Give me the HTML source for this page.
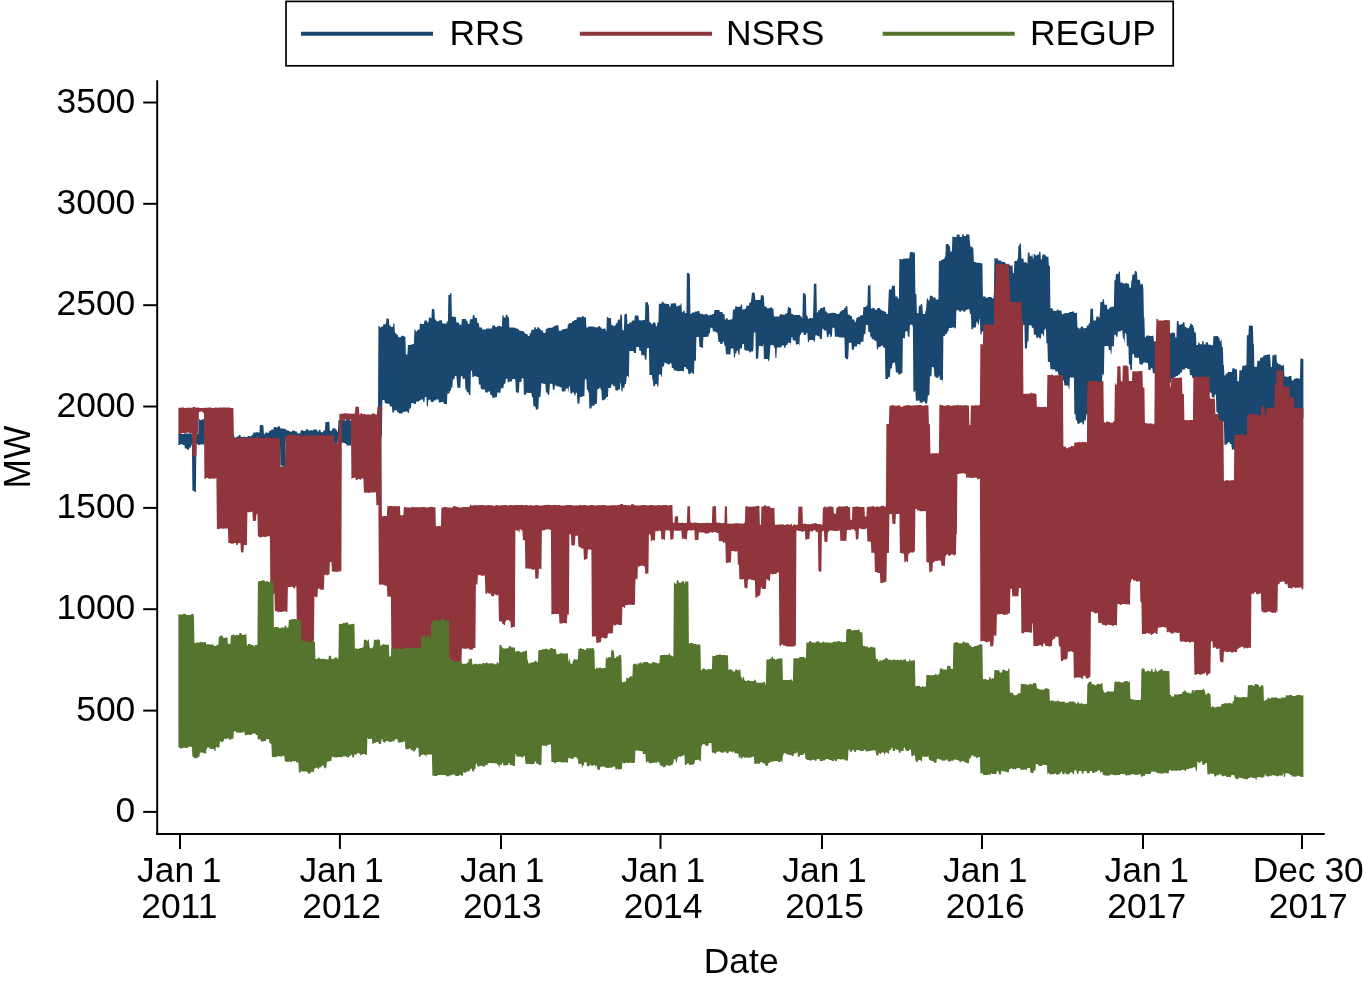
<!DOCTYPE html>
<html><head><meta charset="utf-8"><title>chart</title>
<style>
html,body{margin:0;padding:0;background:#fff;}
body{width:1363px;height:981px;overflow:hidden;}
svg{display:block;will-change:transform;}
text{font-family:"Liberation Sans",sans-serif;fill:#000;}
</style></head><body>
<svg width="1363" height="981" viewBox="0 0 1363 981">
<rect x="0" y="0" width="1363" height="981" fill="#fff"/>

<polygon fill="#1a476f" points="178.4,433.9 178.9,433.9 179.4,433.9 179.9,433.9 180.4,433.9 180.9,433.8 181.4,433.8 181.9,434.1 182.4,434.1 182.9,434.1 183.4,433.9 183.9,433.9 184.4,433.2 184.9,433.2 185.4,433.2 185.9,433.4 186.4,433.4 186.9,433.6 187.4,433.6 187.9,433.6 188.4,433.6 188.9,433.6 189.4,433.4 189.9,433.4 190.4,433.4 190.9,433.4 191.4,433.4 191.9,433.9 192.4,433.9 192.9,433.9 193.4,433.8 193.9,433.8 194.4,433.4 194.9,433.4 195.4,433.4 195.9,433.0 196.4,433.0 196.9,433.0 197.4,434.0 197.9,434.0 198.4,432.7 198.9,419.1 199.4,419.1 199.9,420.0 200.4,420.0 200.9,420.0 201.4,420.0 201.9,419.2 202.4,419.2 202.9,419.2 203.4,419.2 203.9,419.2 204.4,434.7 204.9,434.7 205.4,433.7 205.9,433.7 206.4,433.7 206.9,435.9 207.4,435.9 207.9,433.5 208.4,433.5 208.9,433.5 209.4,433.5 209.9,434.1 210.4,434.1 210.9,434.1 211.4,434.1 211.9,434.1 212.4,435.0 212.9,435.0 213.4,434.7 213.9,434.7 214.4,434.7 214.9,434.7 215.4,434.7 215.9,434.5 216.4,434.5 216.9,434.5 217.4,434.5 217.9,434.5 218.4,434.8 218.9,434.8 219.4,434.8 219.9,434.8 220.4,434.7 220.9,434.7 221.4,434.7 221.9,434.7 222.4,434.7 222.9,433.6 223.4,433.6 223.9,433.6 224.4,433.6 224.9,433.4 225.4,433.4 225.9,433.4 226.4,433.4 226.9,433.4 227.4,433.7 227.9,433.7 228.4,433.7 228.9,433.7 229.4,435.4 229.9,435.4 230.4,435.4 230.9,434.0 231.4,434.0 231.9,434.0 232.4,434.0 232.9,434.7 233.4,434.7 233.9,433.8 234.4,437.4 234.9,437.4 235.4,437.4 235.9,437.4 236.4,437.4 236.9,436.6 237.4,436.6 237.9,436.6 238.4,436.6 238.9,435.1 239.4,435.1 239.9,435.1 240.4,435.1 240.9,436.9 241.4,436.9 241.9,436.9 242.4,436.9 242.9,436.9 243.4,436.8 243.9,436.8 244.4,436.8 244.9,436.8 245.4,437.1 245.9,437.1 246.4,437.1 246.9,437.1 247.4,437.1 247.9,435.9 248.4,435.9 248.9,435.9 249.4,435.9 249.9,436.2 250.4,436.2 250.9,436.2 251.4,436.2 251.9,434.8 252.4,434.8 252.9,434.8 253.4,432.4 253.9,432.4 254.4,432.6 254.9,432.6 255.4,432.6 255.9,432.6 256.4,432.6 256.9,432.1 257.4,432.1 257.9,432.1 258.4,432.7 258.9,432.7 259.4,432.7 259.9,425.0 260.4,425.0 260.9,425.0 261.4,425.0 261.9,425.0 262.4,425.2 262.9,425.2 263.4,425.2 263.9,434.2 264.4,434.2 264.9,434.2 265.4,432.4 265.9,432.4 266.4,432.4 266.9,432.4 267.4,432.7 267.9,432.7 268.4,432.7 268.9,432.7 269.4,430.7 269.9,430.7 270.4,430.7 270.9,430.7 271.4,429.6 271.9,429.6 272.4,429.6 272.9,429.6 273.4,429.6 273.9,427.1 274.4,427.1 274.9,427.1 275.4,427.1 275.9,427.1 276.4,427.4 276.9,427.4 277.4,427.4 277.9,426.5 278.4,426.5 278.9,426.3 279.4,426.3 279.9,426.3 280.4,428.4 280.9,428.4 281.4,428.5 281.9,428.5 282.4,428.5 282.9,428.5 283.4,428.7 283.9,428.7 284.4,428.7 284.9,428.7 285.4,429.2 285.9,429.2 286.4,430.3 286.9,430.3 287.4,430.3 287.9,430.7 288.4,430.7 288.9,430.7 289.4,430.7 289.9,431.7 290.4,431.7 290.9,431.7 291.4,431.7 291.9,431.7 292.4,430.3 292.9,430.3 293.4,430.7 293.9,430.7 294.4,430.7 294.9,430.7 295.4,431.5 295.9,431.5 296.4,431.5 296.9,431.5 297.4,433.4 297.9,433.4 298.4,433.4 298.9,433.2 299.4,433.2 299.9,433.2 300.4,433.2 300.9,430.3 301.4,430.3 301.9,430.3 302.4,430.3 302.9,430.3 303.4,431.0 303.9,431.0 304.4,430.9 304.9,430.9 305.4,430.9 305.9,429.3 306.4,429.3 306.9,429.3 307.4,429.3 307.9,429.3 308.4,430.4 308.9,430.4 309.4,430.4 309.9,430.4 310.4,430.4 310.9,430.1 311.4,430.1 311.9,430.5 312.4,430.5 312.9,430.5 313.4,429.6 313.9,429.6 314.4,429.6 314.9,429.6 315.4,429.6 315.9,429.6 316.4,429.6 316.9,429.6 317.4,431.4 317.9,431.4 318.4,431.4 318.9,429.7 319.4,429.7 319.9,429.7 320.4,429.7 320.9,432.2 321.4,432.2 321.9,432.2 322.4,432.2 322.9,432.2 323.4,430.5 323.9,430.5 324.4,430.5 324.9,430.5 325.4,422.1 325.9,422.1 326.4,422.1 326.9,422.1 327.4,422.1 327.9,421.8 328.4,421.8 328.9,421.8 329.4,422.4 329.9,430.7 330.4,430.7 330.9,430.7 331.4,430.7 331.9,430.7 332.4,428.3 332.9,428.3 333.4,428.3 333.9,428.3 334.4,428.2 334.9,428.2 335.4,428.2 335.9,430.0 336.4,430.0 336.9,430.0 337.4,432.0 337.9,432.0 338.4,420.3 338.9,420.3 339.4,420.3 339.9,420.7 340.4,420.7 340.9,419.4 341.4,419.4 341.9,419.4 342.4,419.6 342.9,419.6 343.4,420.3 343.9,420.3 344.4,420.3 344.9,420.3 345.4,420.6 345.9,420.6 346.4,419.4 346.9,419.4 347.4,419.4 347.9,419.4 348.4,419.4 348.9,419.6 349.4,419.6 349.9,420.6 350.4,420.6 350.9,420.6 351.4,435.0 351.9,435.0 352.4,435.0 352.9,435.0 353.4,435.0 353.9,435.3 354.4,435.3 354.9,435.3 355.4,435.3 355.9,435.3 356.4,434.0 356.9,434.0 357.4,434.0 357.9,433.5 358.4,433.5 358.9,433.5 359.4,433.5 359.9,433.5 360.4,434.9 360.9,434.9 361.4,434.9 361.9,434.9 362.4,434.9 362.9,433.6 363.4,433.6 363.9,433.6 364.4,433.6 364.9,434.8 365.4,434.8 365.9,434.6 366.4,434.6 366.9,434.6 367.4,434.6 367.9,435.4 368.4,435.4 368.9,435.4 369.4,435.4 369.9,434.2 370.4,434.2 370.9,434.2 371.4,434.2 371.9,434.0 372.4,434.0 372.9,434.0 373.4,434.4 373.9,434.4 374.4,434.4 374.9,434.4 375.4,434.4 375.9,434.7 376.4,434.7 376.9,433.9 377.4,433.9 377.9,433.9 378.4,326.1 378.9,326.1 379.4,326.1 379.9,327.6 380.4,327.6 380.9,327.6 381.4,326.4 381.9,326.4 382.4,326.4 382.9,326.4 383.4,324.3 383.9,324.3 384.4,324.3 384.9,324.3 385.4,324.3 385.9,324.3 386.4,318.5 386.9,318.5 387.4,318.5 387.9,318.5 388.4,318.5 388.9,319.5 389.4,325.6 389.9,325.6 390.4,325.6 390.9,326.9 391.4,326.9 391.9,326.9 392.4,326.9 392.9,326.9 393.4,323.6 393.9,323.6 394.4,323.6 394.9,333.3 395.4,333.3 395.9,333.3 396.4,333.3 396.9,335.0 397.4,335.0 397.9,335.0 398.4,337.2 398.9,337.2 399.4,337.2 399.9,337.2 400.4,337.2 400.9,337.2 401.4,335.8 401.9,335.8 402.4,335.8 402.9,335.8 403.4,335.8 403.9,336.5 404.4,336.5 404.9,336.5 405.4,336.5 405.9,354.6 406.4,354.6 406.9,354.6 407.4,354.6 407.9,344.9 408.4,344.9 408.9,344.9 409.4,344.9 409.9,344.8 410.4,344.8 410.9,344.8 411.4,344.8 411.9,344.8 412.4,344.0 412.9,344.0 413.4,344.0 413.9,344.0 414.4,329.8 414.9,329.8 415.4,329.8 415.9,331.4 416.4,331.4 416.9,331.4 417.4,329.7 417.9,329.7 418.4,329.7 418.9,329.7 419.4,329.7 419.9,323.6 420.4,323.6 420.9,323.6 421.4,324.1 421.9,324.1 422.4,324.1 422.9,324.1 423.4,324.1 423.9,324.1 424.4,320.4 424.9,320.4 425.4,320.4 425.9,320.4 426.4,320.4 426.9,320.4 427.4,322.6 427.9,322.6 428.4,322.6 428.9,317.5 429.4,317.5 429.9,317.5 430.4,317.5 430.9,318.6 431.4,318.6 431.9,308.9 432.4,308.9 432.9,308.9 433.4,308.9 433.9,308.9 434.4,310.3 434.9,319.4 435.4,319.4 435.9,319.4 436.4,321.2 436.9,321.2 437.4,321.2 437.9,321.2 438.4,321.2 438.9,321.2 439.4,320.2 439.9,320.2 440.4,320.2 440.9,320.2 441.4,320.2 441.9,320.2 442.4,323.4 442.9,323.4 443.4,323.4 443.9,323.4 444.4,323.4 444.9,323.4 445.4,323.8 445.9,323.8 446.4,323.8 446.9,321.5 447.4,321.5 447.9,321.5 448.4,294.9 448.9,294.9 449.4,294.9 449.9,294.9 450.4,293.1 450.9,293.1 451.4,293.1 451.9,316.6 452.4,316.6 452.9,316.6 453.4,316.6 453.9,316.9 454.4,316.9 454.9,316.9 455.4,316.9 455.9,316.9 456.4,322.6 456.9,322.6 457.4,322.6 457.9,322.6 458.4,322.6 458.9,322.6 459.4,324.7 459.9,324.7 460.4,324.7 460.9,324.7 461.4,324.7 461.9,319.1 462.4,319.1 462.9,319.1 463.4,319.1 463.9,319.1 464.4,319.1 464.9,318.9 465.4,318.9 465.9,318.9 466.4,320.8 466.9,320.8 467.4,320.8 467.9,323.9 468.4,323.9 468.9,323.9 469.4,323.9 469.9,319.3 470.4,319.3 470.9,319.3 471.4,319.3 471.9,319.3 472.4,319.3 472.9,315.1 473.4,315.1 473.9,315.1 474.4,315.1 474.9,318.0 475.4,318.0 475.9,318.0 476.4,318.0 476.9,318.0 477.4,323.1 477.9,323.1 478.4,323.1 478.9,323.1 479.4,327.5 479.9,327.5 480.4,327.5 480.9,327.5 481.4,327.5 481.9,327.5 482.4,329.5 482.9,329.5 483.4,329.5 483.9,329.5 484.4,329.5 484.9,329.5 485.4,329.5 485.9,329.5 486.4,328.4 486.9,328.4 487.4,328.4 487.9,328.4 488.4,328.4 488.9,328.4 489.4,328.5 489.9,328.5 490.4,328.5 490.9,328.5 491.4,328.5 491.9,328.5 492.4,325.5 492.9,325.5 493.4,325.5 493.9,325.5 494.4,325.5 494.9,325.5 495.4,327.0 495.9,327.0 496.4,327.0 496.9,327.0 497.4,326.3 497.9,326.3 498.4,326.3 498.9,325.8 499.4,325.8 499.9,325.8 500.4,326.6 500.9,326.6 501.4,326.6 501.9,326.6 502.4,315.3 502.9,315.3 503.4,315.3 503.9,317.4 504.4,317.4 504.9,317.4 505.4,317.4 505.9,314.7 506.4,314.7 506.9,314.7 507.4,314.7 507.9,317.3 508.4,317.3 508.9,317.3 509.4,327.5 509.9,327.5 510.4,327.5 510.9,327.5 511.4,327.5 511.9,327.5 512.4,327.5 512.9,327.5 513.4,327.5 513.9,327.7 514.4,327.7 514.9,327.7 515.4,327.7 515.9,327.7 516.4,328.7 516.9,328.7 517.4,328.7 517.9,328.7 518.4,328.7 518.9,330.5 519.4,330.5 519.9,330.5 520.4,330.5 520.9,331.1 521.4,331.1 521.9,331.1 522.4,331.1 522.9,331.1 523.4,331.1 523.9,332.4 524.4,332.4 524.9,332.4 525.4,334.1 525.9,334.1 526.4,334.1 526.9,334.1 527.4,334.1 527.9,336.1 528.4,336.1 528.9,336.1 529.4,336.1 529.9,333.1 530.4,333.1 530.9,333.1 531.4,329.8 531.9,329.8 532.4,329.8 532.9,329.8 533.4,329.8 533.9,329.8 534.4,327.0 534.9,327.0 535.4,327.0 535.9,329.0 536.4,329.0 536.9,329.0 537.4,327.3 537.9,327.3 538.4,327.3 538.9,327.3 539.4,328.7 539.9,328.7 540.4,328.7 540.9,330.4 541.4,330.4 541.9,330.4 542.4,330.4 542.9,330.4 543.4,333.0 543.9,333.0 544.4,333.0 544.9,333.0 545.4,333.0 545.9,328.7 546.4,328.7 546.9,328.7 547.4,328.7 547.9,327.8 548.4,327.8 548.9,327.8 549.4,327.8 549.9,327.7 550.4,327.7 550.9,327.7 551.4,327.7 551.9,327.7 552.4,327.7 552.9,326.8 553.4,326.8 553.9,326.8 554.4,325.8 554.9,325.8 555.4,325.8 555.9,325.8 556.4,325.3 556.9,325.3 557.4,325.3 557.9,325.3 558.4,325.3 558.9,330.8 559.4,330.8 559.9,330.8 560.4,330.8 560.9,330.8 561.4,330.8 561.9,329.6 562.4,329.6 562.9,329.6 563.4,329.0 563.9,329.0 564.4,329.0 564.9,329.0 565.4,329.0 565.9,328.4 566.4,328.4 566.9,328.4 567.4,328.4 567.9,324.3 568.4,324.3 568.9,324.3 569.4,323.0 569.9,323.0 570.4,323.0 570.9,323.0 571.4,323.0 571.9,323.0 572.4,320.9 572.9,320.9 573.4,320.9 573.9,320.9 574.4,319.9 574.9,319.9 575.4,319.9 575.9,319.9 576.4,319.9 576.9,317.3 577.4,317.3 577.9,317.3 578.4,317.3 578.9,317.3 579.4,317.3 579.9,317.3 580.4,317.3 580.9,317.3 581.4,317.3 581.9,317.3 582.4,316.1 582.9,316.1 583.4,316.1 583.9,317.3 584.4,317.3 584.9,317.3 585.4,317.3 585.9,317.6 586.4,327.4 586.9,327.4 587.4,327.4 587.9,327.4 588.4,326.5 588.9,326.5 589.4,326.5 589.9,326.6 590.4,326.6 590.9,326.6 591.4,326.6 591.9,326.6 592.4,326.6 592.9,326.8 593.4,326.8 593.9,326.8 594.4,326.8 594.9,326.8 595.4,327.6 595.9,327.6 596.4,327.6 596.9,327.6 597.4,327.1 597.9,327.1 598.4,327.1 598.9,326.1 599.4,326.1 599.9,326.1 600.4,327.5 600.9,327.5 601.4,327.5 601.9,329.0 602.4,329.0 602.9,329.0 603.4,328.6 603.9,328.6 604.4,328.6 604.9,328.6 605.4,328.6 605.9,330.7 606.4,330.7 606.9,317.0 607.4,317.0 607.9,317.0 608.4,318.0 608.9,318.0 609.4,318.0 609.9,318.0 610.4,318.0 610.9,318.0 611.4,325.0 611.9,325.0 612.4,325.0 612.9,325.8 613.4,325.8 613.9,325.8 614.4,325.8 614.9,325.8 615.4,325.8 615.9,323.2 616.4,323.2 616.9,323.2 617.4,323.2 617.9,319.5 618.4,319.5 618.9,319.5 619.4,319.5 619.9,320.4 620.4,314.5 620.9,314.5 621.4,314.5 621.9,315.3 622.4,330.2 622.9,330.2 623.4,330.2 623.9,330.2 624.4,314.2 624.9,314.2 625.4,314.2 625.9,314.2 626.4,313.5 626.9,313.5 627.4,323.9 627.9,323.9 628.4,323.9 628.9,323.9 629.4,322.5 629.9,322.5 630.4,322.5 630.9,322.5 631.4,322.5 631.9,320.6 632.4,320.6 632.9,320.6 633.4,320.6 633.9,320.6 634.4,320.6 634.9,315.5 635.4,315.5 635.9,315.5 636.4,315.5 636.9,315.5 637.4,315.4 637.9,315.4 638.4,315.4 638.9,320.3 639.4,320.3 639.9,320.3 640.4,320.3 640.9,320.3 641.4,320.4 641.9,320.4 642.4,320.4 642.9,320.1 643.4,320.1 643.9,320.1 644.4,320.1 644.9,320.1 645.4,302.2 645.9,302.2 646.4,302.2 646.9,302.2 647.4,302.2 647.9,302.2 648.4,305.2 648.9,305.2 649.4,322.2 649.9,322.2 650.4,322.2 650.9,322.2 651.4,324.3 651.9,324.3 652.4,324.3 652.9,322.4 653.4,322.4 653.9,322.4 654.4,322.4 654.9,322.4 655.4,322.4 655.9,326.3 656.4,326.3 656.9,326.3 657.4,322.3 657.9,322.3 658.4,322.3 658.9,303.8 659.4,303.8 659.9,303.8 660.4,303.8 660.9,303.8 661.4,303.8 661.9,301.8 662.4,301.8 662.9,301.8 663.4,301.8 663.9,303.4 664.4,303.4 664.9,303.4 665.4,303.4 665.9,303.4 666.4,304.1 666.9,304.1 667.4,304.1 667.9,304.1 668.4,304.1 668.9,304.1 669.4,306.5 669.9,306.5 670.4,306.5 670.9,303.5 671.4,303.5 671.9,303.5 672.4,303.5 672.9,303.5 673.4,303.3 673.9,303.3 674.4,303.3 674.9,303.3 675.4,303.3 675.9,303.3 676.4,306.2 676.9,306.2 677.4,306.2 677.9,306.2 678.4,306.2 678.9,305.3 679.4,305.3 679.9,305.3 680.4,305.3 680.9,303.3 681.4,303.3 681.9,312.2 682.4,312.2 682.9,312.2 683.4,310.4 683.9,310.4 684.4,310.4 684.9,313.1 685.4,313.1 685.9,313.1 686.4,313.1 686.9,272.9 687.4,272.9 687.9,272.9 688.4,272.9 688.9,272.9 689.4,274.5 689.9,274.5 690.4,314.0 690.9,314.0 691.4,314.0 691.9,312.4 692.4,312.4 692.9,312.4 693.4,312.4 693.9,312.4 694.4,312.4 694.9,311.6 695.4,311.6 695.9,311.6 696.4,311.6 696.9,311.6 697.4,311.6 697.9,311.0 698.4,311.0 698.9,311.0 699.4,311.0 699.9,313.7 700.4,313.7 700.9,313.7 701.4,313.7 701.9,313.7 702.4,313.7 702.9,314.4 703.4,314.4 703.9,314.4 704.4,314.4 704.9,314.4 705.4,314.4 705.9,314.0 706.4,314.0 706.9,314.0 707.4,314.0 707.9,315.6 708.4,315.6 708.9,315.6 709.4,315.6 709.9,314.7 710.4,314.7 710.9,314.7 711.4,314.7 711.9,314.7 712.4,314.1 712.9,314.1 713.4,314.1 713.9,314.1 714.4,310.0 714.9,310.0 715.4,310.0 715.9,310.0 716.4,310.0 716.9,310.0 717.4,310.1 717.9,310.1 718.4,310.1 718.9,310.1 719.4,310.1 719.9,312.1 720.4,312.1 720.9,312.1 721.4,312.1 721.9,312.1 722.4,312.1 722.9,313.9 723.4,313.9 723.9,313.9 724.4,313.9 724.9,319.5 725.4,319.5 725.9,319.5 726.4,317.9 726.9,317.9 727.4,317.9 727.9,319.7 728.4,319.7 728.9,319.7 729.4,319.7 729.9,319.7 730.4,319.7 730.9,319.2 731.4,319.2 731.9,319.2 732.4,319.2 732.9,309.5 733.4,309.5 733.9,309.5 734.4,309.5 734.9,309.5 735.4,306.1 735.9,306.1 736.4,306.1 736.9,307.0 737.4,307.0 737.9,307.0 738.4,306.8 738.9,306.8 739.4,306.8 739.9,306.8 740.4,306.8 740.9,304.4 741.4,304.4 741.9,304.4 742.4,309.4 742.9,309.4 743.4,309.4 743.9,309.4 744.4,309.4 744.9,308.8 745.4,308.8 745.9,308.8 746.4,305.8 746.9,305.8 747.4,305.8 747.9,305.8 748.4,305.8 748.9,305.8 749.4,302.6 749.9,302.6 750.4,302.6 750.9,302.6 751.4,298.1 751.9,292.7 752.4,292.7 752.9,292.7 753.4,292.4 753.9,292.4 754.4,292.4 754.9,294.7 755.4,300.1 755.9,300.1 756.4,300.1 756.9,300.1 757.4,300.1 757.9,299.9 758.4,299.9 758.9,299.9 759.4,299.9 759.9,299.9 760.4,299.9 760.9,295.3 761.4,295.3 761.9,295.3 762.4,295.3 762.9,295.3 763.4,295.3 763.9,296.9 764.4,306.5 764.9,306.5 765.4,306.5 765.9,306.5 766.4,306.5 766.9,308.3 767.4,308.3 767.9,308.3 768.4,308.3 768.9,308.3 769.4,308.3 769.9,307.4 770.4,307.4 770.9,307.4 771.4,307.4 771.9,307.4 772.4,308.4 772.9,308.4 773.4,308.4 773.9,316.5 774.4,316.5 774.9,316.5 775.4,316.5 775.9,316.5 776.4,316.5 776.9,316.4 777.4,316.4 777.9,316.4 778.4,316.4 778.9,316.4 779.4,316.4 779.9,314.3 780.4,314.3 780.9,314.3 781.4,314.3 781.9,314.3 782.4,314.7 782.9,314.7 783.4,314.7 783.9,314.7 784.4,314.7 784.9,314.7 785.4,313.6 785.9,313.6 786.4,313.6 786.9,313.6 787.4,312.5 787.9,306.8 788.4,306.8 788.9,306.8 789.4,307.9 789.9,307.9 790.4,307.9 790.9,307.9 791.4,314.0 791.9,314.0 792.4,314.0 792.9,314.0 793.4,315.1 793.9,315.1 794.4,315.1 794.9,315.1 795.4,315.1 795.9,315.1 796.4,315.1 796.9,315.1 797.4,315.1 797.9,315.1 798.4,315.1 798.9,315.1 799.4,315.1 799.9,315.1 800.4,316.2 800.9,316.2 801.4,316.2 801.9,318.1 802.4,318.1 802.9,293.1 803.4,293.1 803.9,293.1 804.4,293.1 804.9,294.6 805.4,294.6 805.9,294.6 806.4,315.4 806.9,315.4 807.4,315.4 807.9,318.7 808.4,318.7 808.9,318.7 809.4,318.1 809.9,318.1 810.4,318.1 810.9,318.1 811.4,318.2 811.9,318.2 812.4,318.2 812.9,317.9 813.4,304.5 813.9,283.8 814.4,283.8 814.9,283.8 815.4,283.8 815.9,283.6 816.4,283.6 816.9,312.6 817.4,312.6 817.9,312.6 818.4,310.0 818.9,310.0 819.4,310.0 819.9,310.0 820.4,307.9 820.9,307.9 821.4,307.9 821.9,307.9 822.4,307.9 822.9,307.9 823.4,306.9 823.9,306.9 824.4,306.9 824.9,306.9 825.4,311.5 825.9,311.5 826.4,311.5 826.9,311.5 827.4,313.2 827.9,313.2 828.4,313.2 828.9,313.3 829.4,313.3 829.9,313.3 830.4,313.3 830.9,313.3 831.4,312.7 831.9,312.7 832.4,312.7 832.9,312.7 833.4,312.7 833.9,312.7 834.4,313.0 834.9,313.0 835.4,313.0 835.9,313.0 836.4,313.9 836.9,313.9 837.4,313.9 837.9,313.7 838.4,313.7 838.9,313.7 839.4,313.7 839.9,311.6 840.4,311.6 840.9,311.6 841.4,311.6 841.9,310.0 842.4,310.0 842.9,310.0 843.4,310.0 843.9,310.0 844.4,308.1 844.9,308.1 845.4,308.1 845.9,306.1 846.4,306.1 846.9,306.1 847.4,306.7 847.9,314.7 848.4,314.7 848.9,314.7 849.4,314.7 849.9,314.7 850.4,316.0 850.9,316.0 851.4,316.0 851.9,316.0 852.4,319.5 852.9,319.5 853.4,319.5 853.9,319.5 854.4,319.5 854.9,322.1 855.4,322.1 855.9,322.1 856.4,317.9 856.9,317.9 857.4,317.9 857.9,316.7 858.4,316.7 858.9,316.7 859.4,316.7 859.9,316.7 860.4,315.3 860.9,315.3 861.4,315.3 861.9,315.3 862.4,315.3 862.9,315.3 863.4,307.1 863.9,307.1 864.4,307.1 864.9,307.1 865.4,307.1 865.9,307.1 866.4,305.4 866.9,305.4 867.4,305.4 867.9,285.6 868.4,285.6 868.9,285.6 869.4,285.6 869.9,285.6 870.4,283.5 870.9,308.4 871.4,308.4 871.9,308.4 872.4,308.4 872.9,307.8 873.4,307.8 873.9,307.8 874.4,307.8 874.9,309.8 875.4,309.8 875.9,309.8 876.4,309.8 876.9,309.8 877.4,308.0 877.9,308.0 878.4,308.0 878.9,308.0 879.4,308.0 879.9,308.0 880.4,309.4 880.9,309.4 881.4,309.4 881.9,310.7 882.4,310.7 882.9,310.7 883.4,310.7 883.9,310.7 884.4,311.8 884.9,311.8 885.4,311.8 885.9,311.8 886.4,314.0 886.9,314.0 887.4,314.0 887.9,314.0 888.4,300.6 888.9,289.5 889.4,289.5 889.9,289.5 890.4,289.5 890.9,289.5 891.4,289.5 891.9,285.7 892.4,285.7 892.9,285.7 893.4,285.7 893.9,285.7 894.4,285.7 894.9,285.7 895.4,296.4 895.9,296.4 896.4,296.4 896.9,296.4 897.4,296.4 897.9,298.6 898.4,298.6 898.9,298.6 899.4,258.9 899.9,258.9 900.4,258.9 900.9,258.9 901.4,259.2 901.9,259.2 902.4,259.2 902.9,259.2 903.4,258.4 903.9,258.4 904.4,258.4 904.9,258.4 905.4,258.4 905.9,258.4 906.4,258.4 906.9,258.4 907.4,258.4 907.9,258.4 908.4,258.4 908.9,258.4 909.4,257.7 909.9,251.9 910.4,251.9 910.9,251.9 911.4,251.9 911.9,251.9 912.4,251.9 912.9,252.4 913.4,252.4 913.9,252.4 914.4,252.4 914.9,252.4 915.4,293.9 915.9,293.9 916.4,293.9 916.9,313.3 917.4,313.3 917.9,313.3 918.4,313.3 918.9,305.7 919.4,305.7 919.9,305.7 920.4,305.7 920.9,304.0 921.4,304.0 921.9,304.0 922.4,306.1 922.9,314.1 923.4,314.1 923.9,314.1 924.4,314.1 924.9,314.1 925.4,311.0 925.9,311.0 926.4,305.4 926.9,298.6 927.4,298.6 927.9,298.6 928.4,300.4 928.9,300.4 929.4,300.4 929.9,295.7 930.4,295.7 930.9,295.7 931.4,295.7 931.9,295.7 932.4,295.7 932.9,297.4 933.4,297.4 933.9,297.4 934.4,297.4 934.9,297.4 935.4,297.4 935.9,299.4 936.4,299.4 936.9,299.4 937.4,299.4 937.9,299.4 938.4,299.4 938.9,261.0 939.4,261.0 939.9,261.0 940.4,261.0 940.9,261.0 941.4,259.7 941.9,259.7 942.4,259.7 942.9,259.7 943.4,259.0 943.9,259.0 944.4,259.0 944.9,256.4 945.4,256.4 945.9,244.0 946.4,244.0 946.9,244.0 947.4,244.0 947.9,244.0 948.4,244.0 948.9,245.7 949.4,245.7 949.9,245.7 950.4,251.5 950.9,251.5 951.4,251.5 951.9,251.5 952.4,236.6 952.9,236.6 953.4,236.6 953.9,237.0 954.4,237.0 954.9,237.0 955.4,237.0 955.9,237.0 956.4,237.0 956.9,234.4 957.4,234.4 957.9,234.4 958.4,234.4 958.9,234.4 959.4,234.4 959.9,237.1 960.4,237.1 960.9,237.1 961.4,237.1 961.9,237.1 962.4,234.1 962.9,234.1 963.4,234.1 963.9,236.1 964.4,236.1 964.9,236.1 965.4,236.1 965.9,236.1 966.4,234.2 966.9,234.2 967.4,234.2 967.9,234.2 968.4,234.2 968.9,234.7 969.4,234.7 969.9,242.0 970.4,246.7 970.9,246.7 971.4,246.7 971.9,246.7 972.4,246.7 972.9,248.4 973.4,248.4 973.9,262.1 974.4,262.1 974.9,262.1 975.4,262.1 975.9,262.1 976.4,262.7 976.9,262.7 977.4,262.7 977.9,262.7 978.4,262.7 978.9,262.7 979.4,263.1 979.9,263.1 980.4,263.1 980.9,263.1 981.4,263.5 981.9,263.5 982.4,263.5 982.9,296.4 983.4,296.4 983.9,296.4 984.4,296.4 984.9,296.4 985.4,296.4 985.9,297.8 986.4,297.8 986.9,297.8 987.4,297.8 987.9,297.8 988.4,297.1 988.9,297.1 989.4,297.1 989.9,297.1 990.4,297.1 990.9,297.3 991.4,297.3 991.9,297.3 992.4,298.5 992.9,298.5 993.4,298.5 993.9,292.6 994.4,258.3 994.9,258.3 995.4,258.3 995.9,258.5 996.4,258.5 996.9,258.5 997.4,258.5 997.9,258.5 998.4,260.4 998.9,260.4 999.4,260.4 999.9,260.4 1000.4,260.4 1000.9,260.4 1001.4,261.8 1001.9,261.8 1002.4,261.8 1002.9,261.9 1003.4,261.9 1003.9,261.9 1004.4,261.9 1004.9,261.9 1005.4,263.4 1005.9,263.4 1006.4,263.4 1006.9,264.9 1007.4,264.9 1007.9,264.9 1008.4,264.9 1008.9,264.8 1009.4,264.8 1009.9,264.8 1010.4,265.7 1010.9,265.7 1011.4,265.7 1011.9,265.7 1012.4,264.2 1012.9,273.1 1013.4,273.1 1013.9,273.1 1014.4,261.0 1014.9,261.0 1015.4,261.0 1015.9,261.0 1016.4,261.0 1016.9,261.0 1017.4,259.1 1017.9,259.1 1018.4,245.7 1018.9,245.7 1019.4,245.7 1019.9,243.3 1020.4,243.3 1020.9,243.3 1021.4,258.4 1021.9,258.4 1022.4,258.4 1022.9,258.4 1023.4,258.4 1023.9,262.3 1024.4,262.3 1024.9,262.3 1025.4,262.3 1025.9,262.3 1026.4,262.3 1026.9,263.5 1027.4,263.5 1027.9,252.6 1028.4,252.6 1028.9,252.6 1029.4,252.6 1029.9,256.3 1030.4,256.3 1030.9,256.3 1031.4,256.3 1031.9,254.4 1032.4,254.4 1032.9,258.7 1033.4,258.7 1033.9,254.1 1034.4,254.1 1034.9,254.1 1035.4,255.5 1035.9,255.5 1036.4,255.5 1036.9,255.5 1037.4,254.6 1037.9,254.6 1038.4,254.6 1038.9,254.6 1039.4,251.5 1039.9,251.5 1040.4,251.5 1040.9,259.5 1041.4,259.5 1041.9,259.5 1042.4,254.4 1042.9,254.4 1043.4,254.4 1043.9,254.4 1044.4,254.4 1044.9,255.2 1045.4,255.2 1045.9,255.2 1046.4,256.7 1046.9,256.7 1047.4,256.7 1047.9,256.8 1048.4,256.8 1048.9,265.8 1049.4,265.8 1049.9,265.8 1050.4,308.3 1050.9,308.3 1051.4,308.3 1051.9,308.3 1052.4,308.3 1052.9,310.5 1053.4,310.5 1053.9,310.5 1054.4,310.9 1054.9,310.9 1055.4,310.9 1055.9,310.9 1056.4,310.9 1056.9,309.8 1057.4,309.8 1057.9,309.8 1058.4,309.8 1058.9,310.5 1059.4,310.5 1059.9,310.5 1060.4,310.6 1060.9,310.6 1061.4,310.6 1061.9,314.3 1062.4,314.3 1062.9,314.3 1063.4,314.3 1063.9,313.2 1064.4,313.2 1064.9,313.2 1065.4,313.2 1065.9,313.2 1066.4,313.2 1066.9,312.9 1067.4,312.9 1067.9,312.9 1068.4,312.9 1068.9,312.9 1069.4,311.9 1069.9,311.9 1070.4,311.9 1070.9,311.9 1071.4,311.9 1071.9,311.9 1072.4,311.6 1072.9,311.6 1073.4,311.6 1073.9,311.6 1074.4,313.1 1074.9,313.1 1075.4,313.1 1075.9,313.1 1076.4,313.1 1076.9,311.7 1077.4,327.4 1077.9,327.4 1078.4,327.4 1078.9,328.5 1079.4,328.5 1079.9,328.5 1080.4,328.5 1080.9,326.6 1081.4,326.6 1081.9,326.6 1082.4,326.6 1082.9,326.6 1083.4,328.2 1083.9,328.2 1084.4,328.2 1084.9,328.2 1085.4,328.0 1085.9,328.0 1086.4,328.0 1086.9,325.5 1087.4,325.5 1087.9,325.5 1088.4,325.5 1088.9,323.3 1089.4,323.3 1089.9,323.3 1090.4,308.7 1090.9,308.7 1091.4,308.7 1091.9,308.5 1092.4,308.5 1092.9,308.5 1093.4,320.6 1093.9,320.6 1094.4,320.6 1094.9,320.6 1095.4,320.6 1095.9,320.6 1096.4,316.5 1096.9,316.5 1097.4,316.5 1097.9,316.5 1098.4,316.5 1098.9,318.1 1099.4,318.1 1099.9,312.6 1100.4,302.1 1100.9,302.1 1101.4,302.1 1101.9,302.1 1102.4,302.1 1102.9,299.3 1103.4,299.3 1103.9,299.3 1104.4,304.8 1104.9,304.8 1105.4,304.8 1105.9,304.8 1106.4,304.8 1106.9,304.8 1107.4,309.3 1107.9,309.3 1108.4,309.3 1108.9,309.3 1109.4,307.8 1109.9,307.8 1110.4,307.8 1110.9,306.8 1111.4,306.8 1111.9,306.8 1112.4,306.8 1112.9,306.8 1113.4,306.8 1113.9,306.8 1114.4,280.3 1114.9,280.3 1115.4,280.3 1115.9,274.0 1116.4,274.0 1116.9,274.0 1117.4,274.0 1117.9,274.0 1118.4,274.0 1118.9,271.4 1119.4,271.4 1119.9,271.4 1120.4,282.6 1120.9,282.6 1121.4,282.6 1121.9,282.6 1122.4,282.6 1122.9,283.6 1123.4,283.6 1123.9,283.6 1124.4,283.6 1124.9,283.6 1125.4,283.6 1125.9,283.0 1126.4,283.0 1126.9,283.0 1127.4,283.7 1127.9,283.7 1128.4,283.7 1128.9,283.7 1129.4,287.7 1129.9,287.7 1130.4,287.7 1130.9,287.7 1131.4,280.6 1131.9,280.6 1132.4,274.5 1132.9,274.5 1133.4,274.5 1133.9,274.5 1134.4,274.5 1134.9,271.1 1135.4,271.1 1135.9,271.1 1136.4,271.8 1136.9,271.8 1137.4,279.7 1137.9,279.7 1138.4,279.7 1138.9,279.7 1139.4,279.7 1139.9,279.7 1140.4,284.2 1140.9,284.2 1141.4,284.2 1141.9,284.2 1142.4,284.2 1142.9,284.2 1143.4,289.5 1143.9,317.6 1144.4,317.6 1144.9,337.2 1145.4,337.2 1145.9,337.2 1146.4,335.5 1146.9,335.5 1147.4,335.5 1147.9,335.5 1148.4,335.8 1148.9,335.8 1149.4,335.8 1149.9,335.8 1150.4,336.0 1150.9,336.0 1151.4,336.0 1151.9,336.0 1152.4,335.8 1152.9,335.8 1153.4,335.8 1153.9,341.4 1154.4,341.4 1154.9,341.4 1155.4,341.4 1155.9,341.4 1156.4,341.9 1156.9,341.9 1157.4,341.9 1157.9,341.9 1158.4,342.3 1158.9,342.3 1159.4,342.3 1159.9,342.3 1160.4,342.3 1160.9,342.3 1161.4,342.3 1161.9,337.4 1162.4,337.4 1162.9,337.4 1163.4,337.4 1163.9,337.4 1164.4,337.9 1164.9,337.9 1165.4,337.9 1165.9,337.9 1166.4,337.9 1166.9,337.9 1167.4,335.2 1167.9,335.2 1168.4,335.2 1168.9,335.2 1169.4,333.3 1169.9,333.3 1170.4,333.3 1170.9,333.3 1171.4,333.3 1171.9,332.4 1172.4,332.4 1172.9,332.4 1173.4,332.4 1173.9,332.4 1174.4,332.9 1174.9,332.9 1175.4,337.5 1175.9,337.5 1176.4,337.5 1176.9,320.9 1177.4,320.9 1177.9,320.9 1178.4,320.9 1178.9,324.7 1179.4,324.7 1179.9,324.7 1180.4,324.7 1180.9,324.2 1181.4,324.2 1181.9,324.2 1182.4,324.2 1182.9,322.2 1183.4,322.2 1183.9,322.2 1184.4,322.2 1184.9,326.9 1185.4,326.9 1185.9,326.9 1186.4,326.9 1186.9,328.3 1187.4,328.3 1187.9,328.3 1188.4,328.3 1188.9,328.3 1189.4,326.0 1189.9,326.0 1190.4,323.5 1190.9,323.5 1191.4,323.5 1191.9,324.9 1192.4,324.9 1192.9,324.9 1193.4,327.5 1193.9,327.5 1194.4,332.6 1194.9,332.6 1195.4,332.6 1195.9,332.6 1196.4,345.0 1196.9,345.0 1197.4,345.0 1197.9,345.0 1198.4,342.4 1198.9,342.4 1199.4,342.4 1199.9,344.3 1200.4,344.3 1200.9,344.3 1201.4,344.3 1201.9,344.3 1202.4,340.9 1202.9,340.9 1203.4,340.9 1203.9,344.5 1204.4,344.5 1204.9,344.5 1205.4,344.5 1205.9,342.2 1206.4,342.2 1206.9,342.2 1207.4,342.2 1207.9,342.2 1208.4,344.8 1208.9,344.8 1209.4,344.8 1209.9,344.8 1210.4,344.8 1210.9,344.8 1211.4,345.3 1211.9,345.3 1212.4,345.3 1212.9,345.3 1213.4,336.2 1213.9,336.2 1214.4,336.2 1214.9,336.2 1215.4,336.0 1215.9,336.0 1216.4,336.0 1216.9,336.0 1217.4,336.0 1217.9,336.0 1218.4,337.6 1218.9,337.6 1219.4,337.6 1219.9,341.3 1220.4,341.3 1220.9,341.3 1221.4,338.0 1221.9,347.1 1222.4,347.1 1222.9,347.1 1223.4,364.9 1223.9,364.9 1224.4,375.5 1224.9,375.5 1225.4,375.5 1225.9,373.5 1226.4,373.5 1226.9,373.5 1227.4,373.5 1227.9,371.8 1228.4,371.8 1228.9,371.8 1229.4,371.9 1229.9,371.9 1230.4,371.9 1230.9,371.9 1231.4,371.9 1231.9,371.9 1232.4,368.2 1232.9,368.2 1233.4,368.2 1233.9,368.2 1234.4,368.2 1234.9,369.3 1235.4,369.3 1235.9,369.3 1236.4,369.3 1236.9,369.3 1237.4,381.3 1237.9,381.3 1238.4,381.3 1238.9,381.3 1239.4,370.3 1239.9,370.3 1240.4,370.3 1240.9,370.3 1241.4,370.3 1241.9,370.3 1242.4,365.8 1242.9,365.8 1243.4,365.8 1243.9,365.8 1244.4,365.8 1244.9,365.8 1245.4,365.3 1245.9,365.3 1246.4,365.3 1246.9,335.2 1247.4,335.2 1247.9,335.2 1248.4,335.2 1248.9,325.5 1249.4,325.5 1249.9,325.5 1250.4,325.5 1250.9,325.5 1251.4,325.5 1251.9,326.1 1252.4,326.1 1252.9,326.1 1253.4,344.3 1253.9,344.3 1254.4,366.8 1254.9,366.8 1255.4,366.8 1255.9,366.8 1256.4,366.8 1256.9,366.8 1257.4,360.7 1257.9,360.7 1258.4,360.7 1258.9,360.7 1259.4,360.7 1259.9,360.7 1260.4,357.4 1260.9,357.4 1261.4,357.4 1261.9,357.4 1262.4,357.4 1262.9,357.4 1263.4,355.8 1263.9,355.8 1264.4,355.8 1264.9,355.0 1265.4,355.0 1265.9,355.0 1266.4,355.0 1266.9,355.0 1267.4,354.4 1267.9,354.4 1268.4,354.4 1268.9,354.4 1269.4,354.4 1269.9,354.4 1270.4,359.7 1270.9,366.9 1271.4,366.9 1271.9,366.9 1272.4,355.2 1272.9,355.2 1273.4,355.2 1273.9,355.2 1274.4,355.2 1274.9,354.6 1275.4,354.6 1275.9,354.6 1276.4,354.5 1276.9,362.8 1277.4,362.8 1277.9,362.8 1278.4,364.2 1278.9,364.2 1279.4,364.2 1279.9,364.2 1280.4,364.2 1280.9,365.4 1281.4,365.4 1281.9,365.4 1282.4,365.4 1282.9,365.4 1283.4,365.4 1283.9,364.3 1284.4,376.5 1284.9,376.5 1285.4,376.5 1285.9,376.5 1286.4,376.5 1286.9,376.5 1287.4,377.0 1287.9,377.0 1288.4,377.0 1288.9,376.1 1289.4,376.1 1289.9,376.1 1290.4,376.1 1290.9,376.1 1291.4,376.1 1291.9,380.4 1292.4,380.4 1292.9,380.4 1293.4,380.4 1293.9,378.7 1294.4,378.7 1294.9,378.7 1295.4,378.7 1295.9,378.3 1296.4,378.3 1296.9,378.3 1297.4,378.3 1297.9,378.3 1298.4,378.3 1298.9,378.3 1299.4,379.1 1299.9,379.1 1300.4,358.3 1300.9,358.3 1301.4,358.3 1301.9,359.0 1302.4,359.0 1302.9,359.0 1303.4,359.0 1303.4,418.0 1302.9,418.0 1302.4,415.9 1301.9,415.9 1301.4,415.9 1300.9,419.0 1300.4,419.0 1299.9,419.0 1299.4,418.0 1298.9,418.0 1298.4,418.0 1297.9,418.0 1297.4,418.0 1296.9,418.0 1296.4,416.8 1295.9,416.8 1295.4,416.8 1294.9,416.8 1294.4,416.8 1293.9,422.7 1293.4,422.7 1292.9,422.7 1292.4,422.7 1291.9,422.2 1291.4,422.2 1290.9,422.2 1290.4,422.2 1289.9,423.7 1289.4,423.7 1288.9,423.7 1288.4,418.8 1287.9,418.8 1287.4,418.8 1286.9,418.8 1286.4,420.0 1285.9,420.0 1285.4,420.0 1284.9,420.0 1284.4,420.0 1283.9,420.0 1283.4,427.3 1282.9,427.3 1282.4,427.3 1281.9,425.1 1281.4,425.1 1280.9,425.1 1280.4,425.1 1279.9,425.1 1279.4,429.6 1278.9,429.6 1278.4,429.6 1277.9,423.8 1277.4,423.8 1276.9,423.8 1276.4,423.8 1275.9,423.8 1275.4,431.8 1274.9,431.8 1274.4,431.8 1273.9,431.8 1273.4,431.8 1272.9,428.8 1272.4,428.8 1271.9,428.8 1271.4,428.8 1270.9,431.3 1270.4,431.3 1269.9,431.3 1269.4,431.3 1268.9,431.6 1268.4,431.6 1267.9,431.6 1267.4,432.8 1266.9,432.8 1266.4,432.8 1265.9,432.8 1265.4,436.2 1264.9,436.2 1264.4,436.2 1263.9,436.2 1263.4,435.7 1262.9,435.7 1262.4,435.7 1261.9,435.7 1261.4,435.7 1260.9,437.6 1260.4,437.6 1259.9,437.6 1259.4,437.6 1258.9,437.6 1258.4,436.7 1257.9,436.7 1257.4,436.7 1256.9,439.5 1256.4,439.5 1255.9,439.5 1255.4,440.0 1254.9,440.0 1254.4,440.0 1253.9,440.0 1253.4,440.0 1252.9,439.6 1252.4,439.6 1251.9,439.6 1251.4,439.9 1250.9,439.9 1250.4,439.9 1249.9,439.9 1249.4,439.9 1248.9,439.9 1248.4,440.6 1247.9,440.6 1247.4,440.6 1246.9,442.0 1246.4,442.0 1245.9,442.0 1245.4,442.0 1244.9,442.0 1244.4,442.0 1243.9,449.2 1243.4,449.2 1242.9,449.2 1242.4,449.2 1241.9,449.2 1241.4,449.4 1240.9,449.4 1240.4,449.4 1239.9,449.4 1239.4,449.4 1238.9,449.4 1238.4,452.6 1237.9,452.6 1237.4,452.6 1236.9,452.6 1236.4,452.6 1235.9,452.6 1235.4,449.6 1234.9,449.6 1234.4,449.6 1233.9,449.6 1233.4,449.4 1232.9,449.4 1232.4,449.4 1231.9,449.4 1231.4,444.1 1230.9,444.1 1230.4,444.1 1229.9,444.1 1229.4,442.0 1228.9,442.0 1228.4,442.0 1227.9,443.5 1227.4,443.5 1226.9,443.5 1226.4,444.7 1225.9,444.7 1225.4,444.7 1224.9,444.7 1224.4,444.7 1223.9,421.8 1223.4,421.8 1222.9,421.8 1222.4,421.8 1221.9,421.5 1221.4,421.5 1220.9,421.5 1220.4,421.5 1219.9,422.6 1219.4,422.6 1218.9,422.6 1218.4,422.6 1217.9,413.6 1217.4,412.2 1216.9,412.2 1216.4,412.2 1215.9,394.4 1215.4,394.4 1214.9,394.4 1214.4,397.6 1213.9,397.6 1213.4,397.6 1212.9,397.6 1212.4,397.6 1211.9,397.6 1211.4,392.8 1210.9,392.8 1210.4,392.8 1209.9,392.2 1209.4,392.2 1208.9,392.2 1208.4,392.2 1207.9,392.2 1207.4,392.2 1206.9,390.1 1206.4,390.1 1205.9,390.1 1205.4,390.1 1204.9,387.9 1204.4,387.9 1203.9,387.9 1203.4,388.6 1202.9,388.6 1202.4,388.6 1201.9,385.8 1201.4,385.8 1200.9,385.8 1200.4,385.8 1199.9,385.8 1199.4,385.8 1198.9,384.0 1198.4,384.0 1197.9,384.0 1197.4,379.5 1196.9,379.5 1196.4,379.5 1195.9,379.5 1195.4,379.5 1194.9,379.5 1194.4,378.0 1193.9,378.0 1193.4,378.0 1192.9,378.0 1192.4,378.0 1191.9,375.2 1191.4,375.2 1190.9,375.2 1190.4,375.2 1189.9,375.2 1189.4,369.1 1188.9,369.1 1188.4,369.1 1187.9,369.1 1187.4,369.1 1186.9,368.1 1186.4,368.1 1185.9,368.1 1185.4,368.1 1184.9,369.4 1184.4,369.4 1183.9,369.4 1183.4,369.4 1182.9,369.4 1182.4,369.4 1181.9,372.6 1181.4,372.6 1180.9,372.6 1180.4,372.6 1179.9,374.5 1179.4,374.5 1178.9,374.5 1178.4,374.5 1177.9,376.1 1177.4,376.1 1176.9,376.1 1176.4,376.1 1175.9,376.1 1175.4,377.4 1174.9,377.4 1174.4,377.4 1173.9,377.4 1173.4,377.4 1172.9,379.0 1172.4,379.0 1171.9,379.0 1171.4,379.0 1170.9,382.4 1170.4,382.4 1169.9,382.4 1169.4,380.7 1168.9,380.7 1168.4,380.7 1167.9,380.7 1167.4,377.5 1166.9,377.5 1166.4,377.5 1165.9,377.5 1165.4,380.0 1164.9,380.0 1164.4,380.0 1163.9,380.0 1163.4,380.0 1162.9,378.9 1162.4,378.9 1161.9,378.9 1161.4,376.0 1160.9,376.0 1160.4,376.0 1159.9,376.0 1159.4,376.0 1158.9,375.2 1158.4,375.2 1157.9,375.2 1157.4,375.2 1156.9,373.4 1156.4,373.4 1155.9,373.4 1155.4,373.4 1154.9,373.2 1154.4,373.2 1153.9,373.2 1153.4,373.2 1152.9,373.2 1152.4,368.3 1151.9,368.3 1151.4,368.3 1150.9,368.3 1150.4,369.9 1149.9,369.9 1149.4,369.9 1148.9,369.9 1148.4,369.9 1147.9,363.0 1147.4,363.0 1146.9,363.0 1146.4,363.0 1145.9,362.6 1145.4,362.6 1144.9,362.6 1144.4,362.6 1143.9,362.6 1143.4,362.6 1142.9,364.6 1142.4,364.6 1141.9,364.6 1141.4,364.3 1140.9,364.3 1140.4,364.3 1139.9,364.3 1139.4,364.3 1138.9,357.7 1138.4,357.7 1137.9,357.7 1137.4,357.7 1136.9,357.7 1136.4,357.7 1135.9,357.8 1135.4,357.8 1134.9,357.8 1134.4,357.8 1133.9,354.1 1133.4,354.1 1132.9,354.1 1132.4,354.1 1131.9,369.9 1131.4,369.9 1130.9,369.9 1130.4,369.9 1129.9,364.6 1129.4,364.6 1128.9,364.6 1128.4,346.2 1127.9,346.2 1127.4,346.2 1126.9,346.2 1126.4,335.3 1125.9,333.3 1125.4,333.3 1124.9,333.3 1124.4,345.5 1123.9,338.5 1123.4,338.5 1122.9,338.5 1122.4,330.6 1121.9,330.6 1121.4,330.6 1120.9,330.6 1120.4,331.4 1119.9,331.4 1119.4,331.4 1118.9,331.4 1118.4,331.4 1117.9,331.4 1117.4,337.0 1116.9,337.0 1116.4,337.0 1115.9,334.7 1115.4,334.7 1114.9,334.7 1114.4,334.7 1113.9,346.2 1113.4,346.2 1112.9,346.2 1112.4,346.2 1111.9,346.2 1111.4,354.0 1110.9,354.0 1110.4,350.0 1109.9,350.0 1109.4,350.0 1108.9,350.0 1108.4,345.9 1107.9,345.9 1107.4,345.9 1106.9,345.9 1106.4,345.9 1105.9,346.3 1105.4,346.3 1104.9,346.3 1104.4,346.3 1103.9,376.0 1103.4,374.3 1102.9,374.3 1102.4,374.3 1101.9,382.3 1101.4,382.3 1100.9,382.3 1100.4,382.3 1099.9,382.3 1099.4,382.3 1098.9,389.9 1098.4,389.9 1097.9,389.9 1097.4,389.9 1096.9,389.9 1096.4,389.9 1095.9,400.2 1095.4,400.2 1094.9,400.2 1094.4,400.7 1093.9,400.7 1093.4,400.7 1092.9,400.7 1092.4,405.0 1091.9,405.0 1091.4,405.0 1090.9,405.0 1090.4,405.0 1089.9,411.8 1089.4,411.8 1088.9,411.8 1088.4,411.8 1087.9,414.2 1087.4,414.2 1086.9,414.2 1086.4,414.2 1085.9,420.3 1085.4,420.3 1084.9,420.3 1084.4,420.3 1083.9,424.4 1083.4,424.4 1082.9,424.4 1082.4,422.6 1081.9,422.6 1081.4,422.6 1080.9,422.6 1080.4,422.6 1079.9,422.6 1079.4,423.7 1078.9,423.7 1078.4,423.7 1077.9,423.7 1077.4,423.7 1076.9,420.2 1076.4,420.2 1075.9,420.2 1075.4,414.3 1074.9,414.3 1074.4,414.3 1073.9,377.5 1073.4,377.5 1072.9,377.5 1072.4,377.4 1071.9,377.4 1071.4,377.4 1070.9,377.4 1070.4,377.4 1069.9,377.4 1069.4,389.3 1068.9,389.3 1068.4,385.7 1067.9,385.7 1067.4,385.7 1066.9,385.5 1066.4,385.5 1065.9,385.5 1065.4,385.5 1064.9,385.5 1064.4,385.5 1063.9,380.6 1063.4,380.6 1062.9,380.6 1062.4,378.7 1061.9,378.7 1061.4,378.7 1060.9,378.7 1060.4,375.5 1059.9,375.5 1059.4,375.5 1058.9,375.5 1058.4,375.5 1057.9,371.6 1057.4,371.6 1056.9,371.6 1056.4,371.6 1055.9,371.6 1055.4,371.6 1054.9,369.4 1054.4,369.4 1053.9,369.4 1053.4,369.4 1052.9,369.4 1052.4,369.4 1051.9,369.2 1051.4,369.2 1050.9,369.2 1050.4,369.2 1049.9,362.0 1049.4,362.0 1048.9,362.0 1048.4,362.0 1047.9,362.0 1047.4,343.2 1046.9,343.2 1046.4,343.2 1045.9,327.4 1045.4,329.5 1044.9,329.5 1044.4,329.5 1043.9,336.5 1043.4,336.5 1042.9,333.7 1042.4,333.7 1041.9,333.7 1041.4,333.7 1040.9,338.5 1040.4,338.5 1039.9,338.5 1039.4,338.5 1038.9,336.9 1038.4,336.9 1037.9,336.9 1037.4,338.3 1036.9,338.3 1036.4,338.3 1035.9,334.7 1035.4,334.7 1034.9,334.7 1034.4,334.7 1033.9,334.7 1033.4,327.7 1032.9,327.7 1032.4,327.7 1031.9,327.7 1031.4,325.3 1030.9,325.3 1030.4,325.3 1029.9,325.3 1029.4,325.3 1028.9,325.3 1028.4,341.5 1027.9,341.5 1027.4,341.5 1026.9,348.5 1026.4,348.5 1025.9,348.5 1025.4,348.5 1024.9,348.5 1024.4,324.7 1023.9,324.7 1023.4,324.7 1022.9,327.0 1022.4,327.0 1021.9,327.0 1021.4,327.0 1020.9,325.3 1020.4,325.3 1019.9,325.3 1019.4,324.8 1018.9,324.8 1018.4,324.8 1017.9,324.8 1017.4,324.8 1016.9,326.6 1016.4,326.6 1015.9,326.6 1015.4,326.6 1014.9,326.6 1014.4,326.6 1013.9,326.2 1013.4,326.2 1012.9,326.2 1012.4,326.2 1011.9,329.3 1011.4,329.3 1010.9,329.3 1010.4,329.3 1009.9,330.6 1009.4,330.6 1008.9,330.6 1008.4,329.8 1007.9,329.8 1007.4,329.8 1006.9,329.8 1006.4,329.8 1005.9,329.8 1005.4,331.7 1004.9,331.7 1004.4,331.7 1003.9,331.7 1003.4,334.8 1002.9,334.8 1002.4,334.8 1001.9,334.8 1001.4,334.8 1000.9,334.8 1000.4,332.9 999.9,332.9 999.4,332.9 998.9,332.9 998.4,332.9 997.9,332.9 997.4,333.2 996.9,333.2 996.4,333.2 995.9,333.2 995.4,333.2 994.9,333.2 994.4,329.2 993.9,329.2 993.4,329.2 992.9,329.2 992.4,329.2 991.9,337.6 991.4,337.6 990.9,337.6 990.4,337.6 989.9,337.6 989.4,337.6 988.9,331.5 988.4,331.5 987.9,331.5 987.4,331.5 986.9,336.9 986.4,336.9 985.9,336.9 985.4,334.9 984.9,334.9 984.4,334.9 983.9,334.9 983.4,331.6 982.9,331.6 982.4,331.6 981.9,331.6 981.4,334.5 980.9,334.5 980.4,334.5 979.9,318.9 979.4,318.9 978.9,324.5 978.4,324.5 977.9,324.5 977.4,322.0 976.9,322.0 976.4,322.0 975.9,327.6 975.4,327.6 974.9,327.6 974.4,327.6 973.9,327.6 973.4,327.6 972.9,329.3 972.4,329.3 971.9,329.3 971.4,329.3 970.9,313.9 970.4,313.9 969.9,313.9 969.4,309.2 968.9,309.2 968.4,309.2 967.9,309.2 967.4,309.8 966.9,309.8 966.4,309.8 965.9,309.8 965.4,311.6 964.9,311.6 964.4,311.6 963.9,311.6 963.4,311.6 962.9,311.6 962.4,310.2 961.9,310.2 961.4,310.2 960.9,311.7 960.4,311.7 959.9,311.7 959.4,311.7 958.9,310.2 958.4,310.2 957.9,310.2 957.4,310.2 956.9,310.2 956.4,310.2 955.9,328.4 955.4,328.4 954.9,328.4 954.4,327.4 953.9,327.4 953.4,327.4 952.9,327.4 952.4,327.4 951.9,327.4 951.4,328.1 950.9,328.1 950.4,328.1 949.9,328.1 949.4,328.1 948.9,328.1 948.4,331.4 947.9,331.4 947.4,331.4 946.9,334.0 946.4,334.0 945.9,334.0 945.4,334.0 944.9,335.9 944.4,335.9 943.9,335.9 943.4,335.9 942.9,384.8 942.4,379.7 941.9,379.7 941.4,379.7 940.9,379.7 940.4,379.7 939.9,379.7 939.4,375.6 938.9,375.6 938.4,377.7 937.9,377.7 937.4,377.7 936.9,377.7 936.4,377.7 935.9,377.7 935.4,376.6 934.9,376.6 934.4,376.6 933.9,369.0 933.4,366.9 932.9,366.9 932.4,366.9 931.9,366.9 931.4,376.2 930.9,376.2 930.4,376.2 929.9,376.2 929.4,395.1 928.9,395.4 928.4,395.4 927.9,395.4 927.4,401.6 926.9,403.7 926.4,403.7 925.9,403.7 925.4,403.7 924.9,401.5 924.4,401.5 923.9,401.5 923.4,401.5 922.9,401.5 922.4,402.8 921.9,402.8 921.4,402.8 920.9,402.8 920.4,402.8 919.9,402.8 919.4,400.5 918.9,400.5 918.4,400.5 917.9,400.8 917.4,400.8 916.9,400.8 916.4,400.8 915.9,400.8 915.4,390.4 914.9,390.4 914.4,392.1 913.9,392.1 913.4,392.1 912.9,328.6 912.4,324.8 911.9,324.8 911.4,324.8 910.9,324.8 910.4,324.8 909.9,324.8 909.4,336.8 908.9,336.8 908.4,336.8 907.9,336.8 907.4,331.3 906.9,331.3 906.4,331.3 905.9,331.3 905.4,331.3 904.9,338.5 904.4,338.5 903.9,337.9 903.4,337.9 902.9,337.9 902.4,373.3 901.9,373.3 901.4,373.3 900.9,373.3 900.4,374.6 899.9,374.6 899.4,374.6 898.9,374.6 898.4,374.6 897.9,372.5 897.4,372.5 896.9,372.5 896.4,372.5 895.9,372.5 895.4,365.9 894.9,362.6 894.4,362.6 893.9,362.6 893.4,363.2 892.9,363.2 892.4,363.2 891.9,368.5 891.4,368.5 890.9,368.5 890.4,368.5 889.9,377.0 889.4,377.0 888.9,377.0 888.4,377.0 887.9,378.9 887.4,378.9 886.9,378.9 886.4,378.9 885.9,378.9 885.4,378.9 884.9,347.8 884.4,347.8 883.9,347.8 883.4,347.8 882.9,345.7 882.4,345.7 881.9,345.7 881.4,345.7 880.9,345.7 880.4,347.0 879.9,347.0 879.4,347.0 878.9,347.0 878.4,347.0 877.9,349.4 877.4,349.4 876.9,349.4 876.4,340.8 875.9,340.8 875.4,340.8 874.9,340.8 874.4,340.8 873.9,339.2 873.4,339.2 872.9,339.2 872.4,339.2 871.9,339.2 871.4,336.7 870.9,336.7 870.4,336.7 869.9,331.9 869.4,331.9 868.9,331.9 868.4,331.9 867.9,325.0 867.4,325.0 866.9,325.0 866.4,325.0 865.9,325.0 865.4,334.2 864.9,334.2 864.4,334.2 863.9,334.2 863.4,341.8 862.9,341.8 862.4,341.8 861.9,341.8 861.4,341.8 860.9,341.8 860.4,345.1 859.9,345.1 859.4,344.0 858.9,344.0 858.4,344.0 857.9,344.0 857.4,344.0 856.9,346.5 856.4,346.5 855.9,346.5 855.4,346.5 854.9,346.5 854.4,346.5 853.9,349.7 853.4,349.7 852.9,349.7 852.4,349.7 851.9,349.7 851.4,342.7 850.9,342.7 850.4,342.7 849.9,342.7 849.4,342.7 848.9,342.7 848.4,356.0 847.9,359.3 847.4,359.3 846.9,359.3 846.4,359.3 845.9,358.1 845.4,358.1 844.9,358.1 844.4,337.4 843.9,337.4 843.4,337.4 842.9,337.4 842.4,337.4 841.9,337.4 841.4,337.6 840.9,337.6 840.4,337.6 839.9,337.6 839.4,337.6 838.9,337.6 838.4,336.8 837.9,336.8 837.4,336.8 836.9,336.8 836.4,336.8 835.9,336.8 835.4,336.8 834.9,336.8 834.4,327.7 833.9,327.7 833.4,327.7 832.9,327.7 832.4,327.7 831.9,336.1 831.4,337.1 830.9,337.1 830.4,337.1 829.9,334.1 829.4,334.1 828.9,334.1 828.4,337.0 827.9,337.0 827.4,337.0 826.9,337.0 826.4,330.6 825.9,330.6 825.4,330.6 824.9,330.6 824.4,330.6 823.9,330.6 823.4,328.7 822.9,328.7 822.4,328.7 821.9,339.1 821.4,339.1 820.9,339.1 820.4,339.1 819.9,339.1 819.4,336.3 818.9,336.3 818.4,336.3 817.9,336.3 817.4,336.3 816.9,335.3 816.4,335.3 815.9,335.3 815.4,335.3 814.9,341.4 814.4,341.4 813.9,341.4 813.4,340.0 812.9,340.0 812.4,340.0 811.9,339.9 811.4,339.9 810.9,339.9 810.4,339.9 809.9,339.9 809.4,339.9 808.9,342.0 808.4,342.0 807.9,342.0 807.4,332.9 806.9,332.9 806.4,332.9 805.9,335.1 805.4,335.1 804.9,335.1 804.4,335.1 803.9,335.1 803.4,332.6 802.9,332.6 802.4,332.6 801.9,332.6 801.4,332.6 800.9,334.8 800.4,334.8 799.9,334.8 799.4,346.7 798.9,344.0 798.4,344.0 797.9,344.0 797.4,344.5 796.9,344.5 796.4,344.5 795.9,344.5 795.4,340.6 794.9,340.6 794.4,340.6 793.9,340.6 793.4,340.6 792.9,340.6 792.4,337.2 791.9,337.2 791.4,337.2 790.9,346.2 790.4,342.8 789.9,342.8 789.4,342.8 788.9,342.8 788.4,342.8 787.9,342.8 787.4,345.1 786.9,345.1 786.4,345.1 785.9,345.1 785.4,347.9 784.9,347.9 784.4,347.9 783.9,345.5 783.4,345.5 782.9,345.5 782.4,345.5 781.9,345.5 781.4,347.3 780.9,347.3 780.4,347.3 779.9,347.3 779.4,347.4 778.9,347.4 778.4,347.4 777.9,347.4 777.4,347.4 776.9,347.4 776.4,357.9 775.9,357.9 775.4,357.9 774.9,347.9 774.4,347.9 773.9,345.4 773.4,345.4 772.9,345.4 772.4,345.0 771.9,345.0 771.4,345.0 770.9,345.0 770.4,345.0 769.9,353.6 769.4,359.4 768.9,361.3 768.4,361.3 767.9,359.1 767.4,359.1 766.9,359.1 766.4,359.1 765.9,359.1 765.4,359.1 764.9,359.1 764.4,359.1 763.9,359.1 763.4,343.3 762.9,346.3 762.4,346.3 761.9,346.3 761.4,346.3 760.9,346.3 760.4,345.9 759.9,345.9 759.4,345.9 758.9,345.9 758.4,355.0 757.9,358.8 757.4,358.8 756.9,358.8 756.4,358.8 755.9,358.8 755.4,332.6 754.9,332.6 754.4,332.6 753.9,332.6 753.4,348.8 752.9,351.4 752.4,351.4 751.9,351.4 751.4,351.4 750.9,351.4 750.4,352.4 749.9,352.4 749.4,352.4 748.9,350.8 748.4,350.8 747.9,350.8 747.4,350.8 746.9,350.8 746.4,350.8 745.9,350.2 745.4,350.2 744.9,350.2 744.4,350.2 743.9,343.5 743.4,344.0 742.9,344.0 742.4,344.0 741.9,348.4 741.4,348.4 740.9,348.4 740.4,348.4 739.9,348.4 739.4,354.7 738.9,354.7 738.4,354.7 737.9,350.6 737.4,350.6 736.9,350.6 736.4,353.3 735.9,353.3 735.4,353.3 734.9,357.4 734.4,357.4 733.9,357.4 733.4,348.6 732.9,348.6 732.4,348.6 731.9,348.6 731.4,348.6 730.9,348.6 730.4,354.6 729.9,354.6 729.4,354.6 728.9,354.6 728.4,354.3 727.9,354.3 727.4,354.3 726.9,354.3 726.4,354.3 725.9,354.3 725.4,345.7 724.9,345.7 724.4,345.7 723.9,341.7 723.4,341.7 722.9,341.7 722.4,344.1 721.9,344.1 721.4,344.1 720.9,344.1 720.4,344.1 719.9,342.1 719.4,342.1 718.9,342.1 718.4,342.1 717.9,337.0 717.4,332.5 716.9,332.5 716.4,332.5 715.9,332.5 715.4,331.6 714.9,331.6 714.4,331.6 713.9,331.6 713.4,331.6 712.9,331.6 712.4,327.8 711.9,327.8 711.4,327.8 710.9,327.8 710.4,327.8 709.9,333.6 709.4,333.6 708.9,333.6 708.4,336.8 707.9,336.8 707.4,336.8 706.9,336.8 706.4,336.8 705.9,336.8 705.4,336.9 704.9,336.9 704.4,336.9 703.9,336.9 703.4,336.9 702.9,347.9 702.4,347.9 701.9,347.9 701.4,347.1 700.9,347.1 700.4,347.1 699.9,347.1 699.4,347.1 698.9,337.1 698.4,337.1 697.9,337.1 697.4,337.1 696.9,337.1 696.4,337.1 695.9,360.7 695.4,360.7 694.9,360.7 694.4,360.7 693.9,373.9 693.4,373.9 692.9,373.9 692.4,372.4 691.9,372.4 691.4,372.4 690.9,372.4 690.4,373.9 689.9,373.9 689.4,373.9 688.9,373.9 688.4,373.9 687.9,369.3 687.4,369.3 686.9,369.3 686.4,369.3 685.9,367.0 685.4,367.0 684.9,367.0 684.4,367.0 683.9,371.3 683.4,371.3 682.9,371.3 682.4,371.3 681.9,371.0 681.4,371.0 680.9,371.0 680.4,371.0 679.9,371.0 679.4,371.0 678.9,371.2 678.4,371.2 677.9,371.2 677.4,371.2 676.9,371.2 676.4,370.5 675.9,370.5 675.4,370.5 674.9,370.5 674.4,370.5 673.9,370.5 673.4,367.9 672.9,367.9 672.4,367.9 671.9,367.9 671.4,363.2 670.9,363.2 670.4,363.2 669.9,363.2 669.4,364.6 668.9,364.6 668.4,364.6 667.9,364.6 667.4,363.6 666.9,363.6 666.4,363.6 665.9,362.7 665.4,362.7 664.9,362.7 664.4,362.7 663.9,366.4 663.4,366.4 662.9,366.4 662.4,366.4 661.9,377.0 661.4,377.0 660.9,374.4 660.4,374.4 659.9,374.4 659.4,374.4 658.9,374.4 658.4,386.5 657.9,386.5 657.4,386.5 656.9,384.1 656.4,384.1 655.9,384.1 655.4,384.1 654.9,386.2 654.4,386.2 653.9,386.2 653.4,386.2 652.9,380.6 652.4,380.6 651.9,374.9 651.4,374.9 650.9,374.9 650.4,374.9 649.9,374.9 649.4,374.9 648.9,347.4 648.4,348.3 647.9,348.3 647.4,348.3 646.9,348.3 646.4,359.8 645.9,359.8 645.4,359.8 644.9,359.8 644.4,355.3 643.9,355.3 643.4,355.3 642.9,355.3 642.4,355.2 641.9,355.2 641.4,355.2 640.9,350.8 640.4,350.8 639.9,350.8 639.4,350.8 638.9,347.1 638.4,347.1 637.9,347.1 637.4,347.1 636.9,347.1 636.4,347.1 635.9,353.0 635.4,353.0 634.9,353.0 634.4,353.0 633.9,353.0 633.4,351.0 632.9,351.0 632.4,351.0 631.9,351.0 631.4,350.9 630.9,350.9 630.4,350.9 629.9,350.9 629.4,350.9 628.9,377.4 628.4,377.4 627.9,375.9 627.4,375.9 626.9,375.9 626.4,379.7 625.9,384.0 625.4,384.0 624.9,384.0 624.4,387.7 623.9,387.7 623.4,387.7 622.9,387.7 622.4,391.4 621.9,391.4 621.4,391.4 620.9,382.9 620.4,382.9 619.9,389.6 619.4,389.6 618.9,389.6 618.4,389.6 617.9,390.6 617.4,390.6 616.9,390.6 616.4,390.6 615.9,390.6 615.4,390.6 614.9,384.7 614.4,386.5 613.9,386.5 613.4,386.5 612.9,384.6 612.4,384.6 611.9,384.6 611.4,384.6 610.9,388.1 610.4,388.1 609.9,388.1 609.4,388.1 608.9,388.1 608.4,388.1 607.9,396.9 607.4,396.9 606.9,396.9 606.4,396.9 605.9,398.8 605.4,398.8 604.9,398.8 604.4,400.3 603.9,400.3 603.4,400.3 602.9,400.3 602.4,400.3 601.9,400.3 601.4,390.2 600.9,390.2 600.4,387.7 599.9,387.7 599.4,387.7 598.9,389.1 598.4,389.1 597.9,389.1 597.4,389.1 596.9,404.0 596.4,404.0 595.9,404.0 595.4,404.0 594.9,404.0 594.4,405.8 593.9,405.8 593.4,405.8 592.9,405.8 592.4,405.8 591.9,405.8 591.4,408.5 590.9,408.5 590.4,408.5 589.9,408.5 589.4,408.5 588.9,392.7 588.4,392.7 587.9,390.0 587.4,390.0 586.9,390.0 586.4,379.3 585.9,379.3 585.4,379.3 584.9,379.3 584.4,396.0 583.9,396.0 583.4,396.0 582.9,396.0 582.4,397.0 581.9,397.0 581.4,397.0 580.9,397.0 580.4,397.0 579.9,397.0 579.4,403.4 578.9,403.4 578.4,403.4 577.9,403.4 577.4,403.4 576.9,392.7 576.4,392.7 575.9,392.7 575.4,395.6 574.9,395.6 574.4,395.6 573.9,392.5 573.4,392.5 572.9,392.5 572.4,392.5 571.9,393.4 571.4,393.4 570.9,393.4 570.4,393.4 569.9,386.5 569.4,386.5 568.9,386.5 568.4,393.0 567.9,388.5 567.4,388.5 566.9,388.5 566.4,388.5 565.9,388.5 565.4,391.2 564.9,391.2 564.4,391.2 563.9,391.4 563.4,391.4 562.9,391.4 562.4,391.4 561.9,391.4 561.4,387.3 560.9,387.3 560.4,387.3 559.9,387.3 559.4,386.5 558.9,386.5 558.4,386.5 557.9,386.5 557.4,386.5 556.9,386.5 556.4,385.6 555.9,385.6 555.4,385.6 554.9,385.6 554.4,389.8 553.9,389.8 553.4,389.8 552.9,389.8 552.4,383.8 551.9,383.8 551.4,383.8 550.9,383.8 550.4,383.8 549.9,383.8 549.4,393.4 548.9,395.0 548.4,395.0 547.9,395.0 547.4,392.5 546.9,392.5 546.4,392.5 545.9,392.5 545.4,383.7 544.9,383.9 544.4,383.9 543.9,383.9 543.4,383.9 542.9,383.2 542.4,383.2 541.9,383.2 541.4,383.2 540.9,391.2 540.4,397.0 539.9,397.0 539.4,397.0 538.9,397.0 538.4,407.9 537.9,409.4 537.4,409.4 536.9,409.4 536.4,409.4 535.9,409.4 535.4,406.6 534.9,406.6 534.4,406.6 533.9,406.6 533.4,406.6 532.9,397.2 532.4,397.2 531.9,397.2 531.4,392.9 530.9,392.9 530.4,392.9 529.9,392.9 529.4,392.9 528.9,392.9 528.4,392.8 527.9,392.8 527.4,392.8 526.9,392.8 526.4,392.8 525.9,394.7 525.4,394.7 524.9,394.7 524.4,394.7 523.9,394.7 523.4,378.2 522.9,378.2 522.4,378.2 521.9,378.2 521.4,382.0 520.9,382.0 520.4,382.0 519.9,382.0 519.4,382.0 518.9,394.1 518.4,392.4 517.9,392.4 517.4,392.4 516.9,392.4 516.4,392.4 515.9,392.4 515.4,380.9 514.9,379.1 514.4,379.1 513.9,379.1 513.4,379.1 512.9,379.1 512.4,379.1 511.9,381.4 511.4,381.4 510.9,381.4 510.4,381.4 509.9,381.4 509.4,381.4 508.9,382.4 508.4,382.4 507.9,382.4 507.4,378.7 506.9,378.7 506.4,378.7 505.9,378.7 505.4,383.7 504.9,383.7 504.4,383.7 503.9,383.7 503.4,388.2 502.9,388.2 502.4,388.2 501.9,388.2 501.4,388.2 500.9,388.2 500.4,392.8 499.9,392.8 499.4,392.8 498.9,392.8 498.4,392.6 497.9,392.6 497.4,392.6 496.9,396.9 496.4,396.9 495.9,396.9 495.4,396.9 494.9,397.8 494.4,397.8 493.9,397.8 493.4,397.8 492.9,397.8 492.4,397.8 491.9,395.1 491.4,395.1 490.9,395.1 490.4,395.1 489.9,391.6 489.4,391.6 488.9,391.6 488.4,391.6 487.9,392.4 487.4,392.4 486.9,392.4 486.4,392.4 485.9,392.4 485.4,392.4 484.9,389.5 484.4,389.5 483.9,389.5 483.4,389.5 482.9,389.5 482.4,389.5 481.9,389.0 481.4,389.0 480.9,389.0 480.4,384.6 479.9,384.6 479.4,384.6 478.9,384.6 478.4,376.9 477.9,376.9 477.4,376.9 476.9,376.9 476.4,376.2 475.9,376.2 475.4,376.2 474.9,376.2 474.4,376.2 473.9,376.2 473.4,377.2 472.9,377.2 472.4,377.2 471.9,370.7 471.4,370.7 470.9,370.7 470.4,395.0 469.9,395.0 469.4,395.0 468.9,395.0 468.4,392.3 467.9,392.3 467.4,392.3 466.9,392.3 466.4,389.6 465.9,389.6 465.4,389.6 464.9,378.5 464.4,378.5 463.9,379.0 463.4,379.0 462.9,379.0 462.4,376.2 461.9,376.2 461.4,376.2 460.9,376.2 460.4,387.9 459.9,387.7 459.4,387.7 458.9,387.7 458.4,387.7 457.9,387.7 457.4,387.7 456.9,382.0 456.4,376.1 455.9,376.1 455.4,376.1 454.9,376.1 454.4,379.2 453.9,379.2 453.4,379.2 452.9,379.2 452.4,387.6 451.9,387.6 451.4,387.6 450.9,390.8 450.4,390.8 449.9,390.8 449.4,393.4 448.9,393.4 448.4,393.4 447.9,393.4 447.4,393.4 446.9,404.4 446.4,404.1 445.9,404.1 445.4,404.1 444.9,404.1 444.4,404.1 443.9,404.1 443.4,402.0 442.9,402.0 442.4,402.0 441.9,402.0 441.4,402.0 440.9,402.4 440.4,402.4 439.9,402.4 439.4,402.4 438.9,402.4 438.4,399.4 437.9,399.4 437.4,399.4 436.9,399.4 436.4,399.4 435.9,399.4 435.4,400.6 434.9,400.6 434.4,400.6 433.9,400.6 433.4,402.0 432.9,402.0 432.4,402.0 431.9,402.0 431.4,402.0 430.9,402.0 430.4,399.8 429.9,399.8 429.4,399.8 428.9,399.8 428.4,399.8 427.9,406.5 427.4,406.5 426.9,406.5 426.4,396.9 425.9,396.9 425.4,396.9 424.9,396.9 424.4,401.9 423.9,401.9 423.4,401.9 422.9,399.4 422.4,399.4 421.9,399.4 421.4,399.4 420.9,399.4 420.4,400.5 419.9,400.5 419.4,400.5 418.9,401.6 418.4,401.6 417.9,401.6 417.4,401.6 416.9,401.6 416.4,401.6 415.9,404.1 415.4,404.1 414.9,404.1 414.4,404.1 413.9,404.1 413.4,402.9 412.9,402.9 412.4,402.9 411.9,402.9 411.4,402.9 410.9,408.5 410.4,408.5 409.9,408.5 409.4,408.5 408.9,413.1 408.4,413.1 407.9,413.1 407.4,411.6 406.9,411.6 406.4,411.6 405.9,411.6 405.4,411.6 404.9,411.6 404.4,411.9 403.9,411.9 403.4,411.9 402.9,411.9 402.4,413.6 401.9,413.6 401.4,413.6 400.9,413.6 400.4,413.6 399.9,413.6 399.4,413.6 398.9,413.6 398.4,412.2 397.9,412.2 397.4,412.2 396.9,410.2 396.4,410.2 395.9,410.2 395.4,410.2 394.9,410.2 394.4,410.2 393.9,412.4 393.4,412.4 392.9,412.4 392.4,412.4 391.9,406.6 391.4,406.6 390.9,406.6 390.4,406.6 389.9,406.6 389.4,403.8 388.9,403.8 388.4,403.8 387.9,403.8 387.4,403.8 386.9,403.8 386.4,403.3 385.9,403.3 385.4,403.3 384.9,403.3 384.4,400.0 383.9,400.0 383.4,400.0 382.9,400.0 382.4,400.0 381.9,436.2 381.4,436.2 380.9,441.7 380.4,441.7 379.9,441.7 379.4,441.7 378.9,439.7 378.4,439.7 377.9,440.8 377.4,440.8 376.9,440.0 376.4,440.0 375.9,440.0 375.4,440.0 374.9,441.5 374.4,441.5 373.9,441.5 373.4,441.6 372.9,441.6 372.4,441.6 371.9,441.6 371.4,440.5 370.9,440.5 370.4,441.2 369.9,441.2 369.4,441.2 368.9,442.0 368.4,442.0 367.9,442.0 367.4,442.0 366.9,441.2 366.4,441.2 365.9,441.2 365.4,441.4 364.9,441.4 364.4,441.4 363.9,441.4 363.4,440.2 362.9,440.2 362.4,440.2 361.9,441.3 361.4,441.3 360.9,441.3 360.4,441.4 359.9,441.4 359.4,441.5 358.9,441.5 358.4,441.5 357.9,441.5 357.4,441.1 356.9,441.1 356.4,441.1 355.9,441.1 355.4,441.1 354.9,441.1 354.4,441.1 353.9,441.1 353.4,441.1 352.9,441.1 352.4,440.8 351.9,440.8 351.4,440.8 350.9,445.4 350.4,445.4 349.9,445.4 349.4,445.4 348.9,445.4 348.4,445.4 347.9,445.4 347.4,445.8 346.9,445.8 346.4,444.1 345.9,444.1 345.4,444.1 344.9,442.9 344.4,442.9 343.9,442.9 343.4,442.9 342.9,442.4 342.4,442.4 341.9,442.4 341.4,442.4 340.9,442.4 340.4,441.4 339.9,441.4 339.4,440.6 338.9,440.6 338.4,440.6 337.9,440.6 337.4,443.8 336.9,443.8 336.4,443.8 335.9,443.8 335.4,444.3 334.9,444.3 334.4,444.3 333.9,441.6 333.4,441.7 332.9,441.7 332.4,441.7 331.9,440.8 331.4,440.8 330.9,440.8 330.4,441.2 329.9,441.2 329.4,441.2 328.9,441.2 328.4,441.2 327.9,440.6 327.4,440.6 326.9,440.6 326.4,440.6 325.9,441.2 325.4,441.2 324.9,441.2 324.4,441.0 323.9,441.0 323.4,441.0 322.9,441.0 322.4,441.0 321.9,441.1 321.4,441.1 320.9,440.3 320.4,440.3 319.9,440.3 319.4,440.3 318.9,440.3 318.4,441.4 317.9,441.4 317.4,441.4 316.9,440.1 316.4,440.1 315.9,440.1 315.4,440.1 314.9,440.1 314.4,440.4 313.9,440.4 313.4,440.1 312.9,440.1 312.4,440.1 311.9,441.1 311.4,441.1 310.9,441.1 310.4,439.3 309.9,439.3 309.4,441.5 308.9,441.5 308.4,441.5 307.9,441.1 307.4,441.1 306.9,441.1 306.4,441.1 305.9,440.8 305.4,440.8 304.9,440.8 304.4,440.8 303.9,440.8 303.4,441.6 302.9,441.6 302.4,439.6 301.9,439.6 301.4,440.3 300.9,440.3 300.4,440.3 299.9,440.3 299.4,440.3 298.9,440.3 298.4,440.3 297.9,440.5 297.4,440.5 296.9,441.1 296.4,441.1 295.9,441.1 295.4,441.1 294.9,441.1 294.4,441.1 293.9,441.1 293.4,440.2 292.9,440.2 292.4,441.0 291.9,441.0 291.4,441.0 290.9,441.0 290.4,441.0 289.9,439.9 289.4,439.9 288.9,441.4 288.4,441.4 287.9,441.4 287.4,441.4 286.9,441.4 286.4,441.2 285.9,441.2 285.4,441.2 284.9,466.9 284.4,466.9 283.9,466.9 283.4,466.6 282.9,466.6 282.4,466.6 281.9,465.4 281.4,465.4 280.9,465.4 280.4,465.4 279.9,440.2 279.4,440.2 278.9,440.2 278.4,441.3 277.9,441.3 277.4,441.3 276.9,441.2 276.4,441.2 275.9,441.0 275.4,441.0 274.9,441.0 274.4,441.0 273.9,441.0 273.4,440.4 272.9,440.4 272.4,440.4 271.9,440.4 271.4,440.4 270.9,441.2 270.4,441.2 269.9,441.2 269.4,441.2 268.9,441.3 268.4,441.3 267.9,441.2 267.4,441.2 266.9,441.2 266.4,441.2 265.9,440.8 265.4,440.8 264.9,440.8 264.4,440.8 263.9,440.4 263.4,440.4 262.9,440.4 262.4,441.2 261.9,441.2 261.4,441.2 260.9,441.2 260.4,441.2 259.9,441.0 259.4,441.0 258.9,441.0 258.4,441.0 257.9,441.0 257.4,440.7 256.9,440.7 256.4,440.7 255.9,440.7 255.4,440.7 254.9,440.7 254.4,440.7 253.9,440.7 253.4,441.2 252.9,441.2 252.4,441.2 251.9,441.4 251.4,441.4 250.9,441.4 250.4,441.4 249.9,441.4 249.4,441.0 248.9,441.0 248.4,441.0 247.9,441.6 247.4,441.6 246.9,441.6 246.4,441.6 245.9,441.6 245.4,440.1 244.9,440.1 244.4,440.1 243.9,440.1 243.4,440.1 242.9,441.4 242.4,441.4 241.9,441.4 241.4,440.1 240.9,440.1 240.4,440.1 239.9,440.1 239.4,440.1 238.9,441.3 238.4,441.3 237.9,441.3 237.4,441.3 236.9,441.3 236.4,441.3 235.9,441.3 235.4,441.3 234.9,441.3 234.4,441.6 233.9,441.6 233.4,441.6 232.9,441.6 232.4,440.6 231.9,440.6 231.4,440.6 230.9,440.4 230.4,440.4 229.9,440.4 229.4,440.4 228.9,440.4 228.4,440.5 227.9,440.5 227.4,440.5 226.9,440.5 226.4,440.5 225.9,441.7 225.4,441.7 224.9,441.7 224.4,441.7 223.9,440.6 223.4,440.6 222.9,440.6 222.4,440.6 221.9,440.6 221.4,441.5 220.9,441.5 220.4,440.3 219.9,440.3 219.4,440.3 218.9,440.3 218.4,440.1 217.9,440.1 217.4,440.1 216.9,440.1 216.4,440.1 215.9,440.0 215.4,440.0 214.9,440.0 214.4,440.0 213.9,440.5 213.4,440.5 212.9,440.5 212.4,440.5 211.9,440.5 211.4,440.0 210.9,440.0 210.4,440.0 209.9,440.0 209.4,440.0 208.9,440.7 208.4,440.7 207.9,440.7 207.4,441.2 206.9,441.2 206.4,441.2 205.9,441.2 205.4,441.2 204.9,441.2 204.4,441.2 203.9,445.4 203.4,444.2 202.9,444.2 202.4,444.2 201.9,444.6 201.4,444.6 200.9,444.6 200.4,444.6 199.9,444.6 199.4,444.9 198.9,444.9 198.4,444.9 197.9,444.9 197.4,443.7 196.9,443.7 196.4,443.7 195.9,491.9 195.4,491.9 194.9,491.8 194.4,491.8 193.9,490.8 193.4,490.8 192.9,490.8 192.4,490.8 191.9,444.8 191.4,444.8 190.9,447.5 190.4,447.5 189.9,447.5 189.4,447.5 188.9,449.7 188.4,449.7 187.9,449.7 187.4,449.7 186.9,448.5 186.4,448.5 185.9,448.5 185.4,448.5 184.9,448.5 184.4,445.0 183.9,445.0 183.4,445.0 182.9,445.0 182.4,444.3 181.9,444.3 181.4,444.3 180.9,444.3 180.4,444.3 179.9,445.1 179.4,445.1 178.9,445.1 178.4,445.1"/>
<polygon fill="#90353b" points="178.4,407.7 178.9,407.7 179.4,407.7 179.9,407.7 180.4,407.7 180.9,407.7 181.4,407.5 181.9,407.5 182.4,407.5 182.9,407.5 183.4,407.5 183.9,407.5 184.4,408.0 184.9,408.0 185.4,408.0 185.9,408.0 186.4,407.7 186.9,407.7 187.4,407.7 187.9,407.7 188.4,407.7 188.9,407.4 189.4,407.4 189.9,407.7 190.4,407.7 190.9,407.7 191.4,407.7 191.9,407.7 192.4,407.7 192.9,407.0 193.4,407.0 193.9,407.0 194.4,407.0 194.9,407.0 195.4,407.0 195.9,408.0 196.4,408.0 196.9,407.4 197.4,407.4 197.9,407.5 198.4,407.5 198.9,407.5 199.4,408.1 199.9,408.1 200.4,408.1 200.9,408.1 201.4,408.1 201.9,408.0 202.4,408.0 202.9,408.0 203.4,408.0 203.9,408.0 204.4,407.8 204.9,407.8 205.4,407.8 205.9,407.8 206.4,407.8 206.9,407.8 207.4,407.8 207.9,407.4 208.4,407.4 208.9,407.4 209.4,407.4 209.9,407.6 210.4,407.6 210.9,407.6 211.4,407.6 211.9,407.9 212.4,407.9 212.9,407.9 213.4,407.9 213.9,407.9 214.4,407.9 214.9,407.6 215.4,407.6 215.9,407.6 216.4,407.6 216.9,407.6 217.4,407.9 217.9,407.9 218.4,407.4 218.9,407.4 219.4,407.4 219.9,407.4 220.4,407.6 220.9,407.6 221.4,407.6 221.9,407.6 222.4,407.6 222.9,407.5 223.4,407.5 223.9,407.5 224.4,407.5 224.9,407.5 225.4,407.5 225.9,407.4 226.4,407.4 226.9,407.4 227.4,407.4 227.9,407.6 228.4,407.6 228.9,407.6 229.4,407.6 229.9,407.6 230.4,408.0 230.9,408.0 231.4,408.0 231.9,408.0 232.4,407.9 232.9,407.9 233.4,407.9 233.9,438.3 234.4,438.3 234.9,438.3 235.4,438.3 235.9,438.3 236.4,438.3 236.9,438.0 237.4,438.0 237.9,438.0 238.4,438.0 238.9,438.0 239.4,438.0 239.9,437.6 240.4,437.6 240.9,437.6 241.4,437.6 241.9,437.7 242.4,437.7 242.9,437.7 243.4,437.7 243.9,437.8 244.4,437.8 244.9,437.8 245.4,437.8 245.9,437.8 246.4,437.8 246.9,438.2 247.4,438.2 247.9,438.2 248.4,437.8 248.9,437.8 249.4,437.8 249.9,437.8 250.4,437.8 250.9,437.8 251.4,437.8 251.9,437.8 252.4,437.8 252.9,438.1 253.4,438.1 253.9,438.1 254.4,438.1 254.9,438.1 255.4,438.1 255.9,438.1 256.4,436.6 256.9,436.6 257.4,436.6 257.9,437.7 258.4,437.7 258.9,438.0 259.4,438.0 259.9,438.0 260.4,438.0 260.9,437.7 261.4,437.7 261.9,437.7 262.4,438.1 262.9,438.1 263.4,438.1 263.9,438.1 264.4,438.1 264.9,438.1 265.4,438.1 265.9,438.1 266.4,437.8 266.9,437.8 267.4,437.8 267.9,437.8 268.4,437.6 268.9,437.6 269.4,438.1 269.9,438.1 270.4,437.8 270.9,437.8 271.4,437.8 271.9,437.8 272.4,437.8 272.9,437.9 273.4,437.9 273.9,437.9 274.4,438.0 274.9,438.0 275.4,438.0 275.9,438.2 276.4,438.2 276.9,438.2 277.4,438.2 277.9,438.2 278.4,438.2 278.9,438.2 279.4,438.2 279.9,438.2 280.4,466.4 280.9,466.4 281.4,466.4 281.9,466.4 282.4,466.4 282.9,466.4 283.4,466.4 283.9,466.4 284.4,466.4 284.9,466.4 285.4,435.6 285.9,435.4 286.4,435.4 286.9,435.4 287.4,435.4 287.9,435.4 288.4,434.2 288.9,434.2 289.4,434.2 289.9,434.2 290.4,435.1 290.9,435.1 291.4,435.1 291.9,435.1 292.4,435.2 292.9,435.2 293.4,435.2 293.9,435.2 294.4,434.9 294.9,434.9 295.4,435.1 295.9,435.1 296.4,435.0 296.9,435.0 297.4,435.0 297.9,435.0 298.4,435.0 298.9,435.4 299.4,435.4 299.9,435.4 300.4,435.5 300.9,435.5 301.4,435.5 301.9,436.2 302.4,436.2 302.9,436.2 303.4,435.5 303.9,435.5 304.4,435.5 304.9,435.5 305.4,435.5 305.9,435.5 306.4,435.4 306.9,435.4 307.4,435.4 307.9,435.4 308.4,435.4 308.9,435.4 309.4,435.6 309.9,435.6 310.4,435.6 310.9,435.6 311.4,435.6 311.9,435.6 312.4,435.5 312.9,435.5 313.4,435.5 313.9,435.5 314.4,435.5 314.9,435.5 315.4,435.5 315.9,435.2 316.4,435.2 316.9,435.2 317.4,435.2 317.9,435.6 318.4,435.6 318.9,435.2 319.4,435.2 319.9,435.2 320.4,435.2 320.9,435.0 321.4,435.0 321.9,435.0 322.4,435.0 322.9,435.0 323.4,435.0 323.9,435.0 324.4,435.0 324.9,435.0 325.4,435.6 325.9,435.6 326.4,435.6 326.9,435.6 327.4,435.6 327.9,435.6 328.4,435.4 328.9,435.4 329.4,435.6 329.9,435.6 330.4,435.6 330.9,435.6 331.4,435.5 331.9,435.5 332.4,435.5 332.9,435.5 333.4,435.5 333.9,435.5 334.4,443.8 334.9,443.8 335.4,443.8 335.9,443.7 336.4,443.7 336.9,443.8 337.4,443.8 337.9,435.4 338.4,435.4 338.9,435.4 339.4,414.1 339.9,413.7 340.4,413.7 340.9,413.7 341.4,414.1 341.9,414.1 342.4,413.6 342.9,413.6 343.4,413.6 343.9,413.6 344.4,413.3 344.9,413.3 345.4,413.3 345.9,413.3 346.4,413.3 346.9,413.6 347.4,413.6 347.9,413.6 348.4,413.6 348.9,413.6 349.4,413.8 349.9,413.8 350.4,413.8 350.9,413.6 351.4,413.6 351.9,413.8 352.4,413.8 352.9,413.8 353.4,413.8 353.9,413.5 354.4,413.5 354.9,413.5 355.4,406.8 355.9,406.8 356.4,406.8 356.9,406.8 357.4,406.8 357.9,406.8 358.4,406.8 358.9,406.8 359.4,414.5 359.9,414.5 360.4,414.5 360.9,413.0 361.4,413.0 361.9,413.0 362.4,414.3 362.9,414.3 363.4,414.1 363.9,414.1 364.4,414.1 364.9,414.1 365.4,414.5 365.9,414.5 366.4,414.5 366.9,414.5 367.4,414.5 367.9,414.2 368.4,414.2 368.9,414.6 369.4,414.6 369.9,414.6 370.4,414.7 370.9,414.7 371.4,414.1 371.9,414.1 372.4,413.6 372.9,413.6 373.4,413.6 373.9,413.6 374.4,413.6 374.9,413.6 375.4,414.5 375.9,414.5 376.4,414.5 376.9,414.5 377.4,406.8 377.9,406.8 378.4,406.8 378.9,406.8 379.4,406.3 379.9,406.3 380.4,406.3 380.9,406.3 381.4,406.3 381.9,516.2 382.4,516.2 382.9,516.2 383.4,516.2 383.9,516.1 384.4,516.1 384.9,516.1 385.4,516.1 385.9,516.1 386.4,516.1 386.9,515.7 387.4,505.7 387.9,506.3 388.4,506.3 388.9,506.0 389.4,506.0 389.9,506.0 390.4,506.0 390.9,506.0 391.4,506.0 391.9,506.0 392.4,506.0 392.9,506.5 393.4,506.5 393.9,506.1 394.4,506.1 394.9,506.1 395.4,506.2 395.9,506.2 396.4,506.3 396.9,506.3 397.4,506.3 397.9,506.3 398.4,506.3 398.9,506.3 399.4,506.0 399.9,506.0 400.4,515.2 400.9,515.2 401.4,515.2 401.9,515.2 402.4,515.2 402.9,515.2 403.4,514.6 403.9,506.9 404.4,506.9 404.9,506.9 405.4,507.2 405.9,507.2 406.4,507.2 406.9,507.5 407.4,507.5 407.9,507.5 408.4,507.5 408.9,507.5 409.4,507.5 409.9,507.5 410.4,507.5 410.9,507.5 411.4,507.5 411.9,506.8 412.4,506.8 412.9,506.8 413.4,507.2 413.9,507.2 414.4,507.3 414.9,507.3 415.4,507.3 415.9,507.2 416.4,507.2 416.9,507.2 417.4,507.2 417.9,507.2 418.4,507.2 418.9,507.2 419.4,507.2 419.9,507.2 420.4,507.3 420.9,507.3 421.4,507.3 421.9,507.1 422.4,507.1 422.9,507.1 423.4,507.1 423.9,506.8 424.4,506.8 424.9,507.3 425.4,507.3 425.9,507.5 426.4,507.5 426.9,507.5 427.4,507.5 427.9,507.5 428.4,507.5 428.9,507.0 429.4,507.0 429.9,507.0 430.4,507.0 430.9,507.0 431.4,506.8 431.9,506.8 432.4,506.8 432.9,507.3 433.4,507.3 433.9,507.3 434.4,507.3 434.9,507.3 435.4,507.0 435.9,526.2 436.4,526.2 436.9,526.2 437.4,526.2 437.9,526.2 438.4,526.1 438.9,526.1 439.4,526.1 439.9,526.1 440.4,526.1 440.9,526.7 441.4,507.6 441.9,507.6 442.4,507.6 442.9,507.6 443.4,507.6 443.9,506.9 444.4,506.9 444.9,506.9 445.4,506.8 445.9,506.8 446.4,507.3 446.9,507.3 447.4,507.3 447.9,507.5 448.4,507.5 448.9,507.5 449.4,507.5 449.9,507.5 450.4,507.5 450.9,507.6 451.4,507.6 451.9,507.6 452.4,507.6 452.9,507.6 453.4,506.0 453.9,506.0 454.4,506.0 454.9,506.0 455.4,506.0 455.9,506.8 456.4,506.8 456.9,506.8 457.4,506.8 457.9,506.8 458.4,507.4 458.9,507.4 459.4,507.4 459.9,507.4 460.4,507.4 460.9,507.4 461.4,507.3 461.9,507.3 462.4,507.3 462.9,507.3 463.4,507.1 463.9,507.1 464.4,507.1 464.9,507.1 465.4,507.1 465.9,507.1 466.4,507.1 466.9,507.1 467.4,507.1 467.9,507.1 468.4,507.1 468.9,506.5 469.4,506.5 469.9,506.5 470.4,504.5 470.9,504.5 471.4,505.5 471.9,505.5 472.4,505.5 472.9,505.5 473.4,505.5 473.9,505.5 474.4,505.1 474.9,505.1 475.4,505.1 475.9,505.1 476.4,505.2 476.9,505.2 477.4,505.2 477.9,505.3 478.4,505.3 478.9,505.3 479.4,505.1 479.9,505.1 480.4,505.1 480.9,505.1 481.4,505.1 481.9,505.1 482.4,505.1 482.9,505.1 483.4,505.1 483.9,505.1 484.4,505.6 484.9,505.6 485.4,505.6 485.9,505.6 486.4,505.6 486.9,505.6 487.4,505.1 487.9,505.1 488.4,505.1 488.9,505.1 489.4,505.1 489.9,505.1 490.4,505.5 490.9,505.5 491.4,505.3 491.9,505.3 492.4,505.3 492.9,505.3 493.4,506.3 493.9,506.3 494.4,505.5 494.9,505.5 495.4,505.5 495.9,505.5 496.4,504.9 496.9,504.9 497.4,504.9 497.9,505.6 498.4,505.6 498.9,505.6 499.4,505.6 499.9,505.6 500.4,505.2 500.9,505.2 501.4,505.2 501.9,505.2 502.4,505.2 502.9,505.2 503.4,505.1 503.9,505.1 504.4,505.1 504.9,505.0 505.4,505.0 505.9,505.0 506.4,505.0 506.9,505.4 507.4,505.4 507.9,505.4 508.4,505.4 508.9,505.4 509.4,505.1 509.9,505.1 510.4,505.1 510.9,505.1 511.4,505.2 511.9,505.2 512.4,505.2 512.9,505.2 513.4,505.2 513.9,505.2 514.4,505.2 514.9,505.1 515.4,505.1 515.9,505.1 516.4,505.1 516.9,505.1 517.4,505.1 517.9,505.0 518.4,505.0 518.9,505.0 519.4,505.0 519.9,505.1 520.4,505.1 520.9,505.1 521.4,505.0 521.9,505.0 522.4,505.0 522.9,505.0 523.4,505.0 523.9,505.4 524.4,505.4 524.9,504.9 525.4,504.9 525.9,504.9 526.4,504.9 526.9,504.9 527.4,504.9 527.9,505.4 528.4,505.4 528.9,505.4 529.4,505.4 529.9,504.9 530.4,504.9 530.9,505.3 531.4,505.3 531.9,505.3 532.4,505.4 532.9,505.4 533.4,505.4 533.9,505.4 534.4,505.4 534.9,505.4 535.4,505.0 535.9,505.0 536.4,505.0 536.9,505.0 537.4,505.0 537.9,505.0 538.4,505.5 538.9,505.5 539.4,505.5 539.9,505.5 540.4,505.5 540.9,505.5 541.4,505.5 541.9,505.5 542.4,505.5 542.9,505.5 543.4,505.5 543.9,504.9 544.4,504.9 544.9,504.9 545.4,504.9 545.9,504.9 546.4,504.9 546.9,505.0 547.4,505.0 547.9,504.5 548.4,504.5 548.9,505.1 549.4,505.1 549.9,505.1 550.4,505.1 550.9,505.3 551.4,505.3 551.9,505.3 552.4,505.0 552.9,505.0 553.4,505.0 553.9,505.0 554.4,505.0 554.9,505.0 555.4,505.0 555.9,505.0 556.4,505.0 556.9,505.2 557.4,505.2 557.9,505.2 558.4,504.9 558.9,504.9 559.4,504.9 559.9,504.9 560.4,505.5 560.9,505.5 561.4,505.5 561.9,505.5 562.4,505.5 562.9,505.5 563.4,505.6 563.9,505.6 564.4,505.6 564.9,505.6 565.4,505.6 565.9,505.0 566.4,505.0 566.9,505.0 567.4,505.0 567.9,505.0 568.4,505.0 568.9,505.0 569.4,505.0 569.9,504.9 570.4,504.9 570.9,504.9 571.4,504.9 571.9,504.9 572.4,505.4 572.9,505.4 573.4,505.6 573.9,505.6 574.4,505.6 574.9,505.6 575.4,505.6 575.9,505.6 576.4,505.6 576.9,505.6 577.4,505.6 577.9,505.6 578.4,505.6 578.9,504.9 579.4,504.9 579.9,504.9 580.4,504.9 580.9,504.9 581.4,505.2 581.9,505.2 582.4,505.2 582.9,505.2 583.4,505.1 583.9,505.1 584.4,505.1 584.9,505.1 585.4,505.1 585.9,505.1 586.4,505.4 586.9,505.4 587.4,505.4 587.9,505.4 588.4,505.4 588.9,505.4 589.4,505.2 589.9,505.2 590.4,505.2 590.9,505.1 591.4,505.1 591.9,505.1 592.4,505.0 592.9,505.0 593.4,505.0 593.9,505.5 594.4,505.5 594.9,505.5 595.4,505.5 595.9,505.5 596.4,505.5 596.9,505.2 597.4,505.2 597.9,505.2 598.4,505.2 598.9,505.2 599.4,505.3 599.9,505.3 600.4,505.3 600.9,505.3 601.4,505.3 601.9,505.1 602.4,505.1 602.9,505.1 603.4,505.1 603.9,505.0 604.4,505.0 604.9,505.2 605.4,505.2 605.9,505.2 606.4,505.4 606.9,505.4 607.4,505.4 607.9,505.5 608.4,505.5 608.9,505.5 609.4,505.5 609.9,505.5 610.4,505.2 610.9,505.2 611.4,505.2 611.9,505.2 612.4,505.2 612.9,505.2 613.4,505.3 613.9,505.3 614.4,505.3 614.9,505.3 615.4,505.3 615.9,505.2 616.4,505.2 616.9,505.2 617.4,505.2 617.9,505.2 618.4,505.1 618.9,505.1 619.4,505.1 619.9,505.1 620.4,503.9 620.9,503.9 621.4,503.9 621.9,503.9 622.4,503.9 622.9,503.9 623.4,505.0 623.9,505.0 624.4,505.0 624.9,505.0 625.4,505.0 625.9,504.9 626.4,504.9 626.9,504.9 627.4,505.3 627.9,505.3 628.4,505.2 628.9,505.2 629.4,505.2 629.9,505.2 630.4,505.5 630.9,505.5 631.4,504.0 631.9,504.0 632.4,504.0 632.9,504.0 633.4,504.0 633.9,505.2 634.4,505.2 634.9,505.2 635.4,505.2 635.9,505.2 636.4,505.5 636.9,505.5 637.4,505.5 637.9,505.5 638.4,505.5 638.9,505.5 639.4,505.5 639.9,505.5 640.4,505.3 640.9,505.3 641.4,505.3 641.9,505.0 642.4,505.0 642.9,505.0 643.4,505.0 643.9,505.0 644.4,505.0 644.9,505.0 645.4,505.0 645.9,505.0 646.4,505.0 646.9,505.6 647.4,505.6 647.9,505.6 648.4,505.6 648.9,505.6 649.4,505.0 649.9,505.0 650.4,505.0 650.9,505.0 651.4,505.0 651.9,505.0 652.4,505.3 652.9,505.3 653.4,505.3 653.9,505.3 654.4,505.3 654.9,505.6 655.4,505.6 655.9,505.5 656.4,505.5 656.9,505.3 657.4,505.3 657.9,505.3 658.4,504.9 658.9,504.9 659.4,504.9 659.9,504.9 660.4,505.5 660.9,505.5 661.4,505.2 661.9,505.2 662.4,505.2 662.9,505.1 663.4,505.1 663.9,505.1 664.4,505.1 664.9,505.1 665.4,505.1 665.9,505.1 666.4,505.1 666.9,505.1 667.4,505.4 667.9,505.4 668.4,505.4 668.9,505.4 669.4,505.4 669.9,505.1 670.4,505.1 670.9,504.9 671.4,504.9 671.9,504.9 672.4,504.9 672.9,522.8 673.4,522.8 673.9,522.8 674.4,522.8 674.9,516.6 675.4,516.6 675.9,516.6 676.4,516.1 676.9,516.1 677.4,516.2 677.9,516.2 678.4,522.9 678.9,522.9 679.4,522.7 679.9,522.7 680.4,522.7 680.9,522.7 681.4,522.7 681.9,522.7 682.4,522.7 682.9,522.7 683.4,522.7 683.9,523.0 684.4,523.0 684.9,523.0 685.4,523.0 685.9,523.0 686.4,523.0 686.9,522.7 687.4,506.2 687.9,506.2 688.4,506.2 688.9,506.2 689.4,506.2 689.9,506.1 690.4,522.6 690.9,522.6 691.4,522.6 691.9,523.1 692.4,523.1 692.9,523.1 693.4,522.7 693.9,522.7 694.4,522.5 694.9,522.5 695.4,522.5 695.9,522.5 696.4,522.8 696.9,522.8 697.4,522.8 697.9,523.1 698.4,523.1 698.9,523.1 699.4,523.1 699.9,523.1 700.4,523.1 700.9,523.2 701.4,523.2 701.9,523.0 702.4,523.0 702.9,523.0 703.4,523.0 703.9,523.0 704.4,523.0 704.9,523.0 705.4,523.0 705.9,523.0 706.4,522.8 706.9,522.8 707.4,522.8 707.9,522.8 708.4,522.8 708.9,522.9 709.4,522.9 709.9,523.0 710.4,523.0 710.9,523.0 711.4,523.0 711.9,523.0 712.4,506.4 712.9,506.4 713.4,506.4 713.9,506.4 714.4,506.1 714.9,506.1 715.4,506.1 715.9,506.0 716.4,522.5 716.9,522.5 717.4,522.5 717.9,522.8 718.4,522.8 718.9,522.8 719.4,522.8 719.9,522.8 720.4,522.8 720.9,523.2 721.4,523.2 721.9,523.2 722.4,522.9 722.9,522.9 723.4,522.9 723.9,522.9 724.4,522.8 724.9,506.2 725.4,506.2 725.9,506.2 726.4,506.6 726.9,506.6 727.4,523.8 727.9,523.8 728.4,523.8 728.9,523.4 729.4,523.4 729.9,523.4 730.4,523.4 730.9,523.8 731.4,523.8 731.9,523.8 732.4,523.8 732.9,523.5 733.4,523.5 733.9,523.5 734.4,523.5 734.9,523.2 735.4,523.2 735.9,523.2 736.4,523.2 736.9,523.2 737.4,523.2 737.9,523.2 738.4,523.2 738.9,523.2 739.4,523.4 739.9,523.4 740.4,523.4 740.9,523.4 741.4,523.4 741.9,523.6 742.4,523.6 742.9,523.6 743.4,523.6 743.9,523.6 744.4,522.5 744.9,522.5 745.4,506.3 745.9,506.3 746.4,506.3 746.9,506.3 747.4,506.3 747.9,506.7 748.4,506.7 748.9,506.7 749.4,506.7 749.9,506.7 750.4,506.7 750.9,506.7 751.4,506.7 751.9,506.7 752.4,506.7 752.9,506.4 753.4,506.4 753.9,506.4 754.4,506.4 754.9,506.5 755.4,506.5 755.9,506.0 756.4,506.0 756.9,506.0 757.4,506.0 757.9,506.0 758.4,505.8 758.9,505.8 759.4,505.8 759.9,524.6 760.4,524.6 760.9,525.4 761.4,506.6 761.9,506.6 762.4,506.6 762.9,506.6 763.4,506.6 763.9,506.6 764.4,504.9 764.9,504.9 765.4,504.9 765.9,506.3 766.4,506.3 766.9,506.3 767.4,506.3 767.9,506.2 768.4,506.2 768.9,506.2 769.4,506.2 769.9,506.2 770.4,508.1 770.9,508.1 771.4,508.1 771.9,508.1 772.4,508.1 772.9,508.1 773.4,508.1 773.9,507.7 774.4,507.7 774.9,524.7 775.4,524.7 775.9,524.7 776.4,524.7 776.9,524.7 777.4,524.7 777.9,524.7 778.4,524.6 778.9,524.6 779.4,524.4 779.9,524.4 780.4,524.4 780.9,524.4 781.4,524.4 781.9,524.4 782.4,524.3 782.9,524.3 783.4,524.3 783.9,525.0 784.4,525.0 784.9,525.0 785.4,525.0 785.9,525.0 786.4,524.2 786.9,524.2 787.4,524.2 787.9,524.2 788.4,524.2 788.9,524.2 789.4,524.9 789.9,524.9 790.4,524.9 790.9,523.7 791.4,523.7 791.9,523.7 792.4,525.9 792.9,525.9 793.4,524.5 793.9,524.5 794.4,524.5 794.9,524.5 795.4,524.5 795.9,525.1 796.4,525.1 796.9,525.1 797.4,524.6 797.9,524.6 798.4,506.5 798.9,506.5 799.4,506.5 799.9,506.8 800.4,506.8 800.9,506.8 801.4,506.5 801.9,506.5 802.4,506.5 802.9,523.7 803.4,523.7 803.9,523.9 804.4,523.9 804.9,523.6 805.4,523.6 805.9,523.8 806.4,523.8 806.9,524.2 807.4,524.2 807.9,524.2 808.4,524.2 808.9,524.2 809.4,524.2 809.9,524.3 810.4,524.3 810.9,524.3 811.4,524.3 811.9,523.6 812.4,523.6 812.9,523.6 813.4,523.6 813.9,523.6 814.4,523.6 814.9,523.1 815.4,523.1 815.9,523.1 816.4,523.1 816.9,524.1 817.4,524.1 817.9,524.1 818.4,524.1 818.9,524.1 819.4,524.1 819.9,524.3 820.4,524.3 820.9,524.3 821.4,524.7 821.9,524.7 822.4,524.7 822.9,507.5 823.4,507.5 823.9,507.5 824.4,506.6 824.9,506.6 825.4,506.6 825.9,506.6 826.4,507.7 826.9,507.7 827.4,506.8 827.9,506.8 828.4,506.6 828.9,506.6 829.4,506.6 829.9,506.6 830.4,506.4 830.9,506.4 831.4,506.4 831.9,506.4 832.4,507.0 832.9,507.0 833.4,507.0 833.9,513.6 834.4,513.6 834.9,513.6 835.4,513.6 835.9,514.6 836.4,507.4 836.9,507.4 837.4,507.4 837.9,507.4 838.4,506.3 838.9,506.3 839.4,506.3 839.9,506.3 840.4,506.5 840.9,506.5 841.4,506.5 841.9,506.5 842.4,506.4 842.9,506.4 843.4,506.4 843.9,506.4 844.4,506.4 844.9,506.3 845.4,506.3 845.9,506.3 846.4,506.3 846.9,505.9 847.4,505.9 847.9,505.9 848.4,507.2 848.9,507.2 849.4,507.2 849.9,505.9 850.4,519.8 850.9,519.8 851.4,519.8 851.9,520.2 852.4,507.0 852.9,506.7 853.4,506.7 853.9,506.7 854.4,506.7 854.9,506.7 855.4,506.7 855.9,506.5 856.4,506.5 856.9,506.5 857.4,506.5 857.9,506.5 858.4,506.7 858.9,506.7 859.4,507.1 859.9,507.1 860.4,507.1 860.9,507.1 861.4,507.1 861.9,506.9 862.4,506.9 862.9,506.9 863.4,506.9 863.9,506.9 864.4,506.5 864.9,516.4 865.4,516.4 865.9,516.4 866.4,516.4 866.9,506.5 867.4,506.9 867.9,506.9 868.4,506.9 868.9,506.9 869.4,506.6 869.9,506.6 870.4,506.6 870.9,506.6 871.4,506.6 871.9,506.6 872.4,506.6 872.9,506.1 873.4,506.1 873.9,506.1 874.4,506.9 874.9,506.9 875.4,506.9 875.9,506.9 876.4,506.6 876.9,506.6 877.4,506.6 877.9,506.6 878.4,506.6 878.9,507.0 879.4,507.0 879.9,506.6 880.4,506.6 880.9,506.6 881.4,505.7 881.9,505.7 882.4,505.7 882.9,505.7 883.4,505.7 883.9,506.6 884.4,506.6 884.9,506.6 885.4,506.6 885.9,506.7 886.4,424.1 886.9,424.1 887.4,424.1 887.9,424.1 888.4,424.1 888.9,424.1 889.4,405.7 889.9,405.7 890.4,405.7 890.9,405.7 891.4,405.7 891.9,405.1 892.4,405.1 892.9,405.1 893.4,405.1 893.9,405.7 894.4,405.7 894.9,405.7 895.4,405.7 895.9,405.7 896.4,405.7 896.9,405.8 897.4,405.8 897.9,405.3 898.4,405.3 898.9,405.3 899.4,405.3 899.9,405.3 900.4,406.7 900.9,406.7 901.4,406.7 901.9,406.7 902.4,406.7 902.9,406.7 903.4,405.7 903.9,405.7 904.4,405.7 904.9,405.7 905.4,405.7 905.9,405.2 906.4,405.2 906.9,405.2 907.4,405.2 907.9,405.2 908.4,405.0 908.9,405.0 909.4,405.0 909.9,405.8 910.4,405.8 910.9,405.4 911.4,405.4 911.9,405.4 912.4,405.5 912.9,405.5 913.4,405.5 913.9,405.5 914.4,405.5 914.9,405.3 915.4,405.3 915.9,405.3 916.4,405.3 916.9,405.3 917.4,405.3 917.9,405.2 918.4,405.2 918.9,405.0 919.4,405.0 919.9,405.0 920.4,405.0 920.9,405.1 921.4,405.1 921.9,405.7 922.4,405.7 922.9,405.7 923.4,405.7 923.9,405.7 924.4,405.2 924.9,405.2 925.4,405.2 925.9,405.2 926.4,405.2 926.9,405.2 927.4,405.2 927.9,405.2 928.4,405.2 928.9,423.9 929.4,424.3 929.9,424.3 930.4,453.6 930.9,453.6 931.4,453.6 931.9,453.6 932.4,453.2 932.9,453.2 933.4,453.2 933.9,453.2 934.4,453.3 934.9,453.3 935.4,453.3 935.9,453.3 936.4,453.3 936.9,453.3 937.4,453.3 937.9,453.3 938.4,453.3 938.9,453.3 939.4,404.8 939.9,404.8 940.4,404.8 940.9,404.8 941.4,405.2 941.9,405.2 942.4,405.1 942.9,405.1 943.4,405.8 943.9,405.8 944.4,405.8 944.9,405.8 945.4,405.8 945.9,405.8 946.4,405.2 946.9,405.2 947.4,405.2 947.9,405.1 948.4,405.1 948.9,405.1 949.4,405.7 949.9,405.7 950.4,405.8 950.9,405.8 951.4,405.8 951.9,405.8 952.4,405.6 952.9,405.6 953.4,405.6 953.9,405.6 954.4,405.6 954.9,405.3 955.4,405.3 955.9,405.3 956.4,405.3 956.9,405.3 957.4,405.3 957.9,404.5 958.4,404.5 958.9,405.6 959.4,405.6 959.9,405.3 960.4,405.3 960.9,405.3 961.4,405.3 961.9,405.3 962.4,405.5 962.9,405.5 963.4,405.5 963.9,405.3 964.4,405.3 964.9,405.3 965.4,405.3 965.9,405.3 966.4,405.3 966.9,405.3 967.4,405.5 967.9,405.5 968.4,405.5 968.9,405.5 969.4,425.4 969.9,425.0 970.4,425.0 970.9,405.2 971.4,405.5 971.9,405.5 972.4,405.5 972.9,405.5 973.4,405.5 973.9,405.6 974.4,405.6 974.9,405.2 975.4,405.2 975.9,405.2 976.4,405.2 976.9,405.2 977.4,405.4 977.9,405.4 978.4,405.4 978.9,405.0 979.4,405.0 979.9,405.1 980.4,344.1 980.9,344.1 981.4,344.1 981.9,344.5 982.4,344.5 982.9,344.5 983.4,324.7 983.9,324.7 984.4,324.7 984.9,324.7 985.4,325.0 985.9,325.0 986.4,324.3 986.9,324.3 987.4,324.3 987.9,324.3 988.4,324.6 988.9,324.6 989.4,324.6 989.9,324.6 990.4,324.6 990.9,324.6 991.4,324.9 991.9,324.9 992.4,324.9 992.9,324.9 993.4,324.9 993.9,324.5 994.4,284.9 994.9,284.9 995.4,284.6 995.9,263.7 996.4,263.7 996.9,264.1 997.4,264.1 997.9,264.0 998.4,264.0 998.9,264.0 999.4,263.7 999.9,263.7 1000.4,263.7 1000.9,263.7 1001.4,263.7 1001.9,263.7 1002.4,264.3 1002.9,264.3 1003.4,264.3 1003.9,264.3 1004.4,264.3 1004.9,264.4 1005.4,264.4 1005.9,264.4 1006.4,264.4 1006.9,264.4 1007.4,264.0 1007.9,264.0 1008.4,263.7 1008.9,263.7 1009.4,285.8 1009.9,285.8 1010.4,301.8 1010.9,301.8 1011.4,302.1 1011.9,302.1 1012.4,302.1 1012.9,302.0 1013.4,302.0 1013.9,302.0 1014.4,302.0 1014.9,302.0 1015.4,302.0 1015.9,302.3 1016.4,302.3 1016.9,302.3 1017.4,302.3 1017.9,302.3 1018.4,301.9 1018.9,301.9 1019.4,301.9 1019.9,301.9 1020.4,302.2 1020.9,302.2 1021.4,302.2 1021.9,321.6 1022.4,321.6 1022.9,321.6 1023.4,393.8 1023.9,393.8 1024.4,393.7 1024.9,393.7 1025.4,393.7 1025.9,393.7 1026.4,393.7 1026.9,393.7 1027.4,393.7 1027.9,393.7 1028.4,393.7 1028.9,393.7 1029.4,393.4 1029.9,393.4 1030.4,393.4 1030.9,392.4 1031.4,392.4 1031.9,393.3 1032.4,393.3 1032.9,393.3 1033.4,393.3 1033.9,393.3 1034.4,393.7 1034.9,393.7 1035.4,393.7 1035.9,393.7 1036.4,393.7 1036.9,407.4 1037.4,406.8 1037.9,406.8 1038.4,406.8 1038.9,406.8 1039.4,407.1 1039.9,407.1 1040.4,407.1 1040.9,407.1 1041.4,407.1 1041.9,407.0 1042.4,407.0 1042.9,407.0 1043.4,407.0 1043.9,407.0 1044.4,406.8 1044.9,406.8 1045.4,406.8 1045.9,407.3 1046.4,407.3 1046.9,407.0 1047.4,375.1 1047.9,375.1 1048.4,375.1 1048.9,375.1 1049.4,375.1 1049.9,375.1 1050.4,375.1 1050.9,375.1 1051.4,375.1 1051.9,374.4 1052.4,374.4 1052.9,374.4 1053.4,375.4 1053.9,375.4 1054.4,375.4 1054.9,375.4 1055.4,375.3 1055.9,375.3 1056.4,375.3 1056.9,375.3 1057.4,375.3 1057.9,375.3 1058.4,375.4 1058.9,375.4 1059.4,374.9 1059.9,374.9 1060.4,374.9 1060.9,374.9 1061.4,374.9 1061.9,374.9 1062.4,375.0 1062.9,375.0 1063.4,446.6 1063.9,446.6 1064.4,446.6 1064.9,446.6 1065.4,446.7 1065.9,446.7 1066.4,448.2 1066.9,448.2 1067.4,448.2 1067.9,448.2 1068.4,447.3 1068.9,447.3 1069.4,447.3 1069.9,447.3 1070.4,447.3 1070.9,446.1 1071.4,446.1 1071.9,446.1 1072.4,446.1 1072.9,446.1 1073.4,446.1 1073.9,447.3 1074.4,442.4 1074.9,442.5 1075.4,442.5 1075.9,442.4 1076.4,442.4 1076.9,442.4 1077.4,442.4 1077.9,442.0 1078.4,442.0 1078.9,442.0 1079.4,442.0 1079.9,442.3 1080.4,442.3 1080.9,442.3 1081.4,442.3 1081.9,441.9 1082.4,441.9 1082.9,441.9 1083.4,441.9 1083.9,442.0 1084.4,442.0 1084.9,442.0 1085.4,442.0 1085.9,442.0 1086.4,442.5 1086.9,442.5 1087.4,381.3 1087.9,381.3 1088.4,381.3 1088.9,380.9 1089.4,380.9 1089.9,380.9 1090.4,380.9 1090.9,380.9 1091.4,380.9 1091.9,380.7 1092.4,380.7 1092.9,380.7 1093.4,380.7 1093.9,380.7 1094.4,380.7 1094.9,380.9 1095.4,380.9 1095.9,380.9 1096.4,380.9 1096.9,381.2 1097.4,381.2 1097.9,381.2 1098.4,381.9 1098.9,381.9 1099.4,381.9 1099.9,381.9 1100.4,381.9 1100.9,381.0 1101.4,381.0 1101.9,381.0 1102.4,381.3 1102.9,381.3 1103.4,380.6 1103.9,422.0 1104.4,422.0 1104.9,422.8 1105.4,422.8 1105.9,422.8 1106.4,421.4 1106.9,421.4 1107.4,421.4 1107.9,421.4 1108.4,422.0 1108.9,422.0 1109.4,422.0 1109.9,422.0 1110.4,422.8 1110.9,422.8 1111.4,422.8 1111.9,422.8 1112.4,422.8 1112.9,422.8 1113.4,421.2 1113.9,421.2 1114.4,421.2 1114.9,383.1 1115.4,383.1 1115.9,384.7 1116.4,384.7 1116.9,384.7 1117.4,366.2 1117.9,366.2 1118.4,366.2 1118.9,366.2 1119.4,366.2 1119.9,366.2 1120.4,366.2 1120.9,381.2 1121.4,381.2 1121.9,381.2 1122.4,381.2 1122.9,365.6 1123.4,365.6 1123.9,365.6 1124.4,365.6 1124.9,365.6 1125.4,365.6 1125.9,365.6 1126.4,365.6 1126.9,365.6 1127.4,366.3 1127.9,366.3 1128.4,366.0 1128.9,381.0 1129.4,381.0 1129.9,381.0 1130.4,381.0 1130.9,381.0 1131.4,381.0 1131.9,381.0 1132.4,371.0 1132.9,371.0 1133.4,371.2 1133.9,371.2 1134.4,371.2 1134.9,371.4 1135.4,371.4 1135.9,371.4 1136.4,371.4 1136.9,371.3 1137.4,371.3 1137.9,371.3 1138.4,371.3 1138.9,371.1 1139.4,371.1 1139.9,371.1 1140.4,371.1 1140.9,371.0 1141.4,371.0 1141.9,370.9 1142.4,370.9 1142.9,387.4 1143.4,387.4 1143.9,387.5 1144.4,387.5 1144.9,423.1 1145.4,423.1 1145.9,423.1 1146.4,423.1 1146.9,423.4 1147.4,423.4 1147.9,423.4 1148.4,423.4 1148.9,423.4 1149.4,423.4 1149.9,423.4 1150.4,423.4 1150.9,423.4 1151.4,423.4 1151.9,423.4 1152.4,423.4 1152.9,424.4 1153.4,424.4 1153.9,423.4 1154.4,423.4 1154.9,341.5 1155.4,341.5 1155.9,341.5 1156.4,319.1 1156.9,319.1 1157.4,319.1 1157.9,319.1 1158.4,320.6 1158.9,320.6 1159.4,320.6 1159.9,320.6 1160.4,320.6 1160.9,320.6 1161.4,320.5 1161.9,320.5 1162.4,320.5 1162.9,320.5 1163.4,320.5 1163.9,320.5 1164.4,320.1 1164.9,320.1 1165.4,320.1 1165.9,320.1 1166.4,320.1 1166.9,320.1 1167.4,320.2 1167.9,320.2 1168.4,320.2 1168.9,320.2 1169.4,320.2 1169.9,320.1 1170.4,387.3 1170.9,387.3 1171.4,377.4 1171.9,377.8 1172.4,377.8 1172.9,377.3 1173.4,377.3 1173.9,378.1 1174.4,378.1 1174.9,378.1 1175.4,378.1 1175.9,377.7 1176.4,377.7 1176.9,377.7 1177.4,377.7 1177.9,378.0 1178.4,378.0 1178.9,377.6 1179.4,377.6 1179.9,377.6 1180.4,377.6 1180.9,377.6 1181.4,377.6 1181.9,377.5 1182.4,394.0 1182.9,394.0 1183.4,394.0 1183.9,393.9 1184.4,419.8 1184.9,420.3 1185.4,420.3 1185.9,420.0 1186.4,420.0 1186.9,420.3 1187.4,420.3 1187.9,420.2 1188.4,420.2 1188.9,419.9 1189.4,419.9 1189.9,419.9 1190.4,419.9 1190.9,419.9 1191.4,419.9 1191.9,419.9 1192.4,419.9 1192.9,420.4 1193.4,376.8 1193.9,376.8 1194.4,376.8 1194.9,376.4 1195.4,376.4 1195.9,376.4 1196.4,376.4 1196.9,376.4 1197.4,376.9 1197.9,376.9 1198.4,376.9 1198.9,376.9 1199.4,376.7 1199.9,376.7 1200.4,376.7 1200.9,376.7 1201.4,376.7 1201.9,376.6 1202.4,376.6 1202.9,376.6 1203.4,376.7 1203.9,376.7 1204.4,376.7 1204.9,376.8 1205.4,376.8 1205.9,376.9 1206.4,376.9 1206.9,376.9 1207.4,376.9 1207.9,376.9 1208.4,376.9 1208.9,376.2 1209.4,376.2 1209.9,398.3 1210.4,398.3 1210.9,398.7 1211.4,398.7 1211.9,398.7 1212.4,398.7 1212.9,398.7 1213.4,398.6 1213.9,398.6 1214.4,398.6 1214.9,398.6 1215.4,414.0 1215.9,414.0 1216.4,414.1 1216.9,414.1 1217.4,414.1 1217.9,414.1 1218.4,414.1 1218.9,414.4 1219.4,421.0 1219.9,421.0 1220.4,421.0 1220.9,420.3 1221.4,420.3 1221.9,420.3 1222.4,421.3 1222.9,421.3 1223.4,421.3 1223.9,481.0 1224.4,481.0 1224.9,481.0 1225.4,480.2 1225.9,480.2 1226.4,480.3 1226.9,480.3 1227.4,480.3 1227.9,480.3 1228.4,480.3 1228.9,480.4 1229.4,480.4 1229.9,480.4 1230.4,480.4 1230.9,480.2 1231.4,480.2 1231.9,480.2 1232.4,480.2 1232.9,480.2 1233.4,480.2 1233.9,480.3 1234.4,434.9 1234.9,434.9 1235.4,434.7 1235.9,434.7 1236.4,434.7 1236.9,434.7 1237.4,434.7 1237.9,434.7 1238.4,434.8 1238.9,434.8 1239.4,434.8 1239.9,434.8 1240.4,434.8 1240.9,434.8 1241.4,433.5 1241.9,433.5 1242.4,433.5 1242.9,433.5 1243.4,433.5 1243.9,435.0 1244.4,435.0 1244.9,435.0 1245.4,435.0 1245.9,435.0 1246.4,435.0 1246.9,435.0 1247.4,414.6 1247.9,414.6 1248.4,414.6 1248.9,414.6 1249.4,414.6 1249.9,414.1 1250.4,414.1 1250.9,414.1 1251.4,414.1 1251.9,414.1 1252.4,414.5 1252.9,414.5 1253.4,414.5 1253.9,414.5 1254.4,414.3 1254.9,414.3 1255.4,414.3 1255.9,414.2 1256.4,414.2 1256.9,414.8 1257.4,414.8 1257.9,414.8 1258.4,415.8 1258.9,415.8 1259.4,415.8 1259.9,415.8 1260.4,415.8 1260.9,414.8 1261.4,406.6 1261.9,406.6 1262.4,406.0 1262.9,406.0 1263.4,406.3 1263.9,406.3 1264.4,406.5 1264.9,415.3 1265.4,415.3 1265.9,415.3 1266.4,407.6 1266.9,407.7 1267.4,407.7 1267.9,407.7 1268.4,407.7 1268.9,407.7 1269.4,407.7 1269.9,407.7 1270.4,407.7 1270.9,407.7 1271.4,407.7 1271.9,407.7 1272.4,407.7 1272.9,407.2 1273.4,407.2 1273.9,407.2 1274.4,407.8 1274.9,383.5 1275.4,383.5 1275.9,383.5 1276.4,383.5 1276.9,370.8 1277.4,370.1 1277.9,370.1 1278.4,370.1 1278.9,370.1 1279.4,370.1 1279.9,370.2 1280.4,370.2 1280.9,370.6 1281.4,370.6 1281.9,370.6 1282.4,370.4 1282.9,370.4 1283.4,386.5 1283.9,386.5 1284.4,386.5 1284.9,386.5 1285.4,386.2 1285.9,386.2 1286.4,386.2 1286.9,386.2 1287.4,386.2 1287.9,386.8 1288.4,386.8 1288.9,386.8 1289.4,386.8 1289.9,397.9 1290.4,397.2 1290.9,397.2 1291.4,397.2 1291.9,397.6 1292.4,397.6 1292.9,397.6 1293.4,397.6 1293.9,397.6 1294.4,407.9 1294.9,407.7 1295.4,407.7 1295.9,408.2 1296.4,408.2 1296.9,408.2 1297.4,407.5 1297.9,407.5 1298.4,407.5 1298.9,407.5 1299.4,407.5 1299.9,408.6 1300.4,408.6 1300.9,408.6 1301.4,408.6 1301.9,408.6 1302.4,407.7 1302.9,407.7 1303.4,407.7 1303.4,588.1 1302.9,589.4 1302.4,589.4 1301.9,589.4 1301.4,587.2 1300.9,587.2 1300.4,587.2 1299.9,587.7 1299.4,587.7 1298.9,587.7 1298.4,587.7 1297.9,587.7 1297.4,587.4 1296.9,587.4 1296.4,587.9 1295.9,587.9 1295.4,587.9 1294.9,587.9 1294.4,587.0 1293.9,587.0 1293.4,587.0 1292.9,587.0 1292.4,588.5 1291.9,588.5 1291.4,588.5 1290.9,588.5 1290.4,587.9 1289.9,587.9 1289.4,587.9 1288.9,587.9 1288.4,588.1 1287.9,588.1 1287.4,583.0 1286.9,584.2 1286.4,584.2 1285.9,584.2 1285.4,584.2 1284.9,584.2 1284.4,581.6 1283.9,581.6 1283.4,581.6 1282.9,581.6 1282.4,581.6 1281.9,581.6 1281.4,582.1 1280.9,582.1 1280.4,582.1 1279.9,582.1 1279.4,584.3 1278.9,584.3 1278.4,584.3 1277.9,584.3 1277.4,613.6 1276.9,611.2 1276.4,611.2 1275.9,612.7 1275.4,612.7 1274.9,612.7 1274.4,612.7 1273.9,612.7 1273.4,612.7 1272.9,612.7 1272.4,612.7 1271.9,612.7 1271.4,612.7 1270.9,611.9 1270.4,611.9 1269.9,611.5 1269.4,611.5 1268.9,611.5 1268.4,611.5 1267.9,612.0 1267.4,612.0 1266.9,612.0 1266.4,612.4 1265.9,612.4 1265.4,612.4 1264.9,612.5 1264.4,612.5 1263.9,612.5 1263.4,612.5 1262.9,611.6 1262.4,611.6 1261.9,611.6 1261.4,611.6 1260.9,593.3 1260.4,593.3 1259.9,593.8 1259.4,593.8 1258.9,593.8 1258.4,594.3 1257.9,594.3 1257.4,594.3 1256.9,594.3 1256.4,594.3 1255.9,592.3 1255.4,592.3 1254.9,592.3 1254.4,592.3 1253.9,594.1 1253.4,594.1 1252.9,593.8 1252.4,593.8 1251.9,593.8 1251.4,593.8 1250.9,648.5 1250.4,647.7 1249.9,647.7 1249.4,647.7 1248.9,647.7 1248.4,647.7 1247.9,647.7 1247.4,648.6 1246.9,648.6 1246.4,647.7 1245.9,647.7 1245.4,647.7 1244.9,647.7 1244.4,648.9 1243.9,648.9 1243.4,646.8 1242.9,646.8 1242.4,646.8 1241.9,646.8 1241.4,646.8 1240.9,646.8 1240.4,647.7 1239.9,647.7 1239.4,647.7 1238.9,647.7 1238.4,649.0 1237.9,649.0 1237.4,649.0 1236.9,652.3 1236.4,652.1 1235.9,652.1 1235.4,652.1 1234.9,652.1 1234.4,651.6 1233.9,651.6 1233.4,652.4 1232.9,652.4 1232.4,652.4 1231.9,652.4 1231.4,652.4 1230.9,652.4 1230.4,651.6 1229.9,651.6 1229.4,651.6 1228.9,651.9 1228.4,651.9 1227.9,651.9 1227.4,651.9 1226.9,651.9 1226.4,651.9 1225.9,651.4 1225.4,651.4 1224.9,651.4 1224.4,651.4 1223.9,652.0 1223.4,662.3 1222.9,662.3 1222.4,662.3 1221.9,662.3 1221.4,662.3 1220.9,662.3 1220.4,661.2 1219.9,661.2 1219.4,648.1 1218.9,648.1 1218.4,648.9 1217.9,648.9 1217.4,648.9 1216.9,648.9 1216.4,648.9 1215.9,647.6 1215.4,647.6 1214.9,647.6 1214.4,647.5 1213.9,647.5 1213.4,648.1 1212.9,648.1 1212.4,641.2 1211.9,641.2 1211.4,641.4 1210.9,641.4 1210.4,673.4 1209.9,673.4 1209.4,673.4 1208.9,673.4 1208.4,674.6 1207.9,674.6 1207.4,675.8 1206.9,675.8 1206.4,675.8 1205.9,672.6 1205.4,672.6 1204.9,673.5 1204.4,673.5 1203.9,673.5 1203.4,673.5 1202.9,674.2 1202.4,674.2 1201.9,674.2 1201.4,674.2 1200.9,674.7 1200.4,674.7 1199.9,674.7 1199.4,674.7 1198.9,673.9 1198.4,673.9 1197.9,673.9 1197.4,673.9 1196.9,673.9 1196.4,674.7 1195.9,674.7 1195.4,674.7 1194.9,674.7 1194.4,674.7 1193.9,642.0 1193.4,642.0 1192.9,641.7 1192.4,641.7 1191.9,641.7 1191.4,641.7 1190.9,642.5 1190.4,642.5 1189.9,642.5 1189.4,642.5 1188.9,642.5 1188.4,641.6 1187.9,641.6 1187.4,641.6 1186.9,642.1 1186.4,642.1 1185.9,642.0 1185.4,642.0 1184.9,642.0 1184.4,641.5 1183.9,641.5 1183.4,641.5 1182.9,641.5 1182.4,641.5 1181.9,641.5 1181.4,641.4 1180.9,641.4 1180.4,641.4 1179.9,641.4 1179.4,631.9 1178.9,632.9 1178.4,632.9 1177.9,632.9 1177.4,632.9 1176.9,632.9 1176.4,632.4 1175.9,632.4 1175.4,632.4 1174.9,632.4 1174.4,632.4 1173.9,632.4 1173.4,633.5 1172.9,633.5 1172.4,633.5 1171.9,633.5 1171.4,633.5 1170.9,633.5 1170.4,632.5 1169.9,632.5 1169.4,632.5 1168.9,631.6 1168.4,631.6 1167.9,632.2 1167.4,632.2 1166.9,632.2 1166.4,627.5 1165.9,627.5 1165.4,627.5 1164.9,627.5 1164.4,627.5 1163.9,627.1 1163.4,627.1 1162.9,627.1 1162.4,627.1 1161.9,626.9 1161.4,626.9 1160.9,627.4 1160.4,627.4 1159.9,627.4 1159.4,627.4 1158.9,627.4 1158.4,627.4 1157.9,628.0 1157.4,634.1 1156.9,634.1 1156.4,633.9 1155.9,633.9 1155.4,632.8 1154.9,632.8 1154.4,632.8 1153.9,632.8 1153.4,634.0 1152.9,634.0 1152.4,634.0 1151.9,635.1 1151.4,635.1 1150.9,635.1 1150.4,633.5 1149.9,633.5 1149.4,633.5 1148.9,633.5 1148.4,633.5 1147.9,632.9 1147.4,632.9 1146.9,632.9 1146.4,632.9 1145.9,634.1 1145.4,634.1 1144.9,634.1 1144.4,634.1 1143.9,634.1 1143.4,634.1 1142.9,634.1 1142.4,634.1 1141.9,633.8 1141.4,602.3 1140.9,602.3 1140.4,602.3 1139.9,581.4 1139.4,581.4 1138.9,580.9 1138.4,580.9 1137.9,581.8 1137.4,581.8 1136.9,581.8 1136.4,581.8 1135.9,580.4 1135.4,580.4 1134.9,580.4 1134.4,580.7 1133.9,580.7 1133.4,580.7 1132.9,579.0 1132.4,579.0 1131.9,579.0 1131.4,580.1 1130.9,582.5 1130.4,582.5 1129.9,604.9 1129.4,604.9 1128.9,604.2 1128.4,604.2 1127.9,604.2 1127.4,604.2 1126.9,604.2 1126.4,604.2 1125.9,604.2 1125.4,604.2 1124.9,604.2 1124.4,604.0 1123.9,604.0 1123.4,604.0 1122.9,604.0 1122.4,604.0 1121.9,604.0 1121.4,605.1 1120.9,605.1 1120.4,605.1 1119.9,605.1 1119.4,603.9 1118.9,603.9 1118.4,603.9 1117.9,603.9 1117.4,603.9 1116.9,625.7 1116.4,625.7 1115.9,625.0 1115.4,625.0 1114.9,625.0 1114.4,625.0 1113.9,625.8 1113.4,625.8 1112.9,625.8 1112.4,625.8 1111.9,625.8 1111.4,624.9 1110.9,624.9 1110.4,624.9 1109.9,624.9 1109.4,624.7 1108.9,624.7 1108.4,624.7 1107.9,624.7 1107.4,624.7 1106.9,624.7 1106.4,625.9 1105.9,625.9 1105.4,625.9 1104.9,624.9 1104.4,624.9 1103.9,624.9 1103.4,624.8 1102.9,624.8 1102.4,624.8 1101.9,624.8 1101.4,622.6 1100.9,622.6 1100.4,623.0 1099.9,623.0 1099.4,623.0 1098.9,623.0 1098.4,623.2 1097.9,612.8 1097.4,612.8 1096.9,612.8 1096.4,613.4 1095.9,613.4 1095.4,613.4 1094.9,612.9 1094.4,612.9 1093.9,612.9 1093.4,611.8 1092.9,611.8 1092.4,611.8 1091.9,611.8 1091.4,611.8 1090.9,611.8 1090.4,677.2 1089.9,677.2 1089.4,677.2 1088.9,677.2 1088.4,678.4 1087.9,678.4 1087.4,678.4 1086.9,678.4 1086.4,678.4 1085.9,678.4 1085.4,675.8 1084.9,675.8 1084.4,675.8 1083.9,675.8 1083.4,675.8 1082.9,678.7 1082.4,678.7 1081.9,678.7 1081.4,678.7 1080.9,677.4 1080.4,677.4 1079.9,677.4 1079.4,677.4 1078.9,677.4 1078.4,677.4 1077.9,677.5 1077.4,677.5 1076.9,677.4 1076.4,677.4 1075.9,677.4 1075.4,677.4 1074.9,677.4 1074.4,678.5 1073.9,678.5 1073.4,652.0 1072.9,652.0 1072.4,652.0 1071.9,651.2 1071.4,651.2 1070.9,651.2 1070.4,651.2 1069.9,651.7 1069.4,651.7 1068.9,651.7 1068.4,651.7 1067.9,651.7 1067.4,658.5 1066.9,658.5 1066.4,659.6 1065.9,659.6 1065.4,659.6 1064.9,659.6 1064.4,659.6 1063.9,659.6 1063.4,659.6 1062.9,661.0 1062.4,661.0 1061.9,661.0 1061.4,661.0 1060.9,661.0 1060.4,646.7 1059.9,646.2 1059.4,646.2 1058.9,646.2 1058.4,637.1 1057.9,637.1 1057.4,637.1 1056.9,636.7 1056.4,636.7 1055.9,636.7 1055.4,636.7 1054.9,638.9 1054.4,638.9 1053.9,638.9 1053.4,638.9 1052.9,639.9 1052.4,639.9 1051.9,646.0 1051.4,646.0 1050.9,646.0 1050.4,646.4 1049.9,646.4 1049.4,646.4 1048.9,646.4 1048.4,646.4 1047.9,645.9 1047.4,645.9 1046.9,645.9 1046.4,645.9 1045.9,645.9 1045.4,645.9 1044.9,643.4 1044.4,643.4 1043.9,643.4 1043.4,643.4 1042.9,646.6 1042.4,646.6 1041.9,646.6 1041.4,646.6 1040.9,645.1 1040.4,645.1 1039.9,645.3 1039.4,645.3 1038.9,645.3 1038.4,646.1 1037.9,646.1 1037.4,646.1 1036.9,646.1 1036.4,646.0 1035.9,646.0 1035.4,645.9 1034.9,645.9 1034.4,645.9 1033.9,645.9 1033.4,645.9 1032.9,623.2 1032.4,623.2 1031.9,632.7 1031.4,632.7 1030.9,632.7 1030.4,632.4 1029.9,632.4 1029.4,632.4 1028.9,632.4 1028.4,631.8 1027.9,631.8 1027.4,632.2 1026.9,632.2 1026.4,632.2 1025.9,632.2 1025.4,632.2 1024.9,632.0 1024.4,632.0 1023.9,633.2 1023.4,633.2 1022.9,633.2 1022.4,633.2 1021.9,633.2 1021.4,633.2 1020.9,588.4 1020.4,588.1 1019.9,588.1 1019.4,588.1 1018.9,588.1 1018.4,596.2 1017.9,596.2 1017.4,596.2 1016.9,596.2 1016.4,596.2 1015.9,596.2 1015.4,596.2 1014.9,596.2 1014.4,596.2 1013.9,596.2 1013.4,596.2 1012.9,596.7 1012.4,596.7 1011.9,589.0 1011.4,589.0 1010.9,589.0 1010.4,588.2 1009.9,613.5 1009.4,613.5 1008.9,613.5 1008.4,613.5 1007.9,613.5 1007.4,614.8 1006.9,614.8 1006.4,614.8 1005.9,614.8 1005.4,614.8 1004.9,614.8 1004.4,614.9 1003.9,614.9 1003.4,614.9 1002.9,614.1 1002.4,614.1 1001.9,614.1 1001.4,614.1 1000.9,614.1 1000.4,614.1 999.9,614.3 999.4,614.3 998.9,614.3 998.4,614.3 997.9,614.3 997.4,614.3 996.9,614.9 996.4,635.8 995.9,635.8 995.4,635.8 994.9,635.8 994.4,635.8 993.9,634.6 993.4,645.6 992.9,645.6 992.4,646.4 991.9,646.4 991.4,646.4 990.9,646.4 990.4,646.4 989.9,641.6 989.4,641.6 988.9,641.6 988.4,641.6 987.9,642.3 987.4,642.3 986.9,642.3 986.4,642.3 985.9,641.8 985.4,641.8 984.9,641.8 984.4,640.9 983.9,640.9 983.4,640.9 982.9,640.9 982.4,640.9 981.9,640.9 981.4,641.4 980.9,641.4 980.4,641.4 979.9,477.8 979.4,478.9 978.9,478.9 978.4,478.9 977.9,479.7 977.4,479.7 976.9,477.7 976.4,477.7 975.9,477.7 975.4,477.5 974.9,477.5 974.4,477.7 973.9,477.7 973.4,478.1 972.9,478.1 972.4,478.1 971.9,478.1 971.4,478.1 970.9,477.8 970.4,477.8 969.9,477.8 969.4,477.8 968.9,477.8 968.4,477.6 967.9,477.6 967.4,477.6 966.9,477.6 966.4,478.8 965.9,473.9 965.4,473.9 964.9,473.9 964.4,473.3 963.9,473.3 963.4,473.3 962.9,473.3 962.4,473.3 961.9,473.4 961.4,473.4 960.9,473.4 960.4,473.4 959.9,473.4 959.4,473.4 958.9,474.0 958.4,474.0 957.9,474.0 957.4,474.0 956.9,533.9 956.4,533.9 955.9,554.8 955.4,554.8 954.9,554.8 954.4,555.7 953.9,555.7 953.4,554.6 952.9,554.6 952.4,554.6 951.9,554.6 951.4,554.6 950.9,554.6 950.4,555.8 949.9,555.8 949.4,555.8 948.9,555.8 948.4,555.8 947.9,554.4 947.4,554.4 946.9,554.4 946.4,554.4 945.9,555.9 945.4,555.9 944.9,566.0 944.4,566.0 943.9,565.8 943.4,565.8 942.9,565.9 942.4,565.9 941.9,565.6 941.4,565.6 940.9,561.8 940.4,560.6 939.9,560.6 939.4,560.6 938.9,560.6 938.4,560.6 937.9,560.6 937.4,561.1 936.9,561.1 936.4,561.1 935.9,561.1 935.4,561.1 934.9,561.1 934.4,562.2 933.9,562.2 933.4,562.3 932.9,562.3 932.4,571.6 931.9,571.4 931.4,571.4 930.9,571.4 930.4,572.6 929.9,572.6 929.4,572.6 928.9,563.3 928.4,562.3 927.9,562.3 927.4,562.3 926.9,562.3 926.4,562.3 925.9,511.2 925.4,511.0 924.9,511.0 924.4,511.0 923.9,511.3 923.4,511.3 922.9,511.3 922.4,511.3 921.9,511.3 921.4,511.2 920.9,511.2 920.4,511.2 919.9,511.2 919.4,510.6 918.9,510.6 918.4,510.6 917.9,510.6 917.4,510.6 916.9,509.0 916.4,509.0 915.9,509.0 915.4,509.0 914.9,551.3 914.4,551.3 913.9,552.6 913.4,552.6 912.9,552.6 912.4,552.6 911.9,552.6 911.4,552.6 910.9,552.6 910.4,552.6 909.9,552.6 909.4,553.7 908.9,553.7 908.4,553.7 907.9,562.5 907.4,562.5 906.9,561.1 906.4,561.1 905.9,561.1 905.4,562.5 904.9,562.5 904.4,562.2 903.9,553.4 903.4,553.4 902.9,553.4 902.4,553.4 901.9,553.4 901.4,553.0 900.9,553.0 900.4,553.0 899.9,553.0 899.4,513.3 898.9,514.0 898.4,514.0 897.9,514.0 897.4,514.0 896.9,514.0 896.4,514.0 895.9,514.1 895.4,524.0 894.9,524.0 894.4,524.0 893.9,523.8 893.4,523.8 892.9,523.8 892.4,523.8 891.9,515.0 891.4,514.0 890.9,514.0 890.4,514.0 889.9,514.0 889.4,514.5 888.9,553.1 888.4,553.1 887.9,553.1 887.4,553.1 886.9,553.1 886.4,581.5 885.9,581.5 885.4,582.2 884.9,582.2 884.4,582.2 883.9,582.3 883.4,582.3 882.9,582.9 882.4,582.9 881.9,582.9 881.4,582.9 880.9,582.9 880.4,582.9 879.9,573.0 879.4,573.0 878.9,573.0 878.4,573.0 877.9,573.0 877.4,573.0 876.9,571.9 876.4,571.9 875.9,571.9 875.4,571.9 874.9,572.2 874.4,552.8 873.9,552.8 873.4,552.7 872.9,552.7 872.4,552.7 871.9,553.0 871.4,553.0 870.9,541.9 870.4,541.9 869.9,541.5 869.4,541.5 868.9,541.5 868.4,541.5 867.9,541.5 867.4,541.5 866.9,528.1 866.4,528.1 865.9,529.1 865.4,529.1 864.9,529.1 864.4,529.1 863.9,529.2 863.4,529.2 862.9,529.2 862.4,529.2 861.9,528.9 861.4,528.9 860.9,528.9 860.4,528.6 859.9,528.6 859.4,528.6 858.9,528.6 858.4,538.5 857.9,539.2 857.4,539.2 856.9,539.5 856.4,539.5 855.9,539.5 855.4,530.7 854.9,530.7 854.4,530.7 853.9,529.1 853.4,529.1 852.9,529.6 852.4,529.6 851.9,529.6 851.4,529.2 850.9,529.2 850.4,530.4 849.9,530.4 849.4,529.8 848.9,529.8 848.4,529.9 847.9,529.9 847.4,529.9 846.9,529.9 846.4,540.9 845.9,540.8 845.4,540.8 844.9,540.8 844.4,540.8 843.9,540.8 843.4,540.8 842.9,540.8 842.4,540.8 841.9,540.8 841.4,541.0 840.9,541.0 840.4,541.0 839.9,530.4 839.4,530.4 838.9,530.4 838.4,530.4 837.9,531.0 837.4,531.0 836.9,531.0 836.4,531.0 835.9,531.0 835.4,530.9 834.9,530.9 834.4,530.9 833.9,530.8 833.4,530.8 832.9,530.8 832.4,530.8 831.9,530.6 831.4,530.6 830.9,530.6 830.4,530.6 829.9,530.6 829.4,530.6 828.9,531.7 828.4,531.7 827.9,531.7 827.4,542.1 826.9,542.1 826.4,541.9 825.9,541.9 825.4,541.9 824.9,541.4 824.4,541.4 823.9,530.8 823.4,530.8 822.9,530.8 822.4,531.7 821.9,531.7 821.4,571.4 820.9,571.4 820.4,571.8 819.9,571.8 819.4,571.8 818.9,570.8 818.4,570.8 817.9,532.0 817.4,532.0 816.9,532.0 816.4,532.0 815.9,532.0 815.4,530.2 814.9,530.2 814.4,530.2 813.9,530.2 813.4,530.2 812.9,531.6 812.4,531.6 811.9,531.6 811.4,531.6 810.9,531.6 810.4,531.0 809.9,531.0 809.4,539.1 808.9,539.1 808.4,539.1 807.9,539.1 807.4,539.1 806.9,539.1 806.4,540.0 805.9,540.0 805.4,540.0 804.9,531.1 804.4,531.1 803.9,531.1 803.4,531.7 802.9,531.7 802.4,531.7 801.9,531.7 801.4,531.7 800.9,531.0 800.4,531.0 799.9,531.0 799.4,531.0 798.9,531.0 798.4,531.0 797.9,530.4 797.4,530.4 796.9,530.4 796.4,530.4 795.9,645.6 795.4,645.6 794.9,645.6 794.4,646.6 793.9,646.6 793.4,646.6 792.9,646.6 792.4,646.6 791.9,646.5 791.4,646.5 790.9,646.5 790.4,646.4 789.9,646.4 789.4,646.4 788.9,646.4 788.4,646.4 787.9,646.4 787.4,646.4 786.9,646.4 786.4,646.4 785.9,645.7 785.4,645.7 784.9,645.7 784.4,645.7 783.9,645.7 783.4,645.7 782.9,644.4 782.4,644.4 781.9,644.4 781.4,644.4 780.9,646.3 780.4,646.3 779.9,646.3 779.4,644.7 778.9,572.5 778.4,572.5 777.9,572.5 777.4,572.5 776.9,572.5 776.4,574.0 775.9,574.0 775.4,574.0 774.9,574.0 774.4,574.1 773.9,574.1 773.4,574.1 772.9,574.4 772.4,574.4 771.9,574.4 771.4,573.5 770.9,573.5 770.4,574.7 769.9,580.9 769.4,580.9 768.9,580.9 768.4,579.8 767.9,579.8 767.4,579.8 766.9,579.3 766.4,579.3 765.9,588.2 765.4,589.0 764.9,589.0 764.4,589.0 763.9,589.1 763.4,589.1 762.9,589.1 762.4,589.1 761.9,589.1 761.4,586.8 760.9,586.8 760.4,594.5 759.9,594.5 759.4,596.0 758.9,596.0 758.4,596.0 757.9,596.0 757.4,597.4 756.9,597.4 756.4,597.4 755.9,597.4 755.4,597.4 754.9,580.4 754.4,580.4 753.9,580.4 753.4,580.1 752.9,580.1 752.4,580.1 751.9,580.1 751.4,580.1 750.9,579.2 750.4,579.2 749.9,579.2 749.4,579.2 748.9,579.2 748.4,579.7 747.9,579.7 747.4,588.5 746.9,588.5 746.4,588.5 745.9,587.7 745.4,587.7 744.9,587.7 744.4,587.7 743.9,578.3 743.4,579.4 742.9,579.4 742.4,579.4 741.9,579.3 741.4,579.3 740.9,579.3 740.4,579.3 739.9,579.3 739.4,579.3 738.9,564.7 738.4,564.7 737.9,564.7 737.4,551.0 736.9,551.4 736.4,551.4 735.9,551.4 735.4,551.4 734.9,551.4 734.4,551.4 733.9,550.9 733.4,550.9 732.9,550.9 732.4,550.9 731.9,550.9 731.4,550.9 730.9,562.6 730.4,562.6 729.9,562.6 729.4,562.6 728.9,562.5 728.4,562.5 727.9,562.5 727.4,563.0 726.9,563.0 726.4,563.0 725.9,563.0 725.4,543.2 724.9,542.6 724.4,542.6 723.9,542.6 723.4,543.6 722.9,541.4 722.4,541.4 721.9,541.2 721.4,541.2 720.9,541.2 720.4,541.2 719.9,541.2 719.4,541.2 718.9,540.8 718.4,533.1 717.9,533.1 717.4,533.1 716.9,533.1 716.4,533.1 715.9,532.1 715.4,532.1 714.9,532.1 714.4,532.1 713.9,532.1 713.4,532.1 712.9,532.7 712.4,532.7 711.9,532.7 711.4,532.2 710.9,532.2 710.4,532.2 709.9,532.4 709.4,532.4 708.9,533.4 708.4,533.4 707.9,533.4 707.4,533.4 706.9,533.4 706.4,533.4 705.9,533.4 705.4,533.4 704.9,533.4 704.4,532.7 703.9,532.7 703.4,532.7 702.9,532.3 702.4,532.3 701.9,532.3 701.4,532.6 700.9,532.6 700.4,532.6 699.9,532.6 699.4,532.3 698.9,532.3 698.4,540.1 697.9,540.1 697.4,540.1 696.9,540.1 696.4,540.1 695.9,540.1 695.4,540.2 694.9,540.2 694.4,530.3 693.9,530.3 693.4,530.3 692.9,530.3 692.4,530.6 691.9,530.6 691.4,530.6 690.9,530.6 690.4,530.6 689.9,530.3 689.4,530.3 688.9,530.3 688.4,530.3 687.9,531.2 687.4,531.2 686.9,539.3 686.4,539.3 685.9,539.3 685.4,539.3 684.9,538.7 684.4,538.7 683.9,538.7 683.4,538.7 682.9,538.7 682.4,538.7 681.9,538.7 681.4,530.6 680.9,530.6 680.4,530.6 679.9,531.1 679.4,531.1 678.9,530.4 678.4,530.4 677.9,530.4 677.4,530.9 676.9,530.9 676.4,530.8 675.9,530.8 675.4,530.4 674.9,530.4 674.4,530.4 673.9,530.4 673.4,539.2 672.9,539.2 672.4,539.3 671.9,539.3 671.4,539.3 670.9,539.9 670.4,539.9 669.9,530.8 669.4,530.8 668.9,530.8 668.4,530.3 667.9,530.3 667.4,530.3 666.9,530.3 666.4,530.3 665.9,530.3 665.4,531.3 664.9,540.1 664.4,540.1 663.9,539.2 663.4,539.2 662.9,539.2 662.4,539.2 661.9,539.2 661.4,540.1 660.9,531.3 660.4,531.3 659.9,531.3 659.4,530.3 658.9,530.3 658.4,531.3 657.9,531.3 657.4,531.3 656.9,531.3 656.4,531.3 655.9,531.3 655.4,531.1 654.9,541.0 654.4,540.2 653.9,540.2 653.4,540.2 652.9,540.2 652.4,540.2 651.9,540.2 651.4,541.2 650.9,541.2 650.4,534.6 649.9,534.6 649.4,534.0 648.9,534.0 648.4,573.6 647.9,573.6 647.4,573.6 646.9,573.6 646.4,574.1 645.9,574.1 645.4,574.1 644.9,566.4 644.4,566.4 643.9,566.4 643.4,565.8 642.9,565.8 642.4,565.8 641.9,565.7 641.4,565.7 640.9,565.7 640.4,565.7 639.9,566.4 639.4,566.4 638.9,566.4 638.4,566.4 637.9,566.4 637.4,580.7 636.9,578.8 636.4,578.8 635.9,578.8 635.4,580.2 634.9,604.4 634.4,604.4 633.9,605.0 633.4,605.0 632.9,605.0 632.4,605.0 631.9,604.7 631.4,604.7 630.9,604.8 630.4,604.8 629.9,604.8 629.4,604.8 628.9,604.8 628.4,604.8 627.9,605.1 627.4,605.1 626.9,605.0 626.4,605.0 625.9,605.0 625.4,605.0 624.9,608.3 624.4,608.3 623.9,607.1 623.4,607.1 622.9,607.1 622.4,607.1 621.9,624.7 621.4,624.7 620.9,624.9 620.4,624.9 619.9,624.9 619.4,624.9 618.9,624.9 618.4,624.5 617.9,624.5 617.4,624.5 616.9,624.5 616.4,624.5 615.9,625.3 615.4,625.3 614.9,625.3 614.4,625.3 613.9,625.3 613.4,624.5 612.9,633.3 612.4,633.3 611.9,633.3 611.4,633.5 610.9,633.5 610.4,633.5 609.9,633.5 609.4,633.6 608.9,633.6 608.4,633.6 607.9,633.6 607.4,638.0 606.9,638.0 606.4,638.0 605.9,638.6 605.4,638.6 604.9,638.4 604.4,638.4 603.9,638.4 603.4,637.6 602.9,637.6 602.4,637.6 601.9,637.9 601.4,637.9 600.9,642.3 600.4,642.3 599.9,642.3 599.4,642.3 598.9,642.8 598.4,642.8 597.9,642.8 597.4,643.1 596.9,643.1 596.4,643.1 595.9,636.5 595.4,636.5 594.9,636.5 594.4,636.5 593.9,636.5 593.4,636.5 592.9,636.5 592.4,636.5 591.9,636.9 591.4,549.8 590.9,549.8 590.4,549.8 589.9,549.6 589.4,549.6 588.9,549.6 588.4,549.6 587.9,549.6 587.4,559.1 586.9,559.1 586.4,559.1 585.9,559.1 585.4,559.8 584.9,559.8 584.4,559.8 583.9,559.8 583.4,548.6 582.9,548.6 582.4,548.6 581.9,548.6 581.4,548.6 580.9,548.6 580.4,547.1 579.9,547.1 579.4,547.1 578.9,546.6 578.4,546.6 577.9,535.6 577.4,535.7 576.9,535.7 576.4,535.7 575.9,535.7 575.4,536.2 574.9,545.0 574.4,545.0 573.9,545.6 573.4,545.6 572.9,545.6 572.4,545.6 571.9,545.6 571.4,545.2 570.9,534.2 570.4,534.2 569.9,534.2 569.4,534.2 568.9,614.6 568.4,614.6 567.9,614.6 567.4,614.6 566.9,623.3 566.4,623.3 565.9,623.3 565.4,623.3 564.9,623.3 564.4,623.1 563.9,623.1 563.4,623.1 562.9,623.1 562.4,623.4 561.9,623.4 561.4,623.4 560.9,623.4 560.4,623.4 559.9,623.4 559.4,622.8 558.9,613.9 558.4,613.9 557.9,613.9 557.4,613.9 556.9,613.9 556.4,614.1 555.9,614.1 555.4,614.1 554.9,613.9 554.4,613.9 553.9,613.9 553.4,613.9 552.9,613.9 552.4,614.5 551.9,614.5 551.4,614.4 550.9,530.1 550.4,530.1 549.9,530.1 549.4,529.2 548.9,529.2 548.4,529.2 547.9,529.2 547.4,529.2 546.9,529.6 546.4,529.6 545.9,529.5 545.4,529.5 544.9,530.3 544.4,530.3 543.9,530.3 543.4,530.6 542.9,530.6 542.4,530.6 541.9,530.6 541.4,569.8 540.9,568.8 540.4,568.8 539.9,568.8 539.4,568.8 538.9,568.8 538.4,578.3 537.9,578.6 537.4,578.6 536.9,578.6 536.4,578.7 535.9,578.7 535.4,578.7 534.9,569.2 534.4,569.2 533.9,569.7 533.4,569.7 532.9,569.7 532.4,569.7 531.9,569.7 531.4,568.8 530.9,568.8 530.4,568.8 529.9,568.8 529.4,568.8 528.9,568.8 528.4,568.6 527.9,568.6 527.4,568.6 526.9,568.6 526.4,568.6 525.9,568.8 525.4,568.8 524.9,540.2 524.4,540.2 523.9,540.2 523.4,540.2 522.9,540.1 522.4,530.2 521.9,530.2 521.4,530.2 520.9,530.2 520.4,528.9 519.9,528.9 519.4,532.6 518.9,532.6 518.4,530.5 517.9,530.5 517.4,530.5 516.9,530.5 516.4,530.5 515.9,530.2 515.4,530.2 514.9,627.1 514.4,627.1 513.9,627.1 513.4,627.1 512.9,627.2 512.4,627.2 511.9,627.2 511.4,627.9 510.9,627.9 510.4,621.3 509.9,621.3 509.4,621.3 508.9,620.1 508.4,620.1 507.9,620.1 507.4,620.1 506.9,620.1 506.4,620.1 505.9,621.6 505.4,621.6 504.9,624.9 504.4,624.9 503.9,624.9 503.4,623.9 502.9,623.9 502.4,623.9 501.9,621.4 501.4,621.4 500.9,621.4 500.4,621.4 499.9,621.4 499.4,621.4 498.9,620.1 498.4,594.7 497.9,594.7 497.4,595.2 496.9,595.2 496.4,595.2 495.9,595.2 495.4,594.3 494.9,594.3 494.4,594.3 493.9,596.3 493.4,596.3 492.9,596.3 492.4,596.3 491.9,596.0 491.4,596.0 490.9,593.8 490.4,593.8 489.9,593.8 489.4,593.4 488.9,593.4 488.4,593.4 487.9,592.5 487.4,592.5 486.9,593.9 486.4,593.9 485.9,593.9 485.4,593.0 484.9,575.4 484.4,575.4 483.9,575.4 483.4,575.4 482.9,575.8 482.4,575.8 481.9,575.8 481.4,575.8 480.9,575.8 480.4,575.0 479.9,575.0 479.4,575.0 478.9,575.0 478.4,575.0 477.9,575.6 477.4,584.4 476.9,584.4 476.4,584.4 475.9,584.4 475.4,648.3 474.9,648.1 474.4,648.1 473.9,648.1 473.4,648.1 472.9,649.4 472.4,649.4 471.9,649.7 471.4,649.7 470.9,649.7 470.4,649.7 469.9,649.5 469.4,649.5 468.9,648.6 468.4,648.6 467.9,648.6 467.4,648.6 466.9,648.8 466.4,648.8 465.9,648.8 465.4,648.8 464.9,648.8 464.4,648.8 463.9,648.8 463.4,648.5 462.9,648.5 462.4,648.5 461.9,648.5 461.4,663.8 460.9,663.8 460.4,663.8 459.9,663.8 459.4,663.8 458.9,663.8 458.4,663.6 457.9,663.6 457.4,663.6 456.9,663.6 456.4,664.2 455.9,664.2 455.4,663.3 454.9,663.3 454.4,663.3 453.9,663.4 453.4,663.4 452.9,663.4 452.4,663.4 451.9,663.4 451.4,663.7 450.9,663.7 450.4,663.7 449.9,663.7 449.4,663.7 448.9,651.1 448.4,651.1 447.9,651.1 447.4,651.1 446.9,651.1 446.4,653.8 445.9,653.8 445.4,653.8 444.9,653.8 444.4,652.2 443.9,652.2 443.4,652.2 442.9,651.3 442.4,651.3 441.9,652.3 441.4,652.3 440.9,652.3 440.4,652.3 439.9,651.9 439.4,651.9 438.9,652.7 438.4,652.7 437.9,652.7 437.4,652.7 436.9,652.2 436.4,652.2 435.9,652.2 435.4,652.2 434.9,652.2 434.4,651.3 433.9,651.3 433.4,651.3 432.9,651.3 432.4,651.3 431.9,651.3 431.4,651.7 430.9,651.7 430.4,651.7 429.9,651.7 429.4,651.7 428.9,651.7 428.4,651.7 427.9,651.7 427.4,651.7 426.9,653.5 426.4,653.5 425.9,653.5 425.4,653.5 424.9,652.5 424.4,652.5 423.9,652.5 423.4,652.5 422.9,651.6 422.4,651.6 421.9,651.6 421.4,651.6 420.9,651.2 420.4,651.2 419.9,651.2 419.4,651.2 418.9,652.4 418.4,652.4 417.9,652.4 417.4,652.4 416.9,652.4 416.4,652.4 415.9,651.5 415.4,651.5 414.9,651.5 414.4,652.7 413.9,652.7 413.4,652.7 412.9,652.7 412.4,652.7 411.9,652.7 411.4,652.5 410.9,652.5 410.4,652.5 409.9,652.5 409.4,652.5 408.9,652.5 408.4,652.1 407.9,652.1 407.4,650.6 406.9,650.6 406.4,650.6 405.9,650.6 405.4,650.6 404.9,653.8 404.4,653.8 403.9,652.6 403.4,652.6 402.9,652.0 402.4,652.0 401.9,650.4 401.4,650.4 400.9,650.4 400.4,650.4 399.9,650.4 399.4,650.1 398.9,650.1 398.4,650.1 397.9,650.1 397.4,650.1 396.9,651.5 396.4,651.5 395.9,651.5 395.4,651.5 394.9,652.3 394.4,652.3 393.9,652.3 393.4,652.3 392.9,652.4 392.4,652.4 391.9,652.4 391.4,652.4 390.9,596.9 390.4,596.9 389.9,596.6 389.4,596.6 388.9,596.6 388.4,596.6 387.9,596.6 387.4,597.0 386.9,585.9 386.4,585.9 385.9,585.9 385.4,585.7 384.9,585.7 384.4,584.7 383.9,584.7 383.4,584.7 382.9,584.7 382.4,584.7 381.9,584.6 381.4,584.6 380.9,584.6 380.4,584.6 379.9,584.7 379.4,584.7 378.9,584.7 378.4,504.9 377.9,504.9 377.4,504.9 376.9,505.6 376.4,505.6 375.9,492.3 375.4,492.3 374.9,492.3 374.4,492.3 373.9,492.5 373.4,492.5 372.9,492.5 372.4,492.5 371.9,492.4 371.4,492.4 370.9,492.4 370.4,492.4 369.9,492.4 369.4,492.9 368.9,492.9 368.4,492.9 367.9,492.4 367.4,492.4 366.9,492.8 366.4,492.8 365.9,492.8 365.4,492.8 364.9,492.8 364.4,492.8 363.9,491.7 363.4,478.5 362.9,478.5 362.4,478.5 361.9,478.5 361.4,478.5 360.9,479.8 360.4,479.8 359.9,479.8 359.4,479.1 358.9,479.1 358.4,479.1 357.9,479.1 357.4,479.9 356.9,479.9 356.4,479.9 355.9,479.9 355.4,477.7 354.9,477.7 354.4,477.7 353.9,477.7 353.4,477.7 352.9,477.7 352.4,478.7 351.9,478.7 351.4,478.7 350.9,419.4 350.4,419.4 349.9,419.4 349.4,420.3 348.9,420.3 348.4,420.3 347.9,420.3 347.4,420.3 346.9,420.3 346.4,419.5 345.9,419.5 345.4,419.4 344.9,419.4 344.4,421.5 343.9,421.5 343.4,421.5 342.9,419.4 342.4,419.4 341.9,419.4 341.4,571.2 340.9,571.2 340.4,571.2 339.9,571.6 339.4,571.6 338.9,571.6 338.4,571.6 337.9,571.6 337.4,572.1 336.9,572.1 336.4,572.1 335.9,572.1 335.4,571.8 334.9,571.8 334.4,571.8 333.9,571.8 333.4,571.4 332.9,571.4 332.4,571.4 331.9,571.4 331.4,561.9 330.9,561.9 330.4,562.2 329.9,562.2 329.4,574.8 328.9,574.8 328.4,574.8 327.9,574.8 327.4,575.5 326.9,575.5 326.4,574.7 325.9,574.7 325.4,574.7 324.9,574.7 324.4,574.7 323.9,589.8 323.4,589.8 322.9,589.8 322.4,589.8 321.9,589.8 321.4,589.8 320.9,589.7 320.4,589.7 319.9,588.8 319.4,588.8 318.9,588.8 318.4,588.8 317.9,588.8 317.4,597.8 316.9,597.8 316.4,596.8 315.9,596.8 315.4,596.8 314.9,596.8 314.4,596.8 313.9,643.7 313.4,643.7 312.9,643.7 312.4,643.7 311.9,643.7 311.4,643.7 310.9,644.5 310.4,644.5 309.9,644.5 309.4,644.5 308.9,644.5 308.4,644.5 307.9,643.3 307.4,643.3 306.9,643.3 306.4,643.3 305.9,644.1 305.4,644.1 304.9,643.8 304.4,643.8 303.9,644.3 303.4,644.3 302.9,644.3 302.4,643.2 301.9,643.2 301.4,643.2 300.9,643.1 300.4,643.1 299.9,643.9 299.4,643.9 298.9,643.9 298.4,643.7 297.9,643.7 297.4,643.7 296.9,643.7 296.4,586.4 295.9,586.4 295.4,586.4 294.9,588.2 294.4,588.2 293.9,588.2 293.4,588.2 292.9,586.7 292.4,586.7 291.9,586.7 291.4,586.7 290.9,586.7 290.4,587.1 289.9,587.1 289.4,587.1 288.9,587.1 288.4,587.1 287.9,586.8 287.4,612.1 286.9,612.1 286.4,612.1 285.9,611.3 285.4,611.3 284.9,611.6 284.4,611.6 283.9,611.6 283.4,611.6 282.9,611.6 282.4,611.6 281.9,612.0 281.4,612.0 280.9,612.0 280.4,612.0 279.9,611.8 279.4,611.8 278.9,611.8 278.4,612.4 277.9,612.4 277.4,611.2 276.9,611.2 276.4,611.2 275.9,611.2 275.4,611.0 274.9,611.0 274.4,593.4 273.9,593.4 273.4,594.1 272.9,594.1 272.4,594.1 271.9,594.0 271.4,594.0 270.9,594.0 270.4,594.0 269.9,536.8 269.4,536.3 268.9,536.3 268.4,536.3 267.9,536.3 267.4,536.3 266.9,536.3 266.4,537.0 265.9,537.0 265.4,537.0 264.9,537.0 264.4,537.0 263.9,536.8 263.4,536.8 262.9,536.8 262.4,536.8 261.9,536.8 261.4,537.6 260.9,537.6 260.4,537.6 259.9,537.6 259.4,536.7 258.9,536.7 258.4,536.3 257.9,536.3 257.4,513.2 256.9,514.2 256.4,514.2 255.9,520.8 255.4,520.8 254.9,521.1 254.4,521.1 253.9,521.1 253.4,521.1 252.9,521.1 252.4,511.8 251.9,511.8 251.4,511.8 250.9,511.8 250.4,512.2 249.9,512.2 249.4,512.2 248.9,512.2 248.4,512.2 247.9,512.2 247.4,511.4 246.9,544.9 246.4,545.0 245.9,545.0 245.4,545.0 244.9,545.0 244.4,545.0 243.9,545.2 243.4,552.5 242.9,552.5 242.4,552.5 241.9,552.5 241.4,552.5 240.9,551.2 240.4,542.9 239.9,542.9 239.4,542.9 238.9,542.9 238.4,542.9 237.9,545.0 237.4,545.0 236.9,545.0 236.4,545.0 235.9,542.9 235.4,542.9 234.9,542.9 234.4,542.9 233.9,542.9 233.4,543.8 232.9,543.8 232.4,543.8 231.9,543.8 231.4,543.8 230.9,543.8 230.4,543.1 229.9,543.1 229.4,543.1 228.9,543.1 228.4,543.1 227.9,528.5 227.4,528.5 226.9,528.4 226.4,528.4 225.9,528.4 225.4,528.4 224.9,528.4 224.4,528.4 223.9,528.7 223.4,528.7 222.9,528.7 222.4,528.7 221.9,528.5 221.4,528.5 220.9,528.5 220.4,528.5 219.9,528.5 219.4,529.0 218.9,529.0 218.4,529.0 217.9,529.2 217.4,529.2 216.9,528.8 216.4,478.2 215.9,478.2 215.4,478.5 214.9,478.5 214.4,478.6 213.9,478.6 213.4,478.8 212.9,478.8 212.4,478.4 211.9,478.4 211.4,478.4 210.9,478.4 210.4,479.0 209.9,479.0 209.4,479.0 208.9,478.5 208.4,478.5 207.9,477.8 207.4,477.8 206.9,478.1 206.4,478.1 205.9,478.1 205.4,479.0 204.9,479.0 204.4,479.0 203.9,412.6 203.4,412.9 202.9,412.9 202.4,411.6 201.9,411.6 201.4,411.6 200.9,411.4 200.4,411.4 199.9,411.9 199.4,411.9 198.9,411.9 198.4,433.2 197.9,433.2 197.4,433.3 196.9,433.3 196.4,456.0 195.9,456.0 195.4,456.0 194.9,456.0 194.4,456.6 193.9,456.6 193.4,456.6 192.9,455.7 192.4,455.7 191.9,433.1 191.4,433.1 190.9,433.1 190.4,434.0 189.9,434.0 189.4,434.0 188.9,432.2 188.4,432.2 187.9,432.8 187.4,432.8 186.9,432.7 186.4,432.7 185.9,432.7 185.4,432.7 184.9,433.3 184.4,433.3 183.9,433.0 183.4,433.0 182.9,433.0 182.4,433.0 181.9,433.0 181.4,433.0 180.9,434.3 180.4,434.3 179.9,434.3 179.4,434.3 178.9,434.3 178.4,434.3"/>
<polygon fill="#55752f" points="178.4,614.1 178.9,614.1 179.4,614.5 179.9,614.5 180.4,614.5 180.9,614.5 181.4,614.5 181.9,614.8 182.4,614.8 182.9,613.8 183.4,613.8 183.9,613.8 184.4,613.8 184.9,613.8 185.4,614.1 185.9,614.1 186.4,615.1 186.9,615.1 187.4,615.1 187.9,615.1 188.4,615.1 188.9,615.1 189.4,615.1 189.9,615.1 190.4,615.1 190.9,615.1 191.4,614.0 191.9,614.0 192.4,614.0 192.9,614.0 193.4,614.0 193.9,616.1 194.4,643.2 194.9,643.2 195.4,643.2 195.9,642.5 196.4,642.5 196.9,642.5 197.4,642.5 197.9,642.5 198.4,642.4 198.9,642.4 199.4,642.4 199.9,642.4 200.4,641.9 200.9,641.9 201.4,641.9 201.9,641.9 202.4,641.9 202.9,642.4 203.4,642.4 203.9,642.4 204.4,642.4 204.9,642.0 205.4,642.0 205.9,642.0 206.4,645.3 206.9,644.3 207.4,644.3 207.9,644.3 208.4,644.3 208.9,644.3 209.4,644.6 209.9,644.6 210.4,644.6 210.9,644.6 211.4,644.6 211.9,644.5 212.4,644.5 212.9,644.5 213.4,644.5 213.9,646.0 214.4,646.0 214.9,646.0 215.4,646.0 215.9,645.8 216.4,645.8 216.9,644.8 217.4,644.8 217.9,644.8 218.4,644.8 218.9,637.1 219.4,637.1 219.9,635.7 220.4,635.7 220.9,635.6 221.4,635.6 221.9,635.6 222.4,636.3 222.9,636.3 223.4,637.9 223.9,637.9 224.4,637.9 224.9,637.9 225.4,637.5 225.9,637.5 226.4,637.5 226.9,637.5 227.4,637.1 227.9,643.8 228.4,643.8 228.9,643.8 229.4,643.8 229.9,643.8 230.4,644.6 230.9,635.3 231.4,635.3 231.9,635.3 232.4,635.3 232.9,634.1 233.4,634.1 233.9,635.3 234.4,635.3 234.9,635.3 235.4,635.3 235.9,635.3 236.4,635.3 236.9,634.7 237.4,634.7 237.9,634.7 238.4,635.3 238.9,635.3 239.4,633.0 239.9,633.0 240.4,633.0 240.9,633.0 241.4,633.0 241.9,635.0 242.4,635.0 242.9,635.0 243.4,635.0 243.9,635.0 244.4,634.6 244.9,634.6 245.4,634.6 245.9,634.6 246.4,634.6 246.9,645.7 247.4,645.7 247.9,644.1 248.4,644.1 248.9,644.1 249.4,644.2 249.9,644.2 250.4,644.2 250.9,644.2 251.4,644.9 251.9,644.9 252.4,644.9 252.9,644.9 253.4,644.9 253.9,646.8 254.4,646.8 254.9,644.9 255.4,644.9 255.9,644.9 256.4,644.9 256.9,644.9 257.4,644.9 257.9,581.8 258.4,581.8 258.9,581.1 259.4,581.1 259.9,581.1 260.4,581.1 260.9,581.1 261.4,581.1 261.9,580.6 262.4,580.6 262.9,580.2 263.4,580.2 263.9,580.2 264.4,580.2 264.9,581.5 265.4,581.5 265.9,581.5 266.4,581.1 266.9,581.1 267.4,581.1 267.9,581.9 268.4,581.9 268.9,581.9 269.4,581.9 269.9,581.9 270.4,580.3 270.9,580.3 271.4,581.4 271.9,581.4 272.4,581.4 272.9,580.9 273.4,580.9 273.9,627.4 274.4,627.4 274.9,627.0 275.4,627.0 275.9,627.0 276.4,627.1 276.9,627.1 277.4,627.1 277.9,627.1 278.4,627.1 278.9,628.3 279.4,628.3 279.9,628.3 280.4,628.3 280.9,627.5 281.4,627.5 281.9,627.4 282.4,627.4 282.9,627.4 283.4,627.4 283.9,627.4 284.4,627.4 284.9,625.6 285.4,625.6 285.9,625.6 286.4,627.5 286.9,627.5 287.4,627.5 287.9,627.5 288.4,626.9 288.9,619.2 289.4,619.9 289.9,619.9 290.4,619.9 290.9,619.2 291.4,619.2 291.9,619.2 292.4,619.2 292.9,618.9 293.4,618.9 293.9,619.1 294.4,619.1 294.9,619.1 295.4,619.1 295.9,619.1 296.4,619.5 296.9,619.5 297.4,619.5 297.9,619.5 298.4,619.5 298.9,620.3 299.4,620.3 299.9,620.3 300.4,620.1 300.9,620.1 301.4,641.5 301.9,641.5 302.4,640.6 302.9,640.6 303.4,640.6 303.9,640.6 304.4,641.1 304.9,641.1 305.4,641.1 305.9,641.1 306.4,641.1 306.9,641.1 307.4,641.3 307.9,641.3 308.4,641.3 308.9,641.3 309.4,641.3 309.9,643.1 310.4,643.1 310.9,643.1 311.4,643.1 311.9,640.0 312.4,640.0 312.9,640.6 313.4,640.6 313.9,641.8 314.4,641.8 314.9,641.8 315.4,658.9 315.9,658.9 316.4,658.9 316.9,658.9 317.4,658.9 317.9,657.6 318.4,657.6 318.9,657.6 319.4,657.6 319.9,659.1 320.4,659.1 320.9,658.7 321.4,658.7 321.9,658.7 322.4,658.7 322.9,658.7 323.4,658.7 323.9,659.1 324.4,659.1 324.9,659.1 325.4,659.1 325.9,659.1 326.4,659.4 326.9,659.4 327.4,659.4 327.9,659.4 328.4,659.4 328.9,655.7 329.4,655.7 329.9,655.7 330.4,655.7 330.9,655.7 331.4,659.1 331.9,659.1 332.4,659.1 332.9,659.1 333.4,659.1 333.9,659.1 334.4,657.4 334.9,657.4 335.4,657.4 335.9,657.4 336.4,657.4 336.9,657.4 337.4,658.7 337.9,658.7 338.4,658.7 338.9,623.7 339.4,623.7 339.9,623.7 340.4,624.1 340.9,624.1 341.4,624.1 341.9,624.1 342.4,624.1 342.9,623.0 343.4,623.0 343.9,623.0 344.4,623.0 344.9,623.0 345.4,623.0 345.9,622.6 346.4,622.6 346.9,622.6 347.4,622.6 347.9,622.6 348.4,624.5 348.9,624.5 349.4,624.5 349.9,624.5 350.4,624.5 350.9,624.1 351.4,624.1 351.9,624.1 352.4,624.1 352.9,624.1 353.4,623.8 353.9,623.8 354.4,623.8 354.9,648.5 355.4,648.5 355.9,648.5 356.4,648.5 356.9,648.5 357.4,648.5 357.9,649.0 358.4,649.0 358.9,649.0 359.4,648.0 359.9,648.0 360.4,648.0 360.9,648.0 361.4,648.0 361.9,648.0 362.4,647.2 362.9,647.2 363.4,647.2 363.9,639.8 364.4,639.8 364.9,639.8 365.4,639.8 365.9,639.8 366.4,639.8 366.9,640.8 367.4,640.8 367.9,640.8 368.4,639.3 368.9,639.3 369.4,645.3 369.9,648.3 370.4,648.3 370.9,648.3 371.4,648.3 371.9,648.3 372.4,648.3 372.9,646.5 373.4,646.5 373.9,639.8 374.4,639.8 374.9,639.8 375.4,639.8 375.9,639.9 376.4,639.9 376.9,639.5 377.4,639.5 377.9,639.5 378.4,639.5 378.9,639.5 379.4,640.3 379.9,640.3 380.4,645.8 380.9,645.8 381.4,645.4 381.9,645.4 382.4,644.3 382.9,644.3 383.4,644.3 383.9,644.3 384.4,644.3 384.9,644.7 385.4,644.7 385.9,644.7 386.4,644.7 386.9,644.7 387.4,644.7 387.9,644.3 388.4,644.3 388.9,646.0 389.4,657.0 389.9,657.0 390.4,656.0 390.9,656.0 391.4,648.3 391.9,648.3 392.4,648.3 392.9,648.3 393.4,648.3 393.9,648.3 394.4,649.1 394.9,649.1 395.4,649.2 395.9,649.2 396.4,649.2 396.9,649.2 397.4,649.2 397.9,648.6 398.4,648.6 398.9,648.7 399.4,648.7 399.9,648.7 400.4,649.0 400.9,649.0 401.4,649.0 401.9,649.0 402.4,649.0 402.9,649.0 403.4,649.0 403.9,648.5 404.4,648.5 404.9,648.5 405.4,647.8 405.9,647.8 406.4,647.8 406.9,647.8 407.4,647.8 407.9,647.8 408.4,648.5 408.9,648.5 409.4,648.5 409.9,648.5 410.4,648.3 410.9,648.3 411.4,648.3 411.9,648.3 412.4,647.5 412.9,647.5 413.4,647.7 413.9,647.7 414.4,647.7 414.9,647.4 415.4,647.4 415.9,647.4 416.4,647.4 416.9,647.4 417.4,647.4 417.9,648.4 418.4,648.4 418.9,648.4 419.4,648.4 419.9,648.4 420.4,648.2 420.9,648.2 421.4,636.1 421.9,635.8 422.4,635.8 422.9,635.8 423.4,635.8 423.9,635.8 424.4,635.8 424.9,636.5 425.4,636.5 425.9,638.6 426.4,638.6 426.9,636.6 427.4,636.6 427.9,636.6 428.4,636.6 428.9,633.9 429.4,633.9 429.9,633.9 430.4,638.5 430.9,638.5 431.4,622.7 431.9,622.7 432.4,622.7 432.9,620.6 433.4,620.6 433.9,620.6 434.4,620.6 434.9,620.6 435.4,620.6 435.9,619.9 436.4,619.9 436.9,620.7 437.4,620.7 437.9,620.7 438.4,620.5 438.9,620.5 439.4,620.5 439.9,620.5 440.4,620.5 440.9,620.5 441.4,618.3 441.9,618.3 442.4,618.3 442.9,618.3 443.4,618.3 443.9,620.0 444.4,620.0 444.9,620.0 445.4,620.7 445.9,620.7 446.4,620.7 446.9,620.7 447.4,620.7 447.9,620.1 448.4,620.1 448.9,620.1 449.4,660.6 449.9,660.6 450.4,660.1 450.9,660.1 451.4,660.1 451.9,660.1 452.4,659.4 452.9,659.4 453.4,661.6 453.9,661.6 454.4,661.6 454.9,661.7 455.4,661.7 455.9,661.7 456.4,661.7 456.9,661.4 457.4,661.4 457.9,661.4 458.4,661.4 458.9,661.8 459.4,661.8 459.9,661.1 460.4,661.1 460.9,661.1 461.4,661.1 461.9,663.7 462.4,663.7 462.9,663.7 463.4,663.7 463.9,663.7 464.4,663.7 464.9,663.7 465.4,663.7 465.9,664.1 466.4,664.1 466.9,662.6 467.4,662.6 467.9,662.6 468.4,662.6 468.9,657.5 469.4,659.5 469.9,659.5 470.4,659.1 470.9,659.1 471.4,658.5 471.9,658.5 472.4,664.6 472.9,664.6 473.4,664.6 473.9,664.6 474.4,663.8 474.9,663.8 475.4,663.8 475.9,663.8 476.4,663.8 476.9,663.8 477.4,664.5 477.9,664.5 478.4,663.7 478.9,663.7 479.4,663.7 479.9,663.7 480.4,663.7 480.9,663.7 481.4,664.5 481.9,664.5 482.4,663.0 482.9,663.0 483.4,663.0 483.9,663.2 484.4,663.2 484.9,663.2 485.4,663.2 485.9,663.2 486.4,662.4 486.9,662.4 487.4,662.4 487.9,663.4 488.4,663.4 488.9,663.4 489.4,663.4 489.9,663.4 490.4,663.2 490.9,663.2 491.4,663.2 491.9,663.2 492.4,663.2 492.9,663.2 493.4,664.3 493.9,664.3 494.4,663.5 494.9,663.5 495.4,664.4 495.9,664.4 496.4,664.4 496.9,661.7 497.4,661.7 497.9,663.3 498.4,663.3 498.9,663.3 499.4,644.9 499.9,644.9 500.4,644.9 500.9,644.9 501.4,644.9 501.9,647.6 502.4,647.6 502.9,647.6 503.4,648.4 503.9,648.4 504.4,648.4 504.9,648.4 505.4,648.4 505.9,648.4 506.4,648.3 506.9,648.3 507.4,648.3 507.9,648.3 508.4,648.3 508.9,646.0 509.4,646.0 509.9,646.0 510.4,646.0 510.9,647.3 511.4,647.3 511.9,647.3 512.4,647.3 512.9,647.5 513.4,647.5 513.9,647.5 514.4,647.5 514.9,647.4 515.4,652.2 515.9,651.7 516.4,651.7 516.9,651.0 517.4,651.0 517.9,651.0 518.4,651.0 518.9,651.0 519.4,651.5 519.9,651.5 520.4,652.3 520.9,652.3 521.4,652.3 521.9,652.3 522.4,652.3 522.9,651.5 523.4,651.5 523.9,651.5 524.4,651.5 524.9,651.0 525.4,651.0 525.9,650.4 526.4,650.4 526.9,650.4 527.4,660.3 527.9,660.3 528.4,663.6 528.9,663.6 529.4,663.6 529.9,663.6 530.4,662.4 530.9,662.4 531.4,662.4 531.9,662.4 532.4,662.4 532.9,662.4 533.4,661.9 533.9,661.9 534.4,661.9 534.9,660.7 535.4,660.7 535.9,660.7 536.4,660.7 536.9,662.3 537.4,662.3 537.9,662.3 538.4,650.2 538.9,650.2 539.4,649.9 539.9,649.9 540.4,649.9 540.9,649.9 541.4,649.9 541.9,649.9 542.4,649.2 542.9,649.2 543.4,649.2 543.9,649.2 544.4,649.2 544.9,648.7 545.4,648.7 545.9,648.7 546.4,648.7 546.9,648.7 547.4,649.4 547.9,649.4 548.4,649.4 548.9,649.4 549.4,649.4 549.9,649.4 550.4,647.9 550.9,647.9 551.4,647.9 551.9,647.9 552.4,647.9 552.9,649.0 553.4,649.0 553.9,649.0 554.4,649.0 554.9,649.0 555.4,649.2 555.9,649.2 556.4,653.0 556.9,654.2 557.4,654.2 557.9,654.2 558.4,653.7 558.9,653.7 559.4,653.7 559.9,653.7 560.4,653.7 560.9,652.6 561.4,652.6 561.9,653.5 562.4,653.5 562.9,653.5 563.4,653.5 563.9,653.5 564.4,653.5 564.9,653.6 565.4,653.6 565.9,653.6 566.4,653.6 566.9,653.6 567.4,653.3 567.9,653.3 568.4,661.6 568.9,661.6 569.4,659.1 569.9,659.1 570.4,663.8 570.9,663.8 571.4,663.8 571.9,663.8 572.4,663.8 572.9,661.0 573.4,661.0 573.9,658.8 574.4,658.8 574.9,659.5 575.4,659.5 575.9,659.5 576.4,659.5 576.9,659.6 577.4,659.6 577.9,659.6 578.4,649.1 578.9,649.1 579.4,649.1 579.9,648.3 580.4,648.3 580.9,648.3 581.4,648.3 581.9,649.0 582.4,649.0 582.9,649.0 583.4,649.0 583.9,649.0 584.4,650.1 584.9,650.1 585.4,650.1 585.9,650.1 586.4,648.2 586.9,648.2 587.4,648.2 587.9,648.2 588.4,648.2 588.9,648.5 589.4,648.5 589.9,648.2 590.4,648.2 590.9,648.2 591.4,648.2 591.9,648.2 592.4,648.1 592.9,648.1 593.4,648.1 593.9,649.7 594.4,649.7 594.9,669.1 595.4,669.1 595.9,669.1 596.4,667.6 596.9,667.6 597.4,667.6 597.9,668.5 598.4,668.5 598.9,667.8 599.4,667.8 599.9,667.8 600.4,667.8 600.9,667.8 601.4,667.8 601.9,668.7 602.4,668.7 602.9,667.9 603.4,667.9 603.9,667.9 604.4,667.9 604.9,667.9 605.4,668.5 605.9,657.5 606.4,657.5 606.9,657.5 607.4,658.4 607.9,658.4 608.4,657.2 608.9,657.2 609.4,657.2 609.9,657.2 610.4,657.2 610.9,656.8 611.4,649.1 611.9,650.6 612.4,650.6 612.9,650.6 613.4,650.6 613.9,650.6 614.4,658.0 614.9,658.0 615.4,658.0 615.9,658.0 616.4,656.6 616.9,656.6 617.4,656.6 617.9,656.6 618.4,656.6 618.9,654.9 619.4,654.9 619.9,654.9 620.4,654.9 620.9,654.9 621.4,658.0 621.9,682.3 622.4,682.3 622.9,682.3 623.4,682.3 623.9,681.8 624.4,681.8 624.9,681.8 625.4,681.8 625.9,681.9 626.4,677.5 626.9,677.5 627.4,678.4 627.9,678.4 628.4,678.4 628.9,677.2 629.4,677.2 629.9,677.2 630.4,675.9 630.9,675.9 631.4,676.5 631.9,676.5 632.4,676.5 632.9,664.5 633.4,664.5 633.9,663.8 634.4,663.8 634.9,663.8 635.4,663.8 635.9,663.8 636.4,663.8 636.9,665.2 637.4,665.2 637.9,663.3 638.4,663.3 638.9,663.3 639.4,663.3 639.9,663.3 640.4,662.2 640.9,662.2 641.4,662.2 641.9,663.4 642.4,663.4 642.9,663.4 643.4,662.0 643.9,662.0 644.4,662.0 644.9,661.9 645.4,661.9 645.9,661.9 646.4,661.9 646.9,661.9 647.4,662.0 647.9,662.0 648.4,663.2 648.9,663.2 649.4,663.6 649.9,663.6 650.4,663.6 650.9,663.6 651.4,663.6 651.9,663.6 652.4,661.9 652.9,661.9 653.4,661.9 653.9,661.9 654.4,661.9 654.9,662.8 655.4,662.8 655.9,662.8 656.4,662.8 656.9,663.3 657.4,663.3 657.9,663.3 658.4,663.3 658.9,663.3 659.4,663.3 659.9,655.6 660.4,655.6 660.9,654.9 661.4,654.9 661.9,654.9 662.4,654.9 662.9,654.9 663.4,654.9 663.9,654.9 664.4,654.9 664.9,654.9 665.4,654.9 665.9,654.8 666.4,654.8 666.9,654.8 667.4,654.8 667.9,655.2 668.4,655.2 668.9,653.6 669.4,653.6 669.9,653.6 670.4,655.6 670.9,655.6 671.4,655.6 671.9,655.6 672.4,656.5 672.9,656.5 673.4,655.8 673.9,582.2 674.4,582.2 674.9,583.7 675.4,583.7 675.9,583.7 676.4,583.7 676.9,580.3 677.4,580.3 677.9,580.3 678.4,580.3 678.9,582.7 679.4,582.7 679.9,582.7 680.4,582.7 680.9,582.7 681.4,582.7 681.9,581.2 682.4,581.2 682.9,581.2 683.4,581.2 683.9,581.2 684.4,583.8 684.9,583.8 685.4,581.1 685.9,581.1 686.4,581.5 686.9,581.5 687.4,581.5 687.9,581.5 688.4,581.9 688.9,643.6 689.4,643.6 689.9,643.6 690.4,643.0 690.9,643.0 691.4,643.0 691.9,643.0 692.4,643.0 692.9,643.0 693.4,643.9 693.9,643.9 694.4,643.9 694.9,643.9 695.4,643.9 695.9,643.9 696.4,644.6 696.9,644.6 697.4,644.6 697.9,644.6 698.4,644.6 698.9,644.6 699.4,644.4 699.9,644.4 700.4,644.4 700.9,670.2 701.4,670.2 701.9,670.2 702.4,668.5 702.9,668.5 703.4,668.5 703.9,668.5 704.4,668.5 704.9,668.5 705.4,669.7 705.9,669.7 706.4,669.7 706.9,669.7 707.4,669.7 707.9,669.1 708.4,669.1 708.9,669.1 709.4,669.1 709.9,669.1 710.4,669.1 710.9,669.3 711.4,669.3 711.9,669.1 712.4,655.2 712.9,655.9 713.4,655.9 713.9,655.9 714.4,655.9 714.9,655.9 715.4,655.9 715.9,655.1 716.4,655.1 716.9,655.1 717.4,655.1 717.9,655.1 718.4,655.1 718.9,654.6 719.4,654.6 719.9,654.6 720.4,654.6 720.9,654.6 721.4,655.2 721.9,655.2 722.4,655.0 722.9,655.0 723.4,655.0 723.9,655.0 724.4,655.0 724.9,655.0 725.4,655.2 725.9,655.2 726.4,655.2 726.9,655.3 727.4,655.3 727.9,655.3 728.4,669.8 728.9,669.8 729.4,669.8 729.9,669.1 730.4,669.1 730.9,669.7 731.4,669.7 731.9,669.7 732.4,669.7 732.9,671.6 733.4,671.6 733.9,671.6 734.4,671.6 734.9,671.6 735.4,669.4 735.9,669.4 736.4,669.6 736.9,669.6 737.4,670.2 737.9,670.2 738.4,670.2 738.9,670.2 739.4,669.6 739.9,669.6 740.4,669.6 740.9,676.6 741.4,676.6 741.9,679.2 742.4,679.2 742.9,677.1 743.4,677.1 743.9,677.1 744.4,680.4 744.9,680.4 745.4,680.4 745.9,680.9 746.4,680.9 746.9,680.9 747.4,680.9 747.9,680.1 748.4,680.1 748.9,680.1 749.4,681.0 749.9,681.0 750.4,681.0 750.9,681.0 751.4,681.0 751.9,681.0 752.4,681.0 752.9,681.0 753.4,681.0 753.9,681.0 754.4,679.5 754.9,679.5 755.4,680.4 755.9,680.4 756.4,682.6 756.9,682.6 757.4,682.6 757.9,682.7 758.4,682.7 758.9,682.7 759.4,682.7 759.9,682.7 760.4,682.7 760.9,682.7 761.4,682.7 761.9,682.7 762.4,682.7 762.9,682.6 763.4,682.6 763.9,681.7 764.4,681.7 764.9,681.7 765.4,684.9 765.9,684.9 766.4,659.6 766.9,659.6 767.4,659.6 767.9,659.6 768.4,659.6 768.9,659.6 769.4,659.1 769.9,659.1 770.4,658.5 770.9,658.5 771.4,658.5 771.9,656.6 772.4,656.6 772.9,656.6 773.4,658.8 773.9,658.8 774.4,658.8 774.9,658.8 775.4,659.7 775.9,659.7 776.4,659.7 776.9,658.8 777.4,658.8 777.9,658.8 778.4,658.8 778.9,658.8 779.4,658.8 779.9,658.2 780.4,658.2 780.9,658.2 781.4,658.2 781.9,658.2 782.4,658.7 782.9,680.1 783.4,680.1 783.9,680.1 784.4,680.1 784.9,680.0 785.4,680.0 785.9,680.0 786.4,679.9 786.9,679.9 787.4,679.9 787.9,679.9 788.4,680.1 788.9,680.1 789.4,680.1 789.9,680.1 790.4,679.5 790.9,679.5 791.4,679.5 791.9,679.5 792.4,681.0 792.9,681.0 793.4,658.4 793.9,658.2 794.4,658.2 794.9,658.2 795.4,658.2 795.9,658.2 796.4,658.2 796.9,658.2 797.4,658.2 797.9,658.3 798.4,658.3 798.9,658.3 799.4,657.0 799.9,657.0 800.4,657.0 800.9,657.0 801.4,657.0 801.9,657.0 802.4,656.9 802.9,656.9 803.4,656.9 803.9,656.9 804.4,656.9 804.9,658.2 805.4,658.2 805.9,658.2 806.4,642.6 806.9,642.6 807.4,642.6 807.9,642.4 808.4,642.4 808.9,642.4 809.4,641.1 809.9,641.1 810.4,641.1 810.9,641.1 811.4,642.5 811.9,642.5 812.4,642.5 812.9,642.3 813.4,642.3 813.9,642.7 814.4,642.7 814.9,642.7 815.4,642.7 815.9,641.7 816.4,641.7 816.9,641.7 817.4,641.1 817.9,641.1 818.4,641.1 818.9,642.2 819.4,642.2 819.9,642.2 820.4,642.8 820.9,642.8 821.4,642.8 821.9,642.8 822.4,642.8 822.9,641.4 823.4,641.4 823.9,641.4 824.4,642.6 824.9,642.6 825.4,642.6 825.9,642.6 826.4,642.2 826.9,642.2 827.4,642.5 827.9,642.5 828.4,642.5 828.9,642.5 829.4,642.5 829.9,642.7 830.4,642.7 830.9,642.7 831.4,642.7 831.9,642.7 832.4,642.7 832.9,641.7 833.4,641.7 833.9,641.7 834.4,641.7 834.9,641.7 835.4,641.4 835.9,641.4 836.4,642.3 836.9,642.3 837.4,641.0 837.9,641.0 838.4,641.0 838.9,641.0 839.4,641.0 839.9,641.7 840.4,641.7 840.9,641.7 841.4,641.7 841.9,641.7 842.4,642.2 842.9,642.2 843.4,642.2 843.9,642.0 844.4,642.0 844.9,642.0 845.4,642.0 845.9,642.0 846.4,629.6 846.9,629.6 847.4,629.6 847.9,628.9 848.4,628.9 848.9,628.9 849.4,628.9 849.9,628.9 850.4,628.9 850.9,628.9 851.4,630.4 851.9,630.4 852.4,630.2 852.9,630.2 853.4,630.2 853.9,630.1 854.4,630.1 854.9,630.1 855.4,630.1 855.9,630.1 856.4,629.9 856.9,629.9 857.4,629.9 857.9,629.9 858.4,629.2 858.9,629.2 859.4,629.2 859.9,632.2 860.4,632.2 860.9,632.2 861.4,632.2 861.9,632.2 862.4,632.2 862.9,646.1 863.4,646.1 863.9,646.1 864.4,646.1 864.9,646.1 865.4,646.6 865.9,646.6 866.4,646.6 866.9,646.6 867.4,646.6 867.9,646.6 868.4,647.7 868.9,647.7 869.4,647.7 869.9,647.7 870.4,646.7 870.9,646.7 871.4,646.7 871.9,646.7 872.4,646.7 872.9,647.6 873.4,647.6 873.9,647.6 874.4,647.6 874.9,647.6 875.4,647.6 875.9,658.9 876.4,658.9 876.9,658.9 877.4,658.9 877.9,658.9 878.4,661.9 878.9,661.9 879.4,660.2 879.9,660.2 880.4,660.2 880.9,660.5 881.4,660.5 881.9,660.5 882.4,660.5 882.9,659.6 883.4,659.6 883.9,659.6 884.4,659.6 884.9,659.6 885.4,657.9 885.9,657.9 886.4,657.9 886.9,657.9 887.4,659.0 887.9,659.0 888.4,659.8 888.9,659.8 889.4,659.8 889.9,659.5 890.4,659.5 890.9,660.3 891.4,660.3 891.9,660.3 892.4,660.3 892.9,659.6 893.4,659.6 893.9,659.5 894.4,659.5 894.9,659.5 895.4,660.1 895.9,660.1 896.4,660.1 896.9,660.1 897.4,659.8 897.9,659.8 898.4,659.8 898.9,660.1 899.4,660.1 899.9,660.0 900.4,660.0 900.9,659.2 901.4,659.2 901.9,660.4 902.4,660.4 902.9,660.4 903.4,659.4 903.9,659.4 904.4,659.4 904.9,659.4 905.4,659.2 905.9,659.2 906.4,661.5 906.9,661.5 907.4,661.5 907.9,661.5 908.4,661.5 908.9,661.5 909.4,659.0 909.9,659.0 910.4,660.7 910.9,660.7 911.4,660.7 911.9,660.7 912.4,660.7 912.9,660.2 913.4,660.2 913.9,660.2 914.4,660.2 914.9,660.2 915.4,686.7 915.9,686.1 916.4,686.1 916.9,686.1 917.4,686.1 917.9,686.1 918.4,686.1 918.9,685.7 919.4,685.7 919.9,685.7 920.4,686.9 920.9,686.9 921.4,686.9 921.9,686.9 922.4,685.7 922.9,685.7 923.4,686.9 923.9,686.9 924.4,686.5 924.9,686.5 925.4,686.5 925.9,686.5 926.4,675.0 926.9,675.1 927.4,675.1 927.9,675.1 928.4,675.1 928.9,675.1 929.4,675.1 929.9,675.3 930.4,675.3 930.9,675.3 931.4,675.3 931.9,675.3 932.4,675.3 932.9,675.1 933.4,675.1 933.9,675.1 934.4,675.1 934.9,675.1 935.4,673.8 935.9,673.8 936.4,673.8 936.9,675.2 937.4,675.2 937.9,675.2 938.4,674.0 938.9,674.0 939.4,674.0 939.9,668.5 940.4,668.5 940.9,668.5 941.4,668.5 941.9,668.5 942.4,668.5 942.9,669.6 943.4,669.6 943.9,669.6 944.4,669.6 944.9,669.6 945.4,669.6 945.9,669.5 946.4,669.5 946.9,669.5 947.4,665.6 947.9,665.6 948.4,665.6 948.9,666.0 949.4,666.0 949.9,666.0 950.4,666.0 950.9,668.9 951.4,668.8 951.9,668.8 952.4,668.8 952.9,669.4 953.4,643.0 953.9,643.0 954.4,643.0 954.9,643.0 955.4,642.0 955.9,642.0 956.4,642.0 956.9,642.6 957.4,642.6 957.9,642.6 958.4,642.6 958.9,643.6 959.4,643.6 959.9,643.3 960.4,643.3 960.9,643.3 961.4,643.3 961.9,643.3 962.4,643.3 962.9,641.4 963.4,641.4 963.9,641.4 964.4,641.4 964.9,642.8 965.4,642.8 965.9,642.8 966.4,642.4 966.9,642.4 967.4,642.4 967.9,643.1 968.4,643.1 968.9,643.1 969.4,645.3 969.9,645.3 970.4,645.4 970.9,645.4 971.4,646.9 971.9,646.9 972.4,646.9 972.9,646.9 973.4,646.9 973.9,646.9 974.4,645.9 974.9,645.9 975.4,645.9 975.9,645.9 976.4,645.9 976.9,645.9 977.4,645.3 977.9,645.3 978.4,645.3 978.9,645.3 979.4,644.3 979.9,644.3 980.4,644.3 980.9,644.3 981.4,644.3 981.9,645.1 982.4,645.1 982.9,679.2 983.4,679.2 983.9,679.2 984.4,679.2 984.9,678.9 985.4,678.9 985.9,678.9 986.4,679.7 986.9,679.7 987.4,679.7 987.9,679.7 988.4,679.7 988.9,679.7 989.4,677.1 989.9,677.1 990.4,677.1 990.9,679.2 991.4,679.2 991.9,678.3 992.4,678.3 992.9,678.3 993.4,678.3 993.9,678.3 994.4,670.0 994.9,670.0 995.4,670.0 995.9,670.0 996.4,670.0 996.9,670.2 997.4,670.2 997.9,670.2 998.4,670.2 998.9,670.2 999.4,670.2 999.9,672.5 1000.4,672.5 1000.9,672.5 1001.4,672.5 1001.9,672.5 1002.4,669.8 1002.9,669.8 1003.4,669.8 1003.9,669.8 1004.4,669.8 1004.9,670.5 1005.4,670.5 1005.9,670.5 1006.4,670.9 1006.9,670.9 1007.4,670.9 1007.9,670.9 1008.4,668.4 1008.9,668.4 1009.4,668.4 1009.9,692.2 1010.4,692.7 1010.9,692.7 1011.4,692.7 1011.9,692.7 1012.4,692.7 1012.9,692.7 1013.4,694.8 1013.9,694.8 1014.4,695.2 1014.9,695.2 1015.4,695.2 1015.9,695.2 1016.4,695.2 1016.9,694.7 1017.4,694.7 1017.9,693.3 1018.4,693.3 1018.9,693.3 1019.4,693.3 1019.9,693.3 1020.4,693.3 1020.9,683.8 1021.4,683.8 1021.9,684.1 1022.4,684.1 1022.9,684.1 1023.4,684.1 1023.9,684.1 1024.4,684.3 1024.9,684.3 1025.4,684.3 1025.9,684.3 1026.4,684.3 1026.9,684.3 1027.4,684.9 1027.9,684.9 1028.4,684.9 1028.9,683.8 1029.4,683.8 1029.9,683.8 1030.4,684.2 1030.9,684.2 1031.4,684.2 1031.9,684.2 1032.4,684.2 1032.9,684.2 1033.4,682.9 1033.9,682.9 1034.4,682.9 1034.9,682.9 1035.4,682.9 1035.9,682.9 1036.4,684.2 1036.9,688.6 1037.4,688.6 1037.9,688.6 1038.4,688.6 1038.9,688.6 1039.4,689.5 1039.9,689.5 1040.4,689.5 1040.9,689.5 1041.4,689.5 1041.9,689.5 1042.4,689.8 1042.9,689.8 1043.4,689.8 1043.9,689.8 1044.4,689.8 1044.9,688.3 1045.4,688.3 1045.9,688.3 1046.4,688.3 1046.9,688.3 1047.4,688.3 1047.9,689.1 1048.4,689.1 1048.9,689.1 1049.4,689.1 1049.9,701.2 1050.4,701.2 1050.9,700.5 1051.4,700.5 1051.9,700.5 1052.4,700.5 1052.9,700.5 1053.4,700.5 1053.9,701.6 1054.4,701.6 1054.9,701.3 1055.4,701.3 1055.9,701.3 1056.4,701.3 1056.9,701.3 1057.4,700.4 1057.9,700.4 1058.4,700.4 1058.9,701.5 1059.4,701.5 1059.9,701.5 1060.4,701.5 1060.9,702.0 1061.4,702.0 1061.9,702.0 1062.4,701.3 1062.9,701.3 1063.4,701.8 1063.9,701.8 1064.4,701.8 1064.9,701.8 1065.4,703.0 1065.9,703.0 1066.4,703.0 1066.9,702.4 1067.4,702.4 1067.9,702.4 1068.4,702.4 1068.9,702.4 1069.4,701.6 1069.9,701.6 1070.4,701.6 1070.9,701.6 1071.4,701.6 1071.9,701.6 1072.4,701.5 1072.9,701.5 1073.4,701.5 1073.9,701.5 1074.4,701.5 1074.9,703.0 1075.4,703.0 1075.9,703.0 1076.4,704.2 1076.9,704.2 1077.4,702.1 1077.9,702.1 1078.4,702.1 1078.9,703.4 1079.4,703.4 1079.9,703.4 1080.4,703.4 1080.9,703.4 1081.4,703.2 1081.9,703.2 1082.4,703.2 1082.9,704.3 1083.4,704.3 1083.9,704.3 1084.4,703.8 1084.9,703.8 1085.4,703.8 1085.9,704.1 1086.4,704.1 1086.9,704.1 1087.4,684.3 1087.9,683.4 1088.4,683.4 1088.9,681.7 1089.4,681.7 1089.9,681.7 1090.4,681.7 1090.9,681.7 1091.4,681.7 1091.9,684.3 1092.4,684.3 1092.9,684.3 1093.4,684.3 1093.9,684.3 1094.4,685.2 1094.9,685.2 1095.4,685.2 1095.9,685.2 1096.4,685.2 1096.9,684.1 1097.4,684.1 1097.9,684.1 1098.4,684.1 1098.9,684.1 1099.4,684.1 1099.9,684.4 1100.4,684.4 1100.9,683.2 1101.4,683.2 1101.9,683.2 1102.4,683.2 1102.9,690.0 1103.4,690.0 1103.9,692.6 1104.4,692.6 1104.9,692.6 1105.4,692.6 1105.9,692.6 1106.4,692.6 1106.9,691.2 1107.4,691.2 1107.9,691.2 1108.4,691.2 1108.9,691.5 1109.4,691.5 1109.9,691.5 1110.4,691.5 1110.9,691.5 1111.4,691.4 1111.9,691.4 1112.4,691.4 1112.9,691.4 1113.4,691.4 1113.9,691.4 1114.4,682.4 1114.9,681.5 1115.4,681.5 1115.9,681.5 1116.4,681.5 1116.9,681.5 1117.4,682.3 1117.9,682.3 1118.4,681.4 1118.9,681.4 1119.4,681.4 1119.9,682.2 1120.4,682.2 1120.9,682.2 1121.4,682.4 1121.9,682.4 1122.4,682.6 1122.9,682.6 1123.4,682.6 1123.9,681.4 1124.4,681.4 1124.9,681.4 1125.4,680.9 1125.9,680.9 1126.4,680.9 1126.9,680.9 1127.4,680.9 1127.9,681.9 1128.4,681.9 1128.9,681.9 1129.4,681.4 1129.9,681.4 1130.4,699.0 1130.9,699.0 1131.4,699.0 1131.9,699.0 1132.4,699.4 1132.9,699.4 1133.4,699.4 1133.9,699.4 1134.4,700.2 1134.9,700.2 1135.4,699.8 1135.9,699.8 1136.4,699.9 1136.9,699.9 1137.4,699.9 1137.9,699.9 1138.4,699.9 1138.9,700.0 1139.4,700.0 1139.9,700.0 1140.4,700.0 1140.9,698.5 1141.4,669.9 1141.9,668.5 1142.4,668.5 1142.9,668.5 1143.4,668.5 1143.9,668.5 1144.4,668.5 1144.9,671.4 1145.4,671.4 1145.9,671.4 1146.4,671.4 1146.9,671.4 1147.4,670.6 1147.9,670.6 1148.4,670.6 1148.9,671.2 1149.4,671.2 1149.9,671.2 1150.4,671.2 1150.9,671.2 1151.4,668.7 1151.9,668.7 1152.4,668.7 1152.9,671.9 1153.4,671.9 1153.9,671.9 1154.4,671.9 1154.9,668.1 1155.4,668.1 1155.9,670.7 1156.4,670.7 1156.9,670.7 1157.4,672.0 1157.9,672.0 1158.4,670.8 1158.9,670.8 1159.4,670.8 1159.9,669.7 1160.4,669.7 1160.9,669.7 1161.4,669.1 1161.9,669.1 1162.4,669.1 1162.9,671.1 1163.4,671.1 1163.9,670.7 1164.4,670.7 1164.9,670.7 1165.4,670.7 1165.9,671.0 1166.4,671.0 1166.9,671.1 1167.4,671.1 1167.9,671.1 1168.4,671.1 1168.9,671.1 1169.4,671.1 1169.9,694.9 1170.4,694.9 1170.9,694.9 1171.4,696.6 1171.9,696.6 1172.4,696.6 1172.9,696.6 1173.4,696.6 1173.9,696.6 1174.4,694.0 1174.9,694.0 1175.4,694.6 1175.9,694.6 1176.4,694.6 1176.9,694.4 1177.4,694.4 1177.9,694.4 1178.4,694.4 1178.9,694.4 1179.4,694.1 1179.9,694.1 1180.4,694.1 1180.9,694.1 1181.4,694.1 1181.9,694.1 1182.4,691.9 1182.9,691.9 1183.4,691.9 1183.9,690.4 1184.4,690.4 1184.9,690.4 1185.4,690.4 1185.9,691.8 1186.4,691.8 1186.9,692.7 1187.4,692.7 1187.9,692.7 1188.4,692.7 1188.9,692.7 1189.4,692.7 1189.9,693.4 1190.4,693.4 1190.9,693.4 1191.4,693.4 1191.9,690.1 1192.4,690.1 1192.9,690.1 1193.4,690.1 1193.9,693.0 1194.4,690.2 1194.9,690.2 1195.4,690.2 1195.9,690.2 1196.4,690.2 1196.9,689.7 1197.4,689.7 1197.9,689.9 1198.4,689.9 1198.9,689.9 1199.4,689.9 1199.9,689.9 1200.4,689.9 1200.9,690.1 1201.4,690.1 1201.9,690.1 1202.4,690.1 1202.9,688.8 1203.4,688.8 1203.9,688.8 1204.4,690.6 1204.9,690.6 1205.4,694.6 1205.9,694.6 1206.4,694.6 1206.9,694.6 1207.4,693.1 1207.9,693.1 1208.4,693.1 1208.9,693.1 1209.4,694.0 1209.9,694.0 1210.4,694.0 1210.9,707.2 1211.4,707.2 1211.9,707.2 1212.4,705.9 1212.9,705.9 1213.4,705.9 1213.9,707.5 1214.4,707.5 1214.9,707.5 1215.4,707.5 1215.9,707.0 1216.4,707.0 1216.9,707.0 1217.4,706.8 1217.9,706.8 1218.4,706.8 1218.9,706.8 1219.4,706.8 1219.9,706.3 1220.4,706.3 1220.9,707.3 1221.4,704.0 1221.9,704.0 1222.4,704.0 1222.9,704.0 1223.4,704.0 1223.9,703.3 1224.4,703.3 1224.9,703.3 1225.4,703.3 1225.9,703.3 1226.4,703.3 1226.9,703.3 1227.4,703.3 1227.9,703.3 1228.4,703.3 1228.9,703.1 1229.4,703.1 1229.9,703.1 1230.4,703.1 1230.9,703.1 1231.4,703.8 1231.9,703.8 1232.4,703.8 1232.9,701.0 1233.4,701.0 1233.9,701.0 1234.4,695.0 1234.9,695.0 1235.4,695.0 1235.9,697.0 1236.4,697.0 1236.9,697.0 1237.4,697.0 1237.9,697.0 1238.4,697.0 1238.9,697.4 1239.4,697.4 1239.9,697.4 1240.4,697.4 1240.9,697.4 1241.4,697.4 1241.9,696.9 1242.4,696.9 1242.9,696.9 1243.4,696.9 1243.9,696.9 1244.4,696.9 1244.9,697.3 1245.4,697.3 1245.9,697.3 1246.4,697.3 1246.9,697.3 1247.4,697.3 1247.9,685.3 1248.4,685.3 1248.9,685.3 1249.4,685.3 1249.9,685.3 1250.4,685.3 1250.9,684.9 1251.4,684.9 1251.9,684.9 1252.4,684.9 1252.9,685.8 1253.4,685.8 1253.9,685.8 1254.4,685.8 1254.9,684.1 1255.4,684.1 1255.9,684.1 1256.4,684.1 1256.9,684.1 1257.4,684.8 1257.9,684.8 1258.4,684.8 1258.9,684.8 1259.4,686.9 1259.9,686.9 1260.4,686.9 1260.9,684.9 1261.4,684.9 1261.9,685.5 1262.4,685.5 1262.9,685.5 1263.4,685.5 1263.9,700.9 1264.4,700.9 1264.9,700.3 1265.4,700.3 1265.9,700.3 1266.4,699.6 1266.9,699.6 1267.4,699.6 1267.9,697.4 1268.4,697.4 1268.9,697.4 1269.4,698.7 1269.9,698.7 1270.4,698.7 1270.9,697.4 1271.4,697.4 1271.9,697.4 1272.4,697.4 1272.9,697.5 1273.4,697.5 1273.9,697.4 1274.4,697.4 1274.9,697.4 1275.4,697.4 1275.9,697.4 1276.4,697.3 1276.9,697.3 1277.4,698.2 1277.9,698.2 1278.4,698.2 1278.9,698.2 1279.4,698.2 1279.9,698.6 1280.4,698.6 1280.9,698.6 1281.4,697.4 1281.9,697.4 1282.4,697.4 1282.9,697.4 1283.4,697.4 1283.9,697.5 1284.4,697.5 1284.9,697.8 1285.4,697.8 1285.9,695.1 1286.4,695.1 1286.9,695.4 1287.4,695.4 1287.9,695.4 1288.4,695.4 1288.9,695.4 1289.4,694.8 1289.9,694.8 1290.4,694.9 1290.9,694.9 1291.4,694.9 1291.9,695.5 1292.4,695.5 1292.9,696.0 1293.4,696.0 1293.9,696.0 1294.4,696.0 1294.9,696.0 1295.4,696.0 1295.9,695.6 1296.4,695.6 1296.9,695.1 1297.4,695.1 1297.9,695.1 1298.4,695.1 1298.9,694.9 1299.4,694.9 1299.9,694.9 1300.4,694.9 1300.9,695.4 1301.4,695.4 1301.9,695.4 1302.4,695.4 1302.9,695.4 1303.4,694.4 1303.4,776.9 1302.9,777.0 1302.4,777.0 1301.9,777.0 1301.4,776.8 1300.9,776.8 1300.4,776.5 1299.9,776.5 1299.4,776.5 1298.9,775.7 1298.4,775.7 1297.9,775.7 1297.4,775.7 1296.9,775.7 1296.4,776.8 1295.9,776.8 1295.4,776.8 1294.9,776.8 1294.4,776.4 1293.9,776.4 1293.4,776.4 1292.9,776.4 1292.4,776.4 1291.9,776.4 1291.4,775.0 1290.9,775.0 1290.4,775.0 1289.9,775.0 1289.4,773.5 1288.9,773.5 1288.4,773.5 1287.9,773.5 1287.4,773.5 1286.9,773.2 1286.4,773.2 1285.9,773.2 1285.4,773.2 1284.9,777.0 1284.4,777.0 1283.9,777.0 1283.4,773.2 1282.9,773.2 1282.4,776.0 1281.9,776.0 1281.4,775.5 1280.9,775.5 1280.4,775.5 1279.9,775.5 1279.4,775.5 1278.9,775.5 1278.4,776.3 1277.9,776.3 1277.4,776.3 1276.9,776.3 1276.4,776.3 1275.9,775.5 1275.4,775.5 1274.9,775.5 1274.4,775.5 1273.9,775.5 1273.4,775.5 1272.9,775.1 1272.4,775.1 1271.9,775.7 1271.4,775.7 1270.9,775.7 1270.4,775.7 1269.9,775.7 1269.4,775.7 1268.9,776.8 1268.4,776.8 1267.9,776.3 1267.4,776.3 1266.9,776.2 1266.4,776.2 1265.9,776.2 1265.4,774.2 1264.9,774.2 1264.4,776.7 1263.9,776.7 1263.4,777.4 1262.9,777.4 1262.4,777.4 1261.9,777.4 1261.4,777.8 1260.9,777.8 1260.4,777.1 1259.9,777.1 1259.4,777.1 1258.9,777.1 1258.4,777.2 1257.9,777.2 1257.4,777.2 1256.9,777.2 1256.4,779.9 1255.9,779.9 1255.4,778.2 1254.9,778.2 1254.4,777.9 1253.9,777.9 1253.4,777.9 1252.9,777.9 1252.4,777.9 1251.9,777.3 1251.4,777.3 1250.9,777.3 1250.4,777.3 1249.9,777.9 1249.4,777.9 1248.9,777.9 1248.4,777.9 1247.9,779.3 1247.4,779.3 1246.9,779.3 1246.4,779.3 1245.9,779.3 1245.4,779.3 1244.9,779.0 1244.4,779.0 1243.9,779.0 1243.4,778.2 1242.9,778.2 1242.4,778.2 1241.9,778.2 1241.4,778.2 1240.9,778.2 1240.4,777.4 1239.9,777.4 1239.4,777.4 1238.9,777.4 1238.4,778.9 1237.9,778.9 1237.4,778.9 1236.9,778.9 1236.4,778.9 1235.9,778.9 1235.4,777.7 1234.9,777.7 1234.4,775.5 1233.9,775.1 1233.4,775.1 1232.9,775.1 1232.4,775.1 1231.9,775.1 1231.4,775.1 1230.9,777.0 1230.4,777.0 1229.9,777.0 1229.4,777.0 1228.9,777.0 1228.4,776.7 1227.9,776.7 1227.4,777.1 1226.9,777.1 1226.4,777.1 1225.9,775.7 1225.4,775.7 1224.9,775.7 1224.4,775.7 1223.9,776.3 1223.4,776.3 1222.9,776.3 1222.4,776.3 1221.9,776.3 1221.4,774.5 1220.9,774.8 1220.4,774.8 1219.9,773.8 1219.4,773.8 1218.9,775.2 1218.4,775.2 1217.9,775.2 1217.4,775.2 1216.9,775.2 1216.4,775.2 1215.9,776.4 1215.4,776.4 1214.9,776.4 1214.4,776.4 1213.9,773.7 1213.4,773.7 1212.9,773.7 1212.4,773.7 1211.9,773.7 1211.4,773.7 1210.9,773.4 1210.4,773.4 1209.9,773.4 1209.4,774.5 1208.9,774.5 1208.4,774.5 1207.9,774.2 1207.4,774.2 1206.9,763.1 1206.4,763.1 1205.9,763.1 1205.4,763.1 1204.9,764.8 1204.4,764.8 1203.9,764.8 1203.4,764.8 1202.9,764.8 1202.4,764.8 1201.9,761.2 1201.4,761.2 1200.9,761.2 1200.4,762.9 1199.9,762.9 1199.4,762.9 1198.9,762.9 1198.4,761.7 1197.9,761.7 1197.4,761.7 1196.9,770.8 1196.4,770.8 1195.9,770.8 1195.4,767.3 1194.9,767.3 1194.4,767.3 1193.9,767.3 1193.4,767.3 1192.9,767.7 1192.4,767.7 1191.9,768.2 1191.4,768.2 1190.9,768.2 1190.4,768.2 1189.9,768.2 1189.4,768.2 1188.9,769.0 1188.4,769.0 1187.9,769.0 1187.4,769.0 1186.9,769.0 1186.4,769.0 1185.9,771.0 1185.4,771.0 1184.9,771.0 1184.4,769.7 1183.9,769.7 1183.4,769.7 1182.9,769.7 1182.4,770.3 1181.9,770.3 1181.4,769.9 1180.9,769.9 1180.4,770.9 1179.9,770.9 1179.4,770.9 1178.9,770.2 1178.4,770.2 1177.9,770.2 1177.4,770.8 1176.9,770.8 1176.4,770.8 1175.9,770.8 1175.4,770.4 1174.9,770.4 1174.4,770.4 1173.9,770.4 1173.4,770.8 1172.9,770.8 1172.4,770.8 1171.9,770.8 1171.4,770.8 1170.9,770.8 1170.4,770.1 1169.9,770.1 1169.4,770.1 1168.9,771.6 1168.4,773.8 1167.9,773.8 1167.4,773.2 1166.9,773.2 1166.4,773.2 1165.9,773.2 1165.4,772.8 1164.9,772.8 1164.4,772.8 1163.9,773.4 1163.4,773.4 1162.9,773.4 1162.4,773.4 1161.9,773.7 1161.4,773.7 1160.9,773.7 1160.4,773.7 1159.9,772.9 1159.4,772.9 1158.9,773.7 1158.4,773.7 1157.9,773.0 1157.4,773.0 1156.9,772.8 1156.4,772.8 1155.9,771.8 1155.4,771.8 1154.9,771.8 1154.4,771.8 1153.9,771.8 1153.4,771.8 1152.9,771.6 1152.4,771.6 1151.9,771.6 1151.4,771.6 1150.9,773.8 1150.4,773.8 1149.9,774.1 1149.4,774.1 1148.9,774.1 1148.4,774.1 1147.9,774.0 1147.4,774.0 1146.9,774.0 1146.4,774.0 1145.9,774.0 1145.4,774.0 1144.9,775.7 1144.4,775.7 1143.9,775.7 1143.4,775.7 1142.9,775.7 1142.4,776.7 1141.9,776.7 1141.4,776.7 1140.9,776.7 1140.4,774.1 1139.9,774.1 1139.4,774.1 1138.9,774.8 1138.4,774.8 1137.9,774.8 1137.4,774.8 1136.9,774.8 1136.4,775.0 1135.9,775.0 1135.4,775.0 1134.9,775.0 1134.4,774.2 1133.9,774.2 1133.4,774.2 1132.9,774.2 1132.4,774.2 1131.9,774.2 1131.4,774.2 1130.9,774.2 1130.4,775.2 1129.9,775.2 1129.4,775.2 1128.9,775.2 1128.4,775.1 1127.9,775.1 1127.4,775.1 1126.9,775.7 1126.4,775.7 1125.9,775.7 1125.4,774.2 1124.9,774.2 1124.4,774.2 1123.9,774.2 1123.4,774.2 1122.9,774.0 1122.4,774.0 1121.9,774.0 1121.4,774.1 1120.9,774.1 1120.4,774.1 1119.9,775.1 1119.4,775.1 1118.9,775.1 1118.4,775.1 1117.9,775.1 1117.4,775.1 1116.9,775.3 1116.4,775.3 1115.9,775.3 1115.4,775.3 1114.9,775.3 1114.4,775.3 1113.9,774.7 1113.4,774.7 1112.9,774.7 1112.4,774.7 1111.9,774.4 1111.4,774.4 1110.9,774.4 1110.4,774.4 1109.9,774.4 1109.4,775.8 1108.9,775.8 1108.4,775.8 1107.9,775.8 1107.4,775.8 1106.9,775.8 1106.4,775.6 1105.9,775.6 1105.4,775.6 1104.9,775.6 1104.4,775.6 1103.9,775.0 1103.4,775.0 1102.9,775.0 1102.4,771.8 1101.9,771.8 1101.4,771.8 1100.9,773.2 1100.4,773.2 1099.9,770.4 1099.4,770.4 1098.9,770.4 1098.4,770.4 1097.9,770.4 1097.4,770.4 1096.9,772.1 1096.4,772.1 1095.9,772.1 1095.4,772.1 1094.9,772.1 1094.4,773.0 1093.9,773.0 1093.4,773.0 1092.9,773.0 1092.4,773.0 1091.9,770.9 1091.4,770.9 1090.9,770.9 1090.4,770.9 1089.9,770.9 1089.4,773.3 1088.9,773.3 1088.4,773.3 1087.9,773.3 1087.4,773.3 1086.9,773.3 1086.4,771.0 1085.9,771.0 1085.4,771.0 1084.9,771.0 1084.4,771.0 1083.9,771.0 1083.4,773.8 1082.9,773.8 1082.4,773.8 1081.9,773.8 1081.4,770.8 1080.9,770.8 1080.4,771.0 1079.9,771.0 1079.4,771.0 1078.9,771.0 1078.4,773.7 1077.9,773.7 1077.4,773.7 1076.9,773.7 1076.4,770.2 1075.9,770.2 1075.4,770.2 1074.9,770.2 1074.4,770.2 1073.9,774.6 1073.4,774.6 1072.9,774.6 1072.4,772.2 1071.9,772.2 1071.4,772.2 1070.9,772.2 1070.4,772.7 1069.9,772.7 1069.4,774.2 1068.9,774.2 1068.4,774.2 1067.9,774.3 1067.4,774.3 1066.9,774.3 1066.4,774.3 1065.9,774.3 1065.4,772.2 1064.9,772.2 1064.4,774.2 1063.9,774.2 1063.4,774.2 1062.9,774.2 1062.4,774.2 1061.9,771.5 1061.4,771.5 1060.9,771.5 1060.4,773.8 1059.9,773.8 1059.4,773.8 1058.9,773.8 1058.4,774.7 1057.9,774.7 1057.4,774.7 1056.9,774.7 1056.4,774.7 1055.9,773.3 1055.4,773.3 1054.9,774.0 1054.4,774.0 1053.9,774.0 1053.4,774.0 1052.9,774.0 1052.4,774.0 1051.9,774.5 1051.4,774.5 1050.9,774.5 1050.4,774.5 1049.9,774.5 1049.4,773.3 1048.9,773.3 1048.4,773.3 1047.9,773.3 1047.4,774.9 1046.9,765.6 1046.4,764.7 1045.9,764.7 1045.4,765.0 1044.9,765.0 1044.4,765.0 1043.9,765.0 1043.4,764.7 1042.9,764.7 1042.4,764.7 1041.9,766.0 1041.4,766.0 1040.9,766.0 1040.4,766.0 1039.9,766.0 1039.4,765.7 1038.9,765.7 1038.4,765.7 1037.9,764.1 1037.4,764.1 1036.9,764.1 1036.4,764.1 1035.9,764.1 1035.4,770.6 1034.9,770.6 1034.4,770.6 1033.9,770.6 1033.4,773.0 1032.9,773.0 1032.4,773.0 1031.9,773.0 1031.4,773.0 1030.9,773.0 1030.4,771.6 1029.9,767.9 1029.4,768.1 1028.9,768.1 1028.4,768.1 1027.9,768.1 1027.4,768.1 1026.9,769.7 1026.4,769.7 1025.9,769.7 1025.4,769.7 1024.9,769.5 1024.4,769.5 1023.9,769.7 1023.4,769.7 1022.9,769.7 1022.4,769.7 1021.9,769.7 1021.4,769.7 1020.9,769.7 1020.4,769.7 1019.9,768.1 1019.4,768.1 1018.9,768.1 1018.4,768.1 1017.9,768.3 1017.4,768.3 1016.9,768.3 1016.4,768.3 1015.9,769.7 1015.4,769.7 1014.9,768.8 1014.4,768.8 1013.9,769.3 1013.4,769.3 1012.9,769.3 1012.4,769.3 1011.9,768.0 1011.4,768.0 1010.9,769.0 1010.4,769.0 1009.9,769.0 1009.4,769.0 1008.9,771.7 1008.4,772.6 1007.9,772.6 1007.4,772.6 1006.9,771.7 1006.4,771.7 1005.9,771.7 1005.4,771.7 1004.9,771.7 1004.4,771.3 1003.9,771.3 1003.4,771.4 1002.9,771.4 1002.4,770.7 1001.9,770.7 1001.4,770.7 1000.9,774.6 1000.4,774.6 999.9,774.6 999.4,774.6 998.9,774.6 998.4,771.3 997.9,771.3 997.4,771.3 996.9,771.3 996.4,774.0 995.9,774.0 995.4,774.0 994.9,774.0 994.4,774.0 993.9,774.0 993.4,773.9 992.9,773.9 992.4,773.9 991.9,773.5 991.4,773.5 990.9,773.5 990.4,775.1 989.9,775.1 989.4,775.1 988.9,774.2 988.4,774.2 987.9,775.1 987.4,775.1 986.9,775.1 986.4,775.1 985.9,775.0 985.4,775.0 984.9,775.0 984.4,775.0 983.9,775.0 983.4,775.0 982.9,773.5 982.4,773.5 981.9,773.5 981.4,773.5 980.9,773.5 980.4,773.5 979.9,756.9 979.4,756.9 978.9,756.9 978.4,756.9 977.9,757.9 977.4,757.9 976.9,757.9 976.4,757.9 975.9,756.8 975.4,756.8 974.9,756.8 974.4,756.8 973.9,756.8 973.4,755.4 972.9,755.4 972.4,755.4 971.9,755.4 971.4,755.4 970.9,758.2 970.4,758.2 969.9,758.2 969.4,758.2 968.9,763.3 968.4,763.3 967.9,763.3 967.4,763.3 966.9,763.3 966.4,762.5 965.9,762.5 965.4,762.5 964.9,762.5 964.4,761.2 963.9,761.2 963.4,761.2 962.9,761.2 962.4,761.2 961.9,761.3 961.4,761.3 960.9,761.3 960.4,763.0 959.9,763.0 959.4,760.8 958.9,760.8 958.4,760.8 957.9,759.9 957.4,759.9 956.9,759.9 956.4,759.9 955.9,759.5 955.4,759.5 954.9,759.5 954.4,759.5 953.9,759.5 953.4,760.7 952.9,760.7 952.4,760.7 951.9,760.7 951.4,760.7 950.9,760.7 950.4,761.6 949.9,761.6 949.4,761.6 948.9,761.6 948.4,761.6 947.9,761.6 947.4,759.3 946.9,759.3 946.4,759.3 945.9,760.6 945.4,760.6 944.9,760.6 944.4,760.6 943.9,760.6 943.4,760.8 942.9,760.8 942.4,760.8 941.9,760.8 941.4,759.4 940.9,759.4 940.4,759.4 939.9,759.4 939.4,759.4 938.9,758.8 938.4,758.8 937.9,758.8 937.4,758.8 936.9,758.8 936.4,762.8 935.9,762.8 935.4,762.8 934.9,762.8 934.4,762.8 933.9,762.8 933.4,761.1 932.9,761.1 932.4,761.1 931.9,761.1 931.4,761.1 930.9,761.1 930.4,759.7 929.9,759.7 929.4,759.7 928.9,759.7 928.4,755.7 927.9,755.7 927.4,757.0 926.9,757.0 926.4,757.0 925.9,757.0 925.4,756.8 924.9,756.8 924.4,756.8 923.9,756.8 923.4,756.8 922.9,756.3 922.4,756.3 921.9,761.2 921.4,761.2 920.9,761.2 920.4,760.1 919.9,760.1 919.4,760.1 918.9,760.1 918.4,760.1 917.9,761.7 917.4,761.7 916.9,761.7 916.4,761.7 915.9,761.7 915.4,760.1 914.9,755.3 914.4,755.3 913.9,755.3 913.4,755.3 912.9,756.3 912.4,756.3 911.9,756.3 911.4,755.8 910.9,749.6 910.4,749.6 909.9,749.6 909.4,749.6 908.9,750.9 908.4,750.9 907.9,750.9 907.4,750.9 906.9,750.9 906.4,750.9 905.9,750.0 905.4,750.0 904.9,747.6 904.4,747.6 903.9,747.6 903.4,751.0 902.9,751.0 902.4,751.0 901.9,751.0 901.4,751.0 900.9,751.0 900.4,752.7 899.9,752.7 899.4,752.7 898.9,752.7 898.4,749.8 897.9,749.8 897.4,749.8 896.9,749.8 896.4,749.8 895.9,748.7 895.4,748.7 894.9,751.0 894.4,751.0 893.9,751.0 893.4,751.0 892.9,751.0 892.4,747.8 891.9,747.8 891.4,747.8 890.9,749.9 890.4,749.9 889.9,749.9 889.4,749.9 888.9,753.7 888.4,753.7 887.9,753.7 887.4,752.5 886.9,752.5 886.4,752.5 885.9,752.5 885.4,752.5 884.9,754.7 884.4,754.7 883.9,752.6 883.4,752.6 882.9,752.6 882.4,752.6 881.9,752.6 881.4,752.6 880.9,754.1 880.4,754.1 879.9,754.1 879.4,752.8 878.9,752.8 878.4,755.4 877.9,755.4 877.4,755.4 876.9,755.4 876.4,755.4 875.9,753.1 875.4,750.2 874.9,750.2 874.4,750.2 873.9,750.2 873.4,750.2 872.9,750.4 872.4,750.4 871.9,750.4 871.4,750.4 870.9,750.9 870.4,750.9 869.9,750.9 869.4,750.9 868.9,750.9 868.4,750.9 867.9,751.6 867.4,751.6 866.9,751.6 866.4,751.6 865.9,751.6 865.4,749.7 864.9,749.7 864.4,749.7 863.9,749.7 863.4,750.9 862.9,750.9 862.4,750.9 861.9,750.9 861.4,750.9 860.9,750.9 860.4,750.7 859.9,750.7 859.4,750.7 858.9,750.0 858.4,750.0 857.9,749.9 857.4,749.9 856.9,749.9 856.4,749.9 855.9,752.1 855.4,752.1 854.9,752.1 854.4,752.1 853.9,749.9 853.4,749.9 852.9,749.9 852.4,749.9 851.9,751.7 851.4,751.7 850.9,751.7 850.4,751.7 849.9,751.7 849.4,748.9 848.9,748.9 848.4,751.2 847.9,760.7 847.4,760.4 846.9,760.4 846.4,760.4 845.9,760.4 845.4,760.4 844.9,760.4 844.4,759.3 843.9,759.3 843.4,759.3 842.9,759.3 842.4,759.3 841.9,759.6 841.4,759.6 840.9,759.6 840.4,759.6 839.9,759.6 839.4,759.1 838.9,759.1 838.4,759.1 837.9,759.1 837.4,759.1 836.9,761.1 836.4,761.1 835.9,761.1 835.4,761.1 834.9,759.4 834.4,759.4 833.9,760.9 833.4,760.9 832.9,760.9 832.4,760.9 831.9,760.9 831.4,760.0 830.9,760.0 830.4,760.0 829.9,760.0 829.4,760.0 828.9,760.0 828.4,759.1 827.9,759.1 827.4,759.1 826.9,759.1 826.4,759.1 825.9,759.1 825.4,760.3 824.9,760.3 824.4,760.5 823.9,760.5 823.4,760.5 822.9,760.5 822.4,760.9 821.9,760.9 821.4,760.9 820.9,760.9 820.4,760.9 819.9,760.9 819.4,758.9 818.9,758.9 818.4,758.9 817.9,758.9 817.4,758.9 816.9,758.9 816.4,760.8 815.9,760.8 815.4,760.8 814.9,760.8 814.4,759.7 813.9,759.7 813.4,759.7 812.9,759.7 812.4,759.7 811.9,759.7 811.4,760.5 810.9,760.5 810.4,760.5 809.9,760.5 809.4,760.5 808.9,759.9 808.4,759.9 807.9,759.9 807.4,759.9 806.9,759.9 806.4,758.7 805.9,758.7 805.4,758.7 804.9,753.0 804.4,753.0 803.9,754.7 803.4,754.7 802.9,754.7 802.4,754.7 801.9,755.0 801.4,755.0 800.9,754.9 800.4,754.9 799.9,754.9 799.4,757.1 798.9,757.1 798.4,757.1 797.9,757.1 797.4,751.6 796.9,751.6 796.4,753.6 795.9,753.6 795.4,753.6 794.9,753.6 794.4,753.6 793.9,753.6 793.4,756.2 792.9,756.2 792.4,756.2 791.9,756.2 791.4,755.0 790.9,755.0 790.4,755.0 789.9,755.0 789.4,755.0 788.9,754.6 788.4,754.6 787.9,754.6 787.4,754.6 786.9,754.6 786.4,754.6 785.9,753.2 785.4,753.2 784.9,753.2 784.4,753.2 783.9,753.2 783.4,755.2 782.9,755.2 782.4,762.5 781.9,762.5 781.4,760.8 780.9,760.8 780.4,762.1 779.9,762.1 779.4,762.1 778.9,762.1 778.4,762.1 777.9,761.2 777.4,761.2 776.9,761.2 776.4,761.0 775.9,761.0 775.4,761.0 774.9,761.0 774.4,761.0 773.9,761.5 773.4,761.5 772.9,761.5 772.4,761.5 771.9,761.5 771.4,761.7 770.9,761.7 770.4,761.7 769.9,763.0 769.4,763.0 768.9,762.8 768.4,762.8 767.9,765.8 767.4,765.8 766.9,765.8 766.4,765.8 765.9,765.8 765.4,765.8 764.9,763.5 764.4,763.5 763.9,763.5 763.4,763.5 762.9,763.5 762.4,762.3 761.9,762.3 761.4,762.3 760.9,762.3 760.4,762.3 759.9,763.6 759.4,763.6 758.9,763.9 758.4,763.9 757.9,763.9 757.4,762.9 756.9,762.9 756.4,764.1 755.9,764.1 755.4,764.1 754.9,764.1 754.4,764.1 753.9,756.8 753.4,756.8 752.9,756.7 752.4,756.7 751.9,756.7 751.4,757.6 750.9,757.6 750.4,757.6 749.9,757.6 749.4,757.6 748.9,758.1 748.4,758.1 747.9,757.4 747.4,757.4 746.9,757.4 746.4,757.4 745.9,757.4 745.4,757.8 744.9,757.8 744.4,757.8 743.9,757.8 743.4,756.4 742.9,756.4 742.4,758.5 741.9,758.5 741.4,758.5 740.9,758.5 740.4,756.5 739.9,756.5 739.4,758.5 738.9,758.5 738.4,753.7 737.9,753.7 737.4,753.7 736.9,753.2 736.4,753.2 735.9,753.2 735.4,753.2 734.9,753.2 734.4,753.2 733.9,751.2 733.4,751.2 732.9,752.4 732.4,752.4 731.9,752.4 731.4,751.6 730.9,751.6 730.4,751.6 729.9,751.6 729.4,751.6 728.9,751.6 728.4,753.2 727.9,753.2 727.4,753.2 726.9,753.2 726.4,753.2 725.9,751.6 725.4,751.6 724.9,751.6 724.4,751.6 723.9,752.8 723.4,752.8 722.9,752.8 722.4,752.4 721.9,752.4 721.4,752.4 720.9,752.4 720.4,752.4 719.9,751.5 719.4,751.5 718.9,751.5 718.4,751.5 717.9,751.5 717.4,751.5 716.9,752.1 716.4,752.1 715.9,753.7 715.4,753.7 714.9,753.7 714.4,752.8 713.9,752.8 713.4,752.8 712.9,752.8 712.4,752.8 711.9,752.8 711.4,743.0 710.9,743.0 710.4,743.0 709.9,743.0 709.4,743.0 708.9,743.0 708.4,745.7 707.9,745.7 707.4,745.7 706.9,745.8 706.4,745.8 705.9,745.8 705.4,745.8 704.9,744.3 704.4,744.3 703.9,744.3 703.4,744.3 702.9,744.3 702.4,744.3 701.9,745.9 701.4,745.9 700.9,761.3 700.4,761.3 699.9,761.3 699.4,759.8 698.9,759.8 698.4,759.8 697.9,759.8 697.4,759.8 696.9,760.1 696.4,760.1 695.9,760.1 695.4,760.1 694.9,760.7 694.4,764.0 693.9,764.0 693.4,764.4 692.9,764.4 692.4,764.7 691.9,764.7 691.4,765.0 690.9,765.0 690.4,765.0 689.9,765.0 689.4,765.0 688.9,763.4 688.4,763.4 687.9,763.4 687.4,763.4 686.9,763.4 686.4,765.1 685.9,765.1 685.4,765.1 684.9,765.1 684.4,755.1 683.9,755.1 683.4,755.1 682.9,756.0 682.4,756.0 681.9,756.0 681.4,756.0 680.9,757.0 680.4,757.0 679.9,756.6 679.4,756.6 678.9,756.6 678.4,757.5 677.9,757.5 677.4,757.5 676.9,762.3 676.4,762.3 675.9,762.3 675.4,759.2 674.9,759.2 674.4,759.2 673.9,759.2 673.4,763.6 672.9,763.6 672.4,765.0 671.9,765.0 671.4,765.0 670.9,765.0 670.4,765.7 669.9,765.7 669.4,765.7 668.9,765.7 668.4,765.7 667.9,765.3 667.4,765.3 666.9,765.3 666.4,765.3 665.9,765.3 665.4,767.2 664.9,767.2 664.4,767.2 663.9,767.2 663.4,767.2 662.9,767.2 662.4,765.7 661.9,765.7 661.4,765.7 660.9,765.7 660.4,765.3 659.9,765.3 659.4,762.5 658.9,762.5 658.4,762.5 657.9,761.5 657.4,761.5 656.9,762.8 656.4,762.8 655.9,762.8 655.4,762.8 654.9,762.5 654.4,762.5 653.9,762.8 653.4,762.8 652.9,762.8 652.4,762.8 651.9,762.8 651.4,763.3 650.9,763.3 650.4,763.3 649.9,763.3 649.4,763.3 648.9,763.3 648.4,761.5 647.9,761.5 647.4,761.5 646.9,762.5 646.4,762.5 645.9,762.5 645.4,754.0 644.9,754.0 644.4,754.0 643.9,754.0 643.4,754.0 642.9,754.0 642.4,751.1 641.9,751.1 641.4,751.1 640.9,751.1 640.4,751.1 639.9,751.1 639.4,751.1 638.9,751.1 638.4,750.5 637.9,750.5 637.4,750.5 636.9,750.6 636.4,750.6 635.9,750.6 635.4,750.6 634.9,762.7 634.4,762.7 633.9,762.9 633.4,762.9 632.9,762.9 632.4,762.9 631.9,762.9 631.4,762.9 630.9,762.5 630.4,762.5 629.9,762.5 629.4,762.9 628.9,762.9 628.4,762.9 627.9,762.9 627.4,762.9 626.9,762.2 626.4,762.2 625.9,763.3 625.4,763.3 624.9,763.3 624.4,763.3 623.9,763.3 623.4,763.3 622.9,762.5 622.4,762.5 621.9,769.1 621.4,769.1 620.9,769.1 620.4,769.1 619.9,769.4 619.4,769.4 618.9,769.4 618.4,769.4 617.9,769.4 617.4,768.5 616.9,768.5 616.4,770.0 615.9,770.0 615.4,768.8 614.9,766.6 614.4,766.6 613.9,766.6 613.4,766.6 612.9,767.3 612.4,767.3 611.9,767.3 611.4,767.7 610.9,767.7 610.4,767.7 609.9,767.7 609.4,767.7 608.9,767.7 608.4,768.1 607.9,768.1 607.4,768.1 606.9,768.1 606.4,767.6 605.9,767.6 605.4,767.6 604.9,767.6 604.4,766.6 603.9,766.6 603.4,766.6 602.9,766.6 602.4,766.6 601.9,766.7 601.4,766.7 600.9,766.7 600.4,766.7 599.9,769.7 599.4,769.7 598.9,769.7 598.4,769.7 597.9,769.7 597.4,769.7 596.9,765.6 596.4,765.6 595.9,767.9 595.4,765.2 594.9,765.2 594.4,765.2 593.9,765.2 593.4,765.2 592.9,765.8 592.4,765.8 591.9,765.8 591.4,765.8 590.9,765.8 590.4,764.2 589.9,764.2 589.4,766.3 588.9,766.3 588.4,766.3 587.9,766.3 587.4,766.3 586.9,766.3 586.4,762.2 585.9,762.2 585.4,762.2 584.9,762.2 584.4,762.2 583.9,765.3 583.4,765.3 582.9,765.3 582.4,767.7 581.9,767.7 581.4,763.8 580.9,763.8 580.4,763.8 579.9,763.8 579.4,763.8 578.9,763.8 578.4,765.2 577.9,758.6 577.4,758.6 576.9,758.6 576.4,757.2 575.9,757.2 575.4,757.2 574.9,757.2 574.4,757.2 573.9,757.2 573.4,759.0 572.9,759.0 572.4,759.0 571.9,759.0 571.4,759.0 570.9,759.0 570.4,758.0 569.9,758.0 569.4,758.0 568.9,758.0 568.4,758.0 567.9,762.4 567.4,762.8 566.9,762.8 566.4,762.8 565.9,762.3 565.4,762.3 564.9,762.3 564.4,762.3 563.9,762.3 563.4,762.6 562.9,762.6 562.4,762.6 561.9,762.6 561.4,762.6 560.9,761.9 560.4,761.9 559.9,761.7 559.4,761.7 558.9,762.1 558.4,762.1 557.9,762.1 557.4,762.1 556.9,762.1 556.4,762.1 555.9,763.3 555.4,763.3 554.9,763.3 554.4,763.3 553.9,762.1 553.4,762.1 552.9,762.1 552.4,762.1 551.9,762.1 551.4,762.1 550.9,744.4 550.4,744.4 549.9,744.5 549.4,744.5 548.9,744.5 548.4,744.9 547.9,744.9 547.4,744.9 546.9,746.4 546.4,746.4 545.9,745.8 545.4,745.8 544.9,745.8 544.4,745.8 543.9,745.8 543.4,745.8 542.9,745.5 542.4,745.5 541.9,745.5 541.4,764.2 540.9,764.9 540.4,764.9 539.9,764.9 539.4,764.9 538.9,764.9 538.4,763.7 537.9,763.7 537.4,763.7 536.9,763.7 536.4,763.7 535.9,761.6 535.4,761.6 534.9,761.6 534.4,763.9 533.9,763.9 533.4,763.9 532.9,763.9 532.4,763.9 531.9,764.2 531.4,764.2 530.9,764.2 530.4,764.2 529.9,764.2 529.4,763.8 528.9,763.8 528.4,763.9 527.9,763.9 527.4,763.9 526.9,763.9 526.4,763.9 525.9,763.9 525.4,763.2 524.9,756.0 524.4,756.0 523.9,756.0 523.4,756.7 522.9,756.7 522.4,757.8 521.9,757.8 521.4,756.7 520.9,756.7 520.4,756.7 519.9,756.7 519.4,756.7 518.9,756.7 518.4,756.6 517.9,756.6 517.4,756.6 516.9,756.6 516.4,756.6 515.9,753.7 515.4,753.7 514.9,766.0 514.4,766.0 513.9,766.0 513.4,766.0 512.9,766.0 512.4,765.1 511.9,765.1 511.4,765.1 510.9,765.1 510.4,765.1 509.9,765.1 509.4,762.4 508.9,762.4 508.4,764.6 507.9,764.6 507.4,765.3 506.9,765.3 506.4,765.3 505.9,765.3 505.4,765.6 504.9,765.6 504.4,765.6 503.9,765.6 503.4,765.6 502.9,762.6 502.4,762.6 501.9,764.7 501.4,764.7 500.9,764.7 500.4,764.7 499.9,764.7 499.4,767.5 498.9,767.5 498.4,764.8 497.9,764.8 497.4,764.8 496.9,763.5 496.4,763.5 495.9,763.5 495.4,763.5 494.9,763.5 494.4,763.0 493.9,763.0 493.4,763.2 492.9,763.2 492.4,763.2 491.9,763.2 491.4,763.1 490.9,763.1 490.4,763.1 489.9,763.1 489.4,763.1 488.9,763.2 488.4,763.2 487.9,763.2 487.4,765.3 486.9,765.3 486.4,765.3 485.9,765.3 485.4,765.3 484.9,765.3 484.4,766.7 483.9,766.7 483.4,766.7 482.9,766.7 482.4,765.6 481.9,765.6 481.4,765.9 480.9,765.9 480.4,765.8 479.9,765.8 479.4,766.6 478.9,766.6 478.4,766.6 477.9,766.6 477.4,766.6 476.9,763.8 476.4,763.8 475.9,763.8 475.4,769.0 474.9,769.0 474.4,769.0 473.9,771.4 473.4,771.4 472.9,771.4 472.4,771.4 471.9,768.7 471.4,768.7 470.9,768.7 470.4,768.7 469.9,770.8 469.4,770.8 468.9,771.5 468.4,771.5 467.9,771.5 467.4,771.5 466.9,771.5 466.4,771.5 465.9,772.7 465.4,772.7 464.9,772.7 464.4,772.7 463.9,772.1 463.4,772.1 462.9,775.8 462.4,775.8 461.9,775.8 461.4,775.8 460.9,774.9 460.4,774.9 459.9,774.9 459.4,774.9 458.9,776.1 458.4,776.1 457.9,776.1 457.4,776.0 456.9,776.0 456.4,776.0 455.9,776.0 455.4,776.0 454.9,774.5 454.4,774.5 453.9,774.5 453.4,774.5 452.9,774.8 452.4,774.8 451.9,774.8 451.4,775.3 450.9,775.3 450.4,775.3 449.9,775.3 449.4,776.3 448.9,776.3 448.4,776.3 447.9,776.3 447.4,776.3 446.9,776.5 446.4,776.5 445.9,775.1 445.4,775.1 444.9,775.1 444.4,774.9 443.9,774.9 443.4,774.9 442.9,774.9 442.4,774.9 441.9,774.9 441.4,774.8 440.9,774.8 440.4,775.0 439.9,775.0 439.4,775.0 438.9,775.0 438.4,775.0 437.9,775.0 437.4,775.7 436.9,775.7 436.4,775.9 435.9,775.9 435.4,775.9 434.9,775.9 434.4,775.9 433.9,775.4 433.4,775.4 432.9,776.1 432.4,776.1 431.9,754.5 431.4,754.5 430.9,754.5 430.4,754.5 429.9,754.5 429.4,754.5 428.9,754.6 428.4,754.6 427.9,754.6 427.4,754.6 426.9,754.6 426.4,756.6 425.9,756.6 425.4,754.9 424.9,754.9 424.4,754.9 423.9,754.9 423.4,754.3 422.9,754.3 422.4,754.9 421.9,754.9 421.4,754.9 420.9,754.9 420.4,756.7 419.9,756.7 419.4,756.7 418.9,756.7 418.4,747.7 417.9,747.7 417.4,747.7 416.9,747.7 416.4,747.7 415.9,750.0 415.4,750.0 414.9,750.0 414.4,751.5 413.9,751.5 413.4,751.5 412.9,751.5 412.4,749.6 411.9,749.6 411.4,750.6 410.9,750.6 410.4,748.3 409.9,748.3 409.4,748.3 408.9,749.2 408.4,749.2 407.9,749.2 407.4,749.2 406.9,749.2 406.4,749.2 405.9,748.9 405.4,748.9 404.9,741.5 404.4,741.5 403.9,741.5 403.4,741.5 402.9,742.3 402.4,742.3 401.9,742.3 401.4,742.3 400.9,742.3 400.4,742.5 399.9,742.5 399.4,742.5 398.9,742.5 398.4,742.5 397.9,742.5 397.4,739.3 396.9,739.3 396.4,739.3 395.9,739.3 395.4,739.3 394.9,739.3 394.4,741.3 393.9,741.3 393.4,741.3 392.9,741.3 392.4,741.3 391.9,741.3 391.4,742.1 390.9,742.1 390.4,742.1 389.9,742.1 389.4,742.1 388.9,742.1 388.4,740.9 387.9,740.9 387.4,740.9 386.9,740.9 386.4,740.9 385.9,740.9 385.4,742.6 384.9,742.6 384.4,742.6 383.9,742.1 383.4,742.1 382.9,742.1 382.4,739.1 381.9,739.1 381.4,740.2 380.9,743.9 380.4,743.9 379.9,743.9 379.4,743.9 378.9,743.9 378.4,742.1 377.9,742.1 377.4,742.1 376.9,742.1 376.4,742.1 375.9,742.1 375.4,742.9 374.9,742.9 374.4,742.9 373.9,742.9 373.4,744.0 372.9,744.0 372.4,744.0 371.9,738.7 371.4,738.7 370.9,738.7 370.4,739.0 369.9,739.0 369.4,739.0 368.9,739.0 368.4,739.0 367.9,738.0 367.4,738.0 366.9,754.7 366.4,754.7 365.9,755.1 365.4,755.1 364.9,753.9 364.4,753.9 363.9,753.9 363.4,753.9 362.9,753.9 362.4,754.5 361.9,754.5 361.4,754.5 360.9,755.6 360.4,755.6 359.9,753.7 359.4,753.7 358.9,753.1 358.4,753.1 357.9,753.1 357.4,753.1 356.9,754.6 356.4,754.6 355.9,754.6 355.4,754.6 354.9,754.6 354.4,754.6 353.9,757.4 353.4,757.4 352.9,757.4 352.4,757.4 351.9,754.6 351.4,754.6 350.9,755.8 350.4,755.8 349.9,755.8 349.4,755.8 348.9,757.6 348.4,757.6 347.9,757.6 347.4,757.0 346.9,757.0 346.4,757.0 345.9,756.3 345.4,756.3 344.9,756.3 344.4,756.4 343.9,756.4 343.4,756.4 342.9,756.4 342.4,756.4 341.9,756.4 341.4,757.8 340.9,757.8 340.4,757.0 339.9,757.0 339.4,757.0 338.9,757.0 338.4,757.0 337.9,757.0 337.4,757.6 336.9,757.6 336.4,757.6 335.9,757.6 335.4,757.6 334.9,757.6 334.4,757.0 333.9,757.0 333.4,757.0 332.9,757.0 332.4,757.0 331.9,755.9 331.4,760.9 330.9,760.9 330.4,760.9 329.9,760.9 329.4,760.9 328.9,761.6 328.4,761.6 327.9,761.6 327.4,762.0 326.9,762.0 326.4,767.5 325.9,767.5 325.4,768.4 324.9,768.4 324.4,767.4 323.9,767.4 323.4,765.5 322.9,765.5 322.4,765.5 321.9,765.5 321.4,767.2 320.9,767.2 320.4,767.2 319.9,767.2 319.4,767.2 318.9,769.0 318.4,769.0 317.9,769.0 317.4,767.7 316.9,767.7 316.4,767.7 315.9,767.7 315.4,768.4 314.9,768.4 314.4,768.4 313.9,772.3 313.4,772.3 312.9,771.8 312.4,771.8 311.9,771.8 311.4,771.8 310.9,771.8 310.4,773.7 309.9,773.7 309.4,773.7 308.9,773.7 308.4,773.7 307.9,772.5 307.4,772.5 306.9,771.5 306.4,771.5 305.9,771.5 305.4,771.5 304.9,771.5 304.4,771.5 303.9,771.5 303.4,771.5 302.9,771.5 302.4,771.5 301.9,771.5 301.4,770.9 300.9,770.9 300.4,772.6 299.9,772.6 299.4,772.6 298.9,772.6 298.4,762.4 297.9,762.4 297.4,762.4 296.9,762.4 296.4,762.4 295.9,761.1 295.4,761.1 294.9,761.8 294.4,761.8 293.9,761.0 293.4,761.0 292.9,761.0 292.4,761.6 291.9,761.6 291.4,762.2 290.9,762.2 290.4,762.2 289.9,761.5 289.4,761.5 288.9,761.5 288.4,762.1 287.9,762.1 287.4,762.1 286.9,762.1 286.4,761.4 285.9,761.4 285.4,761.4 284.9,761.4 284.4,756.3 283.9,756.3 283.4,755.5 282.9,755.5 282.4,756.6 281.9,756.6 281.4,756.6 280.9,756.6 280.4,756.6 279.9,756.6 279.4,756.3 278.9,756.3 278.4,756.3 277.9,756.3 277.4,756.3 276.9,756.3 276.4,757.3 275.9,757.3 275.4,757.3 274.9,757.1 274.4,757.1 273.9,757.1 273.4,757.1 272.9,757.1 272.4,756.9 271.9,756.9 271.4,744.1 270.9,744.1 270.4,743.3 269.9,743.3 269.4,743.3 268.9,738.9 268.4,739.2 267.9,739.2 267.4,739.2 266.9,739.2 266.4,739.2 265.9,740.9 265.4,740.9 264.9,740.9 264.4,740.9 263.9,740.9 263.4,741.5 262.9,741.5 262.4,741.5 261.9,741.5 261.4,741.5 260.9,741.5 260.4,739.0 259.9,739.0 259.4,739.2 258.9,739.2 258.4,739.2 257.9,740.6 257.4,735.1 256.9,735.1 256.4,735.1 255.9,735.1 255.4,733.4 254.9,733.4 254.4,733.4 253.9,733.4 253.4,733.4 252.9,733.4 252.4,733.9 251.9,733.9 251.4,735.0 250.9,735.0 250.4,735.0 249.9,734.8 249.4,734.8 248.9,734.8 248.4,734.8 247.9,734.8 247.4,734.8 246.9,734.8 246.4,735.3 245.9,735.3 245.4,735.3 244.9,735.3 244.4,731.5 243.9,731.5 243.4,732.5 242.9,732.5 242.4,732.5 241.9,732.5 241.4,732.8 240.9,732.8 240.4,732.8 239.9,732.8 239.4,732.8 238.9,732.8 238.4,732.5 237.9,732.5 237.4,732.5 236.9,732.5 236.4,732.5 235.9,732.5 235.4,731.2 234.9,731.2 234.4,731.2 233.9,731.2 233.4,738.5 232.9,738.7 232.4,738.7 231.9,738.7 231.4,738.7 230.9,739.8 230.4,739.8 229.9,739.8 229.4,739.8 228.9,739.8 228.4,737.9 227.9,737.9 227.4,737.9 226.9,739.3 226.4,739.3 225.9,739.0 225.4,739.0 224.9,738.4 224.4,738.4 223.9,741.1 223.4,741.1 222.9,741.1 222.4,742.3 221.9,742.3 221.4,742.3 220.9,742.3 220.4,741.0 219.9,741.0 219.4,747.5 218.9,747.5 218.4,747.5 217.9,747.5 217.4,747.5 216.9,747.5 216.4,747.1 215.9,747.1 215.4,751.0 214.9,751.0 214.4,751.0 213.9,748.9 213.4,748.9 212.9,748.9 212.4,748.9 211.9,749.0 211.4,749.0 210.9,749.1 210.4,749.1 209.9,749.1 209.4,747.6 208.9,747.6 208.4,747.6 207.9,747.6 207.4,747.6 206.9,749.2 206.4,749.2 205.9,754.0 205.4,753.4 204.9,753.4 204.4,753.4 203.9,752.9 203.4,752.9 202.9,752.5 202.4,752.5 201.9,752.5 201.4,752.5 200.9,752.5 200.4,752.8 199.9,752.8 199.4,756.7 198.9,756.7 198.4,756.7 197.9,756.7 197.4,758.0 196.9,758.0 196.4,758.3 195.9,758.3 195.4,758.3 194.9,758.3 194.4,758.3 193.9,756.9 193.4,756.9 192.9,756.9 192.4,756.1 191.9,746.7 191.4,746.7 190.9,746.7 190.4,746.7 189.9,746.7 189.4,746.8 188.9,746.8 188.4,746.8 187.9,748.1 187.4,748.1 186.9,748.1 186.4,748.1 185.9,748.1 185.4,747.7 184.9,747.7 184.4,747.7 183.9,747.7 183.4,747.7 182.9,748.1 182.4,748.1 181.9,748.5 181.4,748.5 180.9,748.5 180.4,748.5 179.9,748.5 179.4,747.3 178.9,747.3 178.4,747.3"/>
<g stroke="#000" stroke-width="2" fill="none" stroke-linecap="butt">
<line x1="157.2" y1="80.3" x2="157.2" y2="835"/>
<line x1="156.2" y1="834" x2="1324.7" y2="834"/>
<line x1="143.2" y1="811.9" x2="157.2" y2="811.9"/>
<line x1="143.2" y1="710.6" x2="157.2" y2="710.6"/>
<line x1="143.2" y1="609.2" x2="157.2" y2="609.2"/>
<line x1="143.2" y1="507.9" x2="157.2" y2="507.9"/>
<line x1="143.2" y1="406.5" x2="157.2" y2="406.5"/>
<line x1="143.2" y1="305.2" x2="157.2" y2="305.2"/>
<line x1="143.2" y1="203.8" x2="157.2" y2="203.8"/>
<line x1="143.2" y1="102.5" x2="157.2" y2="102.5"/>
<line x1="180" y1="834" x2="180" y2="848.9"/>
<line x1="339.9" y1="834" x2="339.9" y2="848.9"/>
<line x1="501" y1="834" x2="501" y2="848.9"/>
<line x1="660.5" y1="834" x2="660.5" y2="848.9"/>
<line x1="822" y1="834" x2="822" y2="848.9"/>
<line x1="982" y1="834" x2="982" y2="848.9"/>
<line x1="1143" y1="834" x2="1143" y2="848.9"/>
<line x1="1302" y1="834" x2="1302" y2="848.9"/>
</g>
<g font-size="35.4" text-anchor="end">
<text x="135.3" y="822.0">0</text>
<text x="135.3" y="720.7">500</text>
<text x="135.3" y="619.3">1000</text>
<text x="135.3" y="518.0">1500</text>
<text x="135.3" y="416.6">2000</text>
<text x="135.3" y="315.3">2500</text>
<text x="135.3" y="213.9">3000</text>
<text x="135.3" y="112.6">3500</text>
</g>
<g font-size="35.4" text-anchor="middle" word-spacing="-2.2">
<text x="179.3" y="882.2">Jan 1</text><text x="179.3" y="917.5">2011</text>
<text x="341.6" y="882.2">Jan 1</text><text x="341.6" y="917.5">2012</text>
<text x="502.3" y="882.2">Jan 1</text><text x="502.3" y="917.5">2013</text>
<text x="663.1" y="882.2">Jan 1</text><text x="663.1" y="917.5">2014</text>
<text x="824.5" y="882.2">Jan 1</text><text x="824.5" y="917.5">2015</text>
<text x="985.2" y="882.2">Jan 1</text><text x="985.2" y="917.5">2016</text>
<text x="1146.7" y="882.2">Jan 1</text><text x="1146.7" y="917.5">2017</text>
<text x="1308.2" y="882.2" word-spacing="-1">Dec 30</text><text x="1308.2" y="917.5">2017</text>
<text x="741.2" y="972.8">Date</text>
<text transform="translate(30.1,457) rotate(-90) scale(1,1.05)" x="0" y="0">MW</text>
</g>
<rect x="286" y="1.4" width="887.2" height="64.4" fill="#fff" stroke="#000" stroke-width="1.7"/>
<line x1="301" y1="33.7" x2="433" y2="33.7" stroke="#1a476f" stroke-width="4"/>
<line x1="579.8" y1="33.7" x2="712" y2="33.7" stroke="#90353b" stroke-width="4"/>
<line x1="882.7" y1="33.7" x2="1014.7" y2="33.7" stroke="#55752f" stroke-width="4"/>
<g font-size="35.4"><text x="449.5" y="44.9">RRS</text><text x="726" y="44.9">NSRS</text><text x="1030" y="44.9">REGUP</text></g>
</svg></body></html>
